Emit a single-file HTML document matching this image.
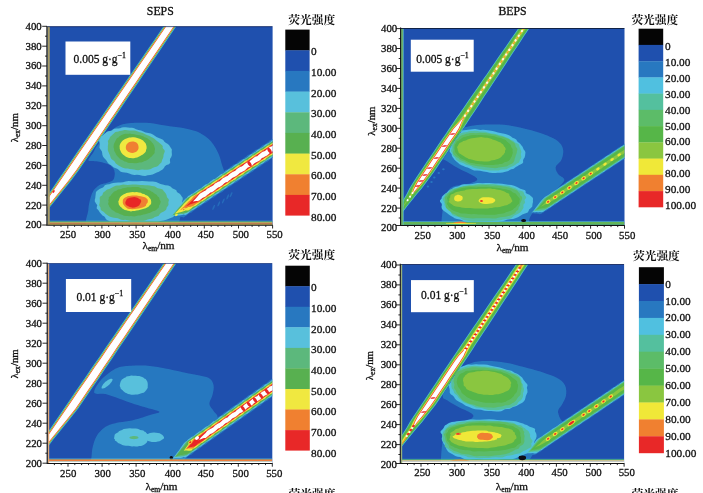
<!DOCTYPE html><html><head><meta charset="utf-8"><title>EEM</title><style>html,body{margin:0;padding:0;background:#fff}svg{display:block;font-family:'Liberation Serif','Noto Serif CJK SC',serif;font-size:10.8px;fill:#111}.t text,text.t{stroke:#111;stroke-width:.3px}</style></head><body>
<svg width="703" height="493" viewBox="0 0 703 493">
<defs><filter id="bl" x="-5%" y="-5%" width="110%" height="110%"><feGaussianBlur stdDeviation="0.45"/></filter></defs>
<rect width="703" height="493" fill="#fff"/>
<clipPath id="ca"><rect x="47.3" y="26.3" width="225.3" height="198.7"/></clipPath>
<rect x="47.3" y="26.3" width="225.3" height="198.7" fill="#1f50ae"/>
<g clip-path="url(#ca)" filter="url(#bl)">
<path fill="#2878c0" d="M88.3,160.1 88.6,159.1 89.5,157.7 90.7,156.1 91.9,154.5 93,153 93.7,151.7 94.3,150.5 94.9,149.2 95.7,147.8 97,146 98.8,143.7 100.9,140.9 103.3,138 105.8,135.2 108.4,132.8 110.9,130.7 113.5,128.7 116.2,126.9 119.3,125.4 122.7,124.2 126.7,123.4 131.3,122.9 136.1,122.7 140.9,122.7 145.4,122.8 149.6,123.1 153.6,123.6 157.5,124.3 161.4,125 165.3,125.6 169.4,126.2 173.6,126.7 177.7,127.2 181.7,127.8 185.3,128.5 188.6,129.2 191.5,129.9 194.3,130.7 196.9,131.6 199.5,132.8 202,134.2 204.5,135.8 206.8,137.5 208.9,139.3 210.9,141.3 212.6,143.4 214.2,145.7 215.6,148 216.9,150.4 218,152.7 219,155 219.8,157.2 220.5,159.4 221.1,161.7 221.7,164 222.5,166.4 223.4,168.7 224.2,171.2 224.5,173.6 224,176 222.5,178.4 220.3,180.8 217.6,183.2 214.8,185.6 212,188 209.4,190.4 206.6,192.7 203.8,195.1 201,197.5 198,200 194.8,202.7 191.5,205.5 188.1,208.3 184.8,211.2 182,214 180.3,217 179.6,220.2 178.7,223.3 176.6,226 172,228 164,229.2 153.3,229.9 141.4,230.1 129.8,230 120,230 111.8,230.1 104.2,230.2 97.5,230.1 92,229.5 88,228 86,225.4 85.7,221.8 86.5,217.7 87.6,213.7 88.3,210.4 88.5,207.7 88.8,205.4 89.2,203.3 89.6,201.4 90.1,199.4 90.7,197.4 91.3,195.5 92,193.6 92.8,191.9 93.7,190.3 94.8,188.9 96.1,187.7 97.4,186.6 98.8,185.6 100.1,184.8 101.4,184.2 102.7,183.9 103.9,183.6 105.2,183.4 106.5,183 107.9,182.5 109.3,182.1 110.7,181.6 111.9,180.9 112.9,180.2 113.6,179.3 114.1,178.2 114.4,177 114.6,175.8 114.7,174.7 114.8,173.6 114.7,172.5 114.5,171.4 114.3,170.3 113.8,169.3 113.2,168.3 112.4,167.3 111.5,166.4 110.5,165.5 109.3,164.7 107.9,164 106.2,163.4 104.4,162.9 102.7,162.4 101,162 99.4,161.7 97.9,161.5 96.4,161.3 95,161.2 93.7,161 92.3,160.9 90.9,160.9 89.6,160.9 88.7,160.7ZM167.7,20 160.8,30 154,40 147.1,50 140.2,60 133.3,70 126.5,80 119.6,90 112.7,100 105.8,110 99,120 92.1,130 85.2,140 78.3,150 71.5,160 64.7,170 57.8,180 51,190 44.2,200 37.3,210 30.5,220 23.7,230 33.3,230 40.6,220 47.9,210 55.9,200 63.9,190 71.9,180 79.3,170 86.1,160 92.9,150 99.7,140 106.5,130 113.2,120 120,110 126.7,100 133.5,90 140.3,80 147,70 153.8,60 160.6,50 167.3,40 174.1,30 180.9,20ZM168,218.2 169.6,217.2 171.1,215.3 172.7,213.2 174.3,211.2 175.8,209.2 177.4,206.9 179,204.5 180.5,202.8 182.1,200.7 183.7,198.9 185.2,197 186.8,195.8 188.3,195.2 189.9,194.2 191.5,193.5 193,191.7 194.6,190.8 196.2,189.9 197.7,189.1 199.3,188.1 200.9,186.4 202.4,185.7 204,184.6 205.6,184.1 207.1,182.7 208.7,181.2 210.3,180.4 211.8,179.4 213.4,178.9 215,177.3 216.5,176.1 218.1,175.1 219.7,174.4 221.2,173.7 222.8,171.9 224.3,171 225.9,169.8 227.5,169.4 229,168.3 230.6,166.8 232.2,165.7 233.7,164.6 235.3,164.3 236.9,162.9 238.4,161.6 240,160.4 241.6,159.5 243.1,159.1 244.7,157.5 246.3,156.5 247.8,155.1 249.4,154.5 251,153.8 252.5,152.3 254.1,151.2 255.7,149.8 257.2,149.5 258.8,148.4 260.3,147.2 261.9,145.8 263.5,144.7 265,144.4 266.6,143 268.2,142 269.7,140.5 271.3,139.7 272.9,139.1 274.4,137.8 276,136.8 276,156 274.4,157 272.9,157.6 271.3,158.6 269.7,159.5 268.2,161.3 266.6,162.1 265,162.9 263.5,163.7 261.9,164.9 260.3,166.6 258.8,167.2 257.2,168.2 255.7,168.8 254.1,170.3 252.5,171.7 251,172.4 249.4,173.4 247.8,174 246.3,175.8 244.7,176.8 243.1,177.7 241.6,178.4 240,179.3 238.4,181.1 236.9,181.9 235.3,183 233.7,183.5 232.2,184.7 230.6,186.3 229,187.1 227.5,188.2 225.9,188.6 224.3,190.1 222.8,191.4 221.2,192.4 219.7,193.3 218.1,193.8 216.5,195.5 215,196.5 213.4,197.8 211.8,198.3 210.3,199.2 208.7,200.7 207.1,201.7 205.6,203 204,203.3 202.4,204.6 200.9,205.9 199.3,207.1 197.7,208.1 196.2,208.5 194.6,209.9 193,211 191.5,212.4 189.9,213.1 188.3,213.7 186.8,215.2 185.2,216.2 183.7,217.5 182.1,216.9 180.5,216.8 179,216.9 177.4,217 175.8,217.1 174.3,216.8 172.7,216.9 171.1,216.9 169.6,217.2 168,218.2Z"/>
<path fill="#58c0dc" d="M171.8,155.6 171.1,157.3 170.1,158.8 169.9,160.6 170.2,162.7 169,164.2 166.5,165.1 164.9,166.3 163.9,168 162.6,169.4 160.8,170.6 158.9,171.7 156.8,172.6 154.7,173.5 152.6,174.4 150.1,174.9 147.6,175.3 145.2,175.9 142.4,175.8 139.5,174.9 136.9,174.7 134.4,175 131.8,174.6 129.2,173.5 126.8,172.8 124.7,172.5 122.7,172.3 120.7,171.7 119.1,170.3 117.7,168.9 115.8,168.2 113.8,167.5 112.3,166.3 110.7,165.1 108.9,164.1 107.6,162.6 106.8,160.9 105.6,159.5 104.1,158.1 103,156.5 102.4,154.7 102.2,152.9 101.8,151.2 100.5,149.5 99.4,147.7 99.6,145.8 99.9,144 99.3,142.1 99,140.1 99.6,139 100.5,137.9 101.4,136.8 102.4,135.8 103.4,134.8 104.4,133.8 105.5,132.9 106.6,132 108,131.2 110,130.9 111.9,130.6 113,129.6 114.3,128.7 116.3,128.6 118.3,128.6 120.1,128.2 121.8,127.6 123.7,127.3 125.7,127.3 127.8,127.5 129.9,127.7 132,127.8 134.1,128.3 136,129.2 138.5,129.9 141,130.5 143.3,131.5 145.5,132.4 148.2,132.9 150.8,133.5 152.9,134.6 154.7,135.8 156.5,137 158.8,137.9 161.4,138.9 163.3,140.1 164.2,141.5 165.7,142.7 167.8,143.9 169.2,145.3 169.9,146.6 170.9,148 171.8,149.3 171.8,150.6 171.7,151.9 171.8,153.1 171.9,154.4ZM182.1,201.5 181.7,203.7 180.8,205.4 180.2,206.9 180.4,208.5 179.4,209.8 176.8,210.8 175.6,211.9 176,213.5 175.7,214.9 174.3,216.1 172.7,217.2 170.6,218.1 168.3,218.9 166.3,219.8 163.7,220.5 160.8,220.9 158.3,221.7 155.6,222.4 152.3,222.6 149,222.9 145.8,223.6 142,223.7 137.7,223.2 132.6,223.3 128.6,223.7 125.4,223.9 122.5,223.8 119.9,223.4 117.6,222.7 115,222.6 112.2,222.6 110.1,221.9 108.6,220.8 106.9,219.9 105.7,218.7 105,217.3 104,216.2 102.5,215.4 101.4,214.3 100.5,213.2 99.5,212 98.8,210.8 97.8,209.6 96.7,208.4 96.8,206.8 97.3,205.2 96.2,203.7 94.8,201.5 94.8,199.4 95.3,197.9 95.4,196.4 95.6,195 95.8,193.6 95.9,192.2 96.8,191 98.2,190 99.5,189 101.2,188.2 103,187.5 104,186.4 104.8,185.2 106.9,184.6 109.3,184.3 111.1,183.6 113.1,183 115.5,182.7 118,182.6 120.5,182.5 123.1,182.2 125.6,181.6 128.6,181 132.6,181.2 137.8,181.2 142.1,181 145.8,181.2 149.2,181.6 152.8,181.6 156.1,181.9 158.3,182.9 160.4,183.9 162.7,184.6 165.3,185.2 168.1,185.6 170.5,186.4 171.5,187.6 172.7,188.6 175,189.4 176.5,190.4 176.8,191.7 177.9,192.8 179.7,193.8 180.8,195.1 181.7,196.4 182.7,197.8 182.7,199.4ZM168.2,20 161.3,30 154.5,40 147.6,50 140.7,60 133.8,70 127,80 120.1,90 113.2,100 106.3,110 99.5,120 92.6,130 85.7,140 78.8,150 72,160 65.2,170 58.3,180 51.5,190 44.7,200 37.8,210 31,220 24.2,230 32.8,230 40.1,220 47.4,210 55.4,200 63.4,190 71.4,180 78.8,170 85.6,160 92.4,150 99.2,140 106,130 112.7,120 119.5,110 126.2,100 133,90 139.8,80 146.5,70 153.3,60 160.1,50 166.8,40 173.6,30 180.4,20ZM168,218.2 169.6,217.2 171.1,216.1 172.7,214.4 174.3,212.3 175.8,210.4 177.4,208.5 179,206.7 180.5,204.4 182.1,202.4 183.7,200.4 185.2,198.9 186.8,197.7 188.3,196.1 189.9,195.2 191.5,194 193,193.6 194.6,192.3 196.2,190.9 197.7,189.9 199.3,188.9 200.9,188.5 202.4,186.9 204,185.8 205.6,184.5 207.1,183.9 208.7,183.2 210.3,181.6 211.8,180.6 213.4,179.2 215,178.9 216.5,177.8 218.1,176.5 219.7,175.3 221.2,174 222.8,173.8 224.3,172.5 225.9,171.3 227.5,169.9 229,169 230.6,168.5 232.2,167.2 233.7,166.1 235.3,164.5 236.9,164 238.4,163.2 240,162 241.6,160.8 243.1,159.3 244.7,158.9 246.3,157.9 247.8,156.9 249.4,155.4 251,154.2 252.5,153.8 254.1,152.6 255.7,151.7 257.2,150 258.8,149.2 260.3,148.5 261.9,147.5 263.5,146.4 265,144.7 266.6,144.1 268.2,143.2 269.7,142.4 271.3,141 272.9,139.5 274.4,139 276,137.9 276,154.3 274.4,155.2 272.9,156.5 271.3,157.7 269.7,159.1 268.2,159.4 266.6,160.6 265,161.6 263.5,163.1 261.9,164.1 260.3,164.6 258.8,165.8 257.2,166.8 255.7,168.5 254.1,169.2 252.5,169.9 251,171 249.4,172.2 247.8,173.8 246.3,174.2 244.7,175.2 243.1,176.1 241.6,177.6 240,178.9 238.4,179.4 236.9,180.5 235.3,181.3 233.7,183 232.2,183.9 230.6,184.7 229,185.6 227.5,186.5 225.9,188.3 224.3,189 222.8,190 221.2,190.7 219.7,191.9 218.1,193.5 216.5,194.2 215,195.2 213.4,195.8 211.8,197.4 210.3,198.6 208.7,199.4 207.1,200.3 205.6,201 204,202.8 202.4,203.7 200.9,204.7 199.3,205.4 197.7,206.3 196.2,208 194.6,208.9 193,210 191.5,210.4 189.9,211.8 188.3,213.2 186.8,214.2 185.2,215 183.7,214.5 182.1,215.1 180.5,215.3 179,215.5 177.4,215.4 175.8,215.4 174.3,215.7 172.7,215.8 171.1,216.1 169.6,217.2 168,218.2Z"/>
<path fill="#5cb87c" d="M163.8,153.9 163.5,155.3 163.4,156.8 163,158.2 162.3,159.5 161.9,160.9 161.4,162.4 160.2,163.6 159,164.7 158,166 156.3,166.8 154.2,167.3 152.5,168.1 150.9,169 149,169.6 146.9,169.8 144.6,169.7 142.3,169.5 140.3,169.8 138.3,170.3 136.1,170 134,169.5 131.9,169.3 129.7,169 127.7,168.5 126,168.4 124.4,168.3 122.8,167.7 121.3,167 119.9,166.3 118.5,165.4 117.2,164.5 115.8,163.6 115,162.3 114.2,160.9 112.8,160 111.4,159.1 110.7,157.7 110.3,156.2 109.7,154.8 109.1,153.5 108.5,152.1 107.9,150.7 107.8,149.3 107.9,147.8 107.8,146.4 108,145 108.2,143.5 108,142.1 107.8,140.9 108.5,140 109.3,139.1 109.6,138.1 110,137.1 110.8,136.2 111.7,135.4 112.7,134.6 113.6,133.8 114.3,132.9 115.4,132.1 117,131.8 118.5,131.5 119.8,131 121.3,130.7 122.8,130.5 124.3,130.1 125.8,130 127.5,130.2 129.2,130.4 130.8,130.4 132.4,130.4 134.1,130.4 135.7,130.7 137.8,131.6 139.8,132.3 142,132.7 144,133.4 145.7,134.4 147.5,135.3 149.5,136 151.2,136.9 152.9,137.8 154.5,138.8 155.8,139.9 156.9,140.9 158.3,142 159.5,143 160.7,144.1 162.1,145.2 162.8,146.3 162.6,147.4 163,148.6 164.2,149.7 164.8,150.9 164.6,151.9 164.2,152.9ZM168.5,201.5 168.3,203.1 168.6,204.6 167.9,206 166.8,207.2 166.5,208.5 166.1,209.7 164.9,210.8 163.3,211.7 161.6,212.5 160.2,213.4 159.5,214.6 158.7,215.8 156.8,216.4 154.8,217 153.5,218 151.7,218.7 149.4,219 147.5,219.6 145.5,220.4 143.3,220.9 140.8,221.1 138.3,221.2 135.6,221.1 132.6,221 129.9,220.8 127.6,220.3 125.5,219.8 123.3,220 121.1,219.8 119.5,218.9 117.9,218.2 115.9,218 113.8,217.7 111.9,217.3 110.1,216.7 108.6,215.9 107.3,215 105.8,214.1 104.8,213 103.9,211.9 102.3,211 100.8,210 100.6,208.7 100.4,207.3 99.5,206.1 99.1,204.7 99.6,203.2 99.8,201.5 99.8,200 99.7,198.7 99.7,197.4 100.5,196.3 102,195.4 102.7,194.3 102.9,193.1 103.9,192.1 105.2,191.3 106.1,190.3 107.3,189.5 109.2,189 110.8,188.3 112.1,187.5 113.5,186.7 115,186 116.9,185.5 119.1,185.4 121.2,185.1 123.1,184.6 125.4,184.7 127.7,185 130,184.8 132.6,184.4 135.5,184.5 138,184.8 140.4,184.9 142.7,185.1 145,185.2 147.4,185.3 149.7,185.6 151.9,185.9 154.2,186.2 155.9,186.9 157.1,188 159,188.5 161.4,188.9 162.9,189.8 163.6,190.9 164.6,192 165.4,193 166,194.1 166.6,195.2 166.8,196.4 167.2,197.6 168.3,198.7 169,200ZM168.6,20 161.8,30 154.9,40 148,50 141.2,60 134.3,70 127.4,80 120.5,90 113.7,100 106.8,110 99.9,120 93,130 86.2,140 79.3,150 72.4,160 65.6,170 58.8,180 52,190 45.1,200 38.3,210 31.5,220 24.6,230 32.3,230 39.6,220 47,210 55,200 62.9,190 70.9,180 78.3,170 85.2,160 92,150 98.7,140 105.5,130 112.3,120 119,110 125.8,100 132.6,90 139.3,80 146.1,70 152.9,60 159.6,50 166.4,40 173.1,30 179.9,20ZM168,218.2 169.6,217.2 171.1,216.1 172.7,215 174.3,213.1 175.8,211.2 177.4,209.3 179,207.3 180.5,205.8 182.1,203.9 183.7,201.9 185.2,199.8 186.8,198 188.3,197.7 189.9,196.3 191.5,195.2 193,193.7 194.6,193 196.2,192.4 197.7,191 199.3,189.9 200.9,188.4 202.4,188 204,187 205.6,185.9 207.1,184.6 208.7,183.2 210.3,182.9 211.8,181.7 213.4,180.8 215,179.2 216.5,178.2 218.1,177.7 219.7,176.5 221.2,175.5 222.8,173.8 224.3,173.2 225.9,172.3 227.5,171.4 229,170.2 230.6,168.6 232.2,168.1 233.7,167 235.3,166.3 236.9,164.7 238.4,163.4 240,162.9 241.6,161.8 243.1,161.1 244.7,159.3 246.3,158.4 247.8,157.6 249.4,156.7 251,155.8 252.5,154 254.1,153.3 255.7,152.3 257.2,151.7 258.8,150.4 260.3,148.8 261.9,148.1 263.5,147.1 265,146.6 266.6,144.9 268.2,143.7 269.7,142.8 271.3,142 272.9,141.3 274.4,139.6 276,138.6 276,153.6 274.4,154.8 272.9,155.9 271.3,156.7 269.7,157.3 268.2,158.9 266.6,159.9 265,161.2 263.5,161.7 261.9,162.7 260.3,164.1 258.8,165.2 257.2,166.4 255.7,166.7 254.1,168 252.5,169.3 251,170.6 249.4,171.5 247.8,171.9 246.3,173.4 244.7,174.4 243.1,175.9 241.6,176.5 240,177.2 238.4,178.6 236.9,179.7 235.3,181.2 233.7,181.6 232.2,182.6 230.6,183.7 229,185.1 227.5,186.3 225.9,186.7 224.3,187.9 222.8,188.9 221.2,190.5 219.7,191.4 218.1,191.9 216.5,193.1 215,194.1 213.4,195.8 211.8,196.4 210.3,197.3 208.7,198.2 207.1,199.5 205.6,201 204,201.5 202.4,202.5 200.9,203.3 199.3,204.9 197.7,206.1 196.2,206.7 194.6,207.7 193,208.5 191.5,210.3 189.9,211.2 188.3,212 186.8,212.8 185.2,213.2 183.7,214 182.1,213.9 180.5,214.1 179,214.1 177.4,214.5 175.8,214.8 174.3,215 172.7,215.2 171.1,216.1 169.6,217.2 168,218.2Z"/>
<path fill="#58b050" d="M154.7,150.4 154.6,151.7 154.7,153.1 153.7,154.2 152.7,155.3 151.8,156.4 150.6,157.3 149.6,158.3 148.4,159.2 147.2,160.1 145.8,160.8 144.1,161.3 142.7,162 141.1,162.5 139.3,162.6 137.6,163 135.9,163.2 134.1,163.2 132.3,163.1 130.4,163 128.8,163 127.4,162.5 126.1,161.8 124.6,161.5 123.4,160.7 122.1,160 120.6,159.5 119.6,158.5 118.7,157.4 117.7,156.4 116.8,155.4 115.9,154.2 115.5,153 114.7,151.8 114.1,150.6 114.1,149.2 113.7,147.9 113.5,146.6 113.7,145.3 113.9,144.1 114.4,143 114.9,142 115.4,141 115.9,140 116.3,138.9 117.3,138.1 118.4,137.4 119.1,136.4 120.3,135.7 121.5,135.1 122.8,134.5 124.1,134.1 125.5,133.8 127.1,133.7 128.5,133.7 130,133.6 131.5,133.9 132.9,134.1 134.5,134.2 136.1,134.8 137.9,135 139.7,135.2 141.5,135.7 143.1,136.3 144.5,137.2 146.2,137.8 147.7,138.6 148.8,139.6 150.3,140.4 151.3,141.4 152,142.5 153,143.6 153.7,144.7 154.2,145.8 154.5,147 154.8,148.1 155.1,149.3ZM160.7,201.5 160.5,202.6 160.2,203.7 159.6,204.8 158.9,205.8 159,207 158.4,208.1 157.1,208.9 156.2,209.9 154.8,210.7 152.9,211.3 151.5,212 150.1,212.7 148.3,213.2 146.8,213.8 145.2,214.3 143.4,214.6 141.8,215.1 140,215.5 138.1,215.5 136.4,216.1 134.5,216.5 132.6,216.2 130.9,216.1 129.2,216.2 127.5,216 125.8,215.9 124,215.7 122.6,215.1 121.1,214.6 119.7,214 118.5,213.2 117,212.7 115.3,212.2 114.4,211.3 113.2,210.5 111.7,209.8 110.9,208.8 110.2,207.8 109.4,206.9 109,205.8 108.4,204.8 108,203.7 108.5,202.6 108.6,201.5 108.2,200.4 108.6,199.4 108.8,198.4 108.8,197.3 109.7,196.4 110.8,195.5 111.4,194.5 112.2,193.6 113,192.7 113.9,191.7 115.4,191.1 116.7,190.4 117.9,189.6 119.6,189.3 121.2,188.9 122.6,188.3 124.2,187.9 125.9,187.7 127.5,187.3 129.2,187.3 130.9,187.2 132.6,186.9 134.5,186.9 136.5,187 138.4,187.1 140.1,187.7 141.7,188.4 143.6,188.5 145.4,188.8 147,189.4 148.6,189.9 150.1,190.6 151.3,191.4 152.7,192.1 153.8,192.9 154.8,193.8 156.3,194.5 157.2,195.4 157.7,196.4 158.9,197.3 159.4,198.3 159.5,199.4 160.2,200.4ZM169,20 162.2,30 155.3,40 148.4,50 141.6,60 134.7,70 127.8,80 120.9,90 114.1,100 107.2,110 100.3,120 93.4,130 86.6,140 79.7,150 72.8,160 66,170 59.2,180 52.4,190 45.5,200 38.7,210 31.9,220 25,230 31.9,230 39.2,220 46.6,210 54.6,200 62.5,190 70.5,180 77.9,170 84.8,160 91.6,150 98.3,140 105.1,130 111.9,120 118.6,110 125.4,100 132.2,90 138.9,80 145.7,70 152.5,60 159.2,50 166,40 172.7,30 179.5,20ZM168,218.2 169.6,217.2 171.1,216.1 172.7,215.1 174.3,213.7 175.8,211.9 177.4,210.1 179,208.4 180.5,206.3 182.1,204.7 183.7,203.2 185.2,201.4 186.8,199.5 188.3,197.5 189.9,197.1 191.5,196.1 193,195.2 194.6,193.8 196.2,192.4 197.7,191.9 199.3,190.8 200.9,190.1 202.4,188.3 204,187.3 205.6,186.6 207.1,185.7 208.7,184.8 210.3,183 211.8,182.3 213.4,181.3 215,180.6 216.5,179.4 218.1,177.8 219.7,177.1 221.2,176.1 222.8,175.5 224.3,174 225.9,172.7 227.5,171.9 229,170.9 230.6,170.3 232.2,168.6 233.7,167.6 235.3,166.5 236.9,165.9 238.4,165 240,163.3 241.6,162.4 243.1,161.3 244.7,160.9 246.3,159.6 247.8,158.1 249.4,157.2 251,156.1 252.5,155.7 254.1,154.2 255.7,153 257.2,151.8 258.8,151.1 260.3,150.5 261.9,148.9 263.5,147.8 265,146.5 266.6,146.1 268.2,145.1 269.7,143.7 271.3,142.6 272.9,141.3 274.4,141 276,139.7 276,152.8 274.4,153.9 272.9,154.5 271.3,155.8 269.7,157.3 268.2,158 266.6,159.1 265,159.6 263.5,161.3 261.9,162.4 260.3,163.3 258.8,164.1 257.2,164.9 255.7,166.6 254.1,167.5 252.5,168.6 251,169.2 249.4,170.2 247.8,171.8 246.3,172.7 244.7,173.9 243.1,174.2 241.6,175.6 240,177 238.4,178.1 236.9,179 235.3,179.4 233.7,181 232.2,182.1 230.6,183.4 229,184 227.5,184.7 225.9,186.3 224.3,187.3 222.8,188.7 221.2,189 219.7,190.1 218.1,191.4 216.5,192.6 215,193.8 213.4,194.1 211.8,195.5 210.3,196.6 208.7,198 207.1,198.9 205.6,199.4 204,200.7 202.4,201.8 200.9,203.4 199.3,203.9 197.7,204.7 196.2,205.9 194.6,207.1 193,208.6 191.5,208.9 189.9,210 188.3,211 186.8,212.2 185.2,212.5 183.7,212.4 182.1,212.8 180.5,213 179,213.6 177.4,213.8 175.8,214.1 174.3,214.4 172.7,215.1 171.1,216.1 169.6,217.2 168,218.2Z"/>
<path fill="#f0e840" d="M146.6,147.2 146.6,148.5 146.1,149.8 145.9,151.2 145.1,152.4 144,153.5 142.9,154.5 141.4,155.2 140.2,156.1 138.7,156.7 137.2,157.4 135.6,157.7 133.9,158.2 132.2,158.3 130.7,158.1 129.1,158.1 127.7,157.5 126.4,156.9 125.2,156.2 124,155.3 122.9,154.4 122,153.4 121.1,152.3 120.6,151.1 120,149.8 119.7,148.5 119.7,147.2 119.6,146 119.9,144.8 120.4,143.6 121.1,142.5 121.8,141.5 122.8,140.5 123.9,139.7 125.1,138.9 126.5,138.5 127.8,137.9 129.2,137.5 130.7,137.4 132.2,137.3 133.9,137.3 135.6,137.6 137.2,138 138.8,138.4 140.4,138.9 141.7,139.7 143.1,140.5 143.9,141.5 144.9,142.5 145.7,143.6 146.1,144.8 146.5,146ZM151.2,201.5 151.2,202.6 151.1,203.7 150.4,204.7 149.2,205.7 148.5,206.7 147,207.5 145.7,208.3 143.9,208.8 142.1,209.3 140.2,209.7 138.5,210.2 136.5,210.4 134.6,210.9 132.6,211 131,211.4 129.4,211 127.8,210.7 126.3,210.3 124.8,209.9 123.6,209.2 122.3,208.4 121.5,207.5 120.4,206.7 119.7,205.7 118.9,204.8 118.7,203.7 118.5,202.6 118.3,201.5 118.8,200.5 119.2,199.5 119.5,198.5 119.9,197.4 120.7,196.5 121.6,195.7 122.7,195 123.8,194.2 125.2,193.7 126.4,192.9 128,192.8 129.4,192.4 131,192.2 132.6,192 134.7,192.2 136.8,192.1 138.8,192.5 140.8,192.8 142.3,193.7 144.2,194.1 145.5,194.9 147.1,195.6 148.4,196.5 149.2,197.4 150,198.4 150.8,199.4 151,200.4ZM169.4,20 162.6,30 155.7,40 148.8,50 142,60 135.1,70 128.2,80 121.3,90 114.5,100 107.6,110 100.7,120 93.8,130 87,140 80.1,150 73.2,160 66.4,170 59.6,180 52.8,190 45.9,200 39.1,210 32.3,220 25.4,230 31.5,230 38.8,220 46.2,210 54.2,200 62.1,190 70.1,180 77.5,170 84.4,160 91.2,150 97.9,140 104.7,130 111.5,120 118.2,110 125,100 131.8,90 138.5,80 145.3,70 152.1,60 158.8,50 165.6,40 172.3,30 179.1,20ZM168,218.2 169.6,217.2 171.1,216.1 172.7,215.1 174.3,214 175.8,212.6 177.4,211 179,209.3 180.5,207.8 182.1,205.9 183.7,204 185.2,202.6 186.8,200.9 188.3,199.7 189.9,197.7 191.5,196.6 193,195.7 194.6,194.9 196.2,194.1 197.7,192.4 199.3,191.5 200.9,190.4 202.4,189.9 204,188.7 205.6,187.1 207.1,186.3 208.7,185.2 210.3,184.8 211.8,183.3 213.4,182 215,181 216.5,180.1 218.1,179.6 219.7,177.9 221.2,176.9 222.8,175.6 224.3,175.1 225.9,174.3 227.5,172.7 229,171.7 230.6,170.4 232.2,170.1 233.7,168.9 235.3,167.5 236.9,166.3 238.4,165.3 240,164.9 241.6,163.5 243.1,162.4 244.7,161 246.3,160.2 247.8,159.7 249.4,158.3 251,157.2 252.5,155.7 254.1,155.2 255.7,154.3 257.2,153.1 258.8,151.9 260.3,150.5 261.9,150.1 263.5,149 265,148 266.6,146.4 268.2,145.4 269.7,144.9 271.3,143.7 272.9,142.8 274.4,141.1 276,140.4 276,151.7 274.4,152.7 272.9,154.4 271.3,155.2 269.7,155.8 268.2,156.9 266.6,158 265,159.7 263.5,160.2 261.9,161.2 260.3,162 258.8,163.4 257.2,164.9 255.7,165.4 254.1,166.4 252.5,167.1 251,168.8 249.4,169.9 247.8,170.6 246.3,171.6 244.7,172.4 243.1,174.2 241.6,175 240,175.9 238.4,176.6 236.9,177.7 235.3,179.4 233.7,180.1 232.2,181.2 230.6,181.7 229,183.2 227.5,184.6 225.9,185.4 224.3,186.3 222.8,186.9 221.2,188.6 219.7,189.7 218.1,190.7 216.5,191.4 215,192.2 213.4,193.9 211.8,194.8 210.3,196 208.7,196.4 207.1,197.6 205.6,199.1 204,200.1 202.4,201.2 200.9,201.5 199.3,203 197.7,204.2 196.2,205.4 194.6,206.2 193,206.7 191.5,208.3 189.9,209.4 188.3,210.5 186.8,210.4 185.2,210.6 183.7,211.3 182.1,211.8 180.5,212.3 179,212.4 177.4,212.9 175.8,213.3 174.3,214 172.7,215.1 171.1,216.1 169.6,217.2 168,218.2Z"/>
<path fill="#f08030" d="M138.6,147.2 138.5,148.5 138,149.7 137.3,150.8 136.3,151.7 135,152.3 133.7,152.8 132.2,152.9 130.8,152.8 129.4,152.3 128.1,151.7 127.1,150.8 126.3,149.7 125.9,148.5 125.8,147.2 126,146 126.4,144.8 127.2,143.7 128.2,142.8 129.4,142.1 130.8,141.7 132.2,141.5 133.7,141.6 135.1,141.9 136.4,142.6 137.4,143.6 138.1,144.7 138.4,146ZM147.8,201.5 147.7,202.6 146.8,203.6 146.2,204.6 145.9,205.8 144.4,206.7 142.7,207.5 140.7,208 138.7,208.5 136.5,208.8 134.3,209.1 132.2,209.3 130.8,209 129.3,209 127.8,208.7 126.7,207.9 125.6,207.1 124.7,206.2 124,205.2 123.2,204.3 122.9,203.2 122.7,202.1 122.9,201.1 122.8,200.2 123.2,199.3 123.9,198.6 124.7,197.8 125.7,197.2 126.9,196.7 128,196.1 129.5,196.1 130.8,195.7 132.2,195.6 134.3,195.5 136.7,195.6 138.9,195.9 140.9,196.3 143,196.7 144.8,197.3 146.3,198 146.9,198.9 147.9,199.7 147.8,200.6ZM169.8,20 163,30 156.1,40 149.2,50 142.4,60 135.5,70 128.6,80 121.7,90 114.9,100 108,110 101.1,120 94.2,130 87.4,140 80.5,150 73.6,160 66.8,170 60,180 53.2,190 46.3,200 39.5,210 32.7,220 25.8,230 31.1,230 38.4,220 45.8,210 53.8,200 61.7,190 69.7,180 77.1,170 84,160 90.8,150 97.5,140 104.3,130 111.1,120 117.8,110 124.6,100 131.4,90 138.1,80 144.9,70 151.7,60 158.4,50 165.2,40 171.9,30 178.7,20ZM168,218.2 169.6,217.2 171.1,216.1 172.7,215.1 174.3,214 175.8,213 177.4,211.9 179,210.9 180.5,209.7 182.1,208.1 183.7,206.7 185.2,204.9 186.8,203.4 188.3,201.7 189.9,200.6 191.5,199 193,197.1 194.6,195.7 196.2,194.5 197.7,194.2 199.3,192.8 200.9,191.6 202.4,190.3 204,189.5 205.6,189 207.1,187.5 208.7,186.5 210.3,185 211.8,184.5 213.4,183.7 215,182.3 216.5,181.2 218.1,179.7 219.7,179.4 221.2,178.3 222.8,177.2 224.3,175.8 225.9,174.6 227.5,174.3 229,173 230.6,172 232.2,170.4 233.7,169.6 235.3,169 236.9,167.8 238.4,166.8 240,165.1 241.6,164.6 243.1,163.7 244.7,162.7 246.3,161.4 247.8,159.9 249.4,159.5 251,158.4 252.5,157.6 254.1,155.9 255.7,154.8 257.2,154.2 258.8,153.2 260.3,152.3 261.9,150.6 263.5,149.8 265,148.9 266.6,148.1 268.2,147 269.7,145.3 271.3,144.7 272.9,143.7 274.4,143 276,141.6 276,150.9 274.4,152.2 272.9,152.5 271.3,153.7 269.7,154.9 268.2,156.2 266.6,157.3 265,157.7 263.5,159 261.9,160.1 260.3,161.6 258.8,162.4 257.2,163 255.7,164.3 254.1,165.3 252.5,166.9 251,167.4 249.4,168.3 247.8,169.4 246.3,170.7 244.7,172.1 243.1,172.5 241.6,173.6 240,174.5 238.4,176.1 236.9,177.2 235.3,177.7 233.7,178.8 232.2,179.7 230.6,181.5 229,182.2 227.5,183 225.9,183.9 224.3,185.1 222.8,186.8 221.2,187.3 219.7,188.3 218.1,189 216.5,190.5 215,191.9 213.4,192.5 211.8,193.5 210.3,194.2 208.7,195.9 207.1,197 205.6,197.8 204,198.6 202.4,199.5 200.9,201.3 199.3,202.1 197.7,203.1 196.2,203.7 194.6,204.9 193,206.1 191.5,206.4 189.9,206.9 188.3,207.1 186.8,207.9 185.2,208.5 183.7,209 182.1,209.5 180.5,210 179,210.9 177.4,211.9 175.8,213 174.3,214 172.7,215.1 171.1,216.1 169.6,217.2 168,218.2Z"/>
<path fill="#e82828" d="M141.2,201.5 140.7,202.8 140,204.1 139.3,205.3 137.9,206.3 136.2,206.9 134.5,207.4 132.6,207.7 131.1,207.3 129.6,207 128.3,206.2 126.8,205.6 125.8,204.4 125.2,203 125.6,201.5 126.1,200.6 126.4,199.7 127.1,198.8 128.3,198.2 129.6,197.7 131.1,197.4 132.6,197.2 134.6,197 136.4,197.6 138,198.1 139.2,198.9 140.7,199.6 141.1,200.5ZM170.2,20 163.3,30 156.5,40 149.6,50 142.7,60 135.8,70 129,80 122.1,90 115.2,100 108.3,110 101.5,120 94.6,130 87.7,140 80.8,150 74,160 67.2,170 60.3,180 53.5,190 46.7,200 39.8,210 33,220 26.2,230 31.1,230 38.1,220 45.4,210 53.4,200 61.4,190 69.4,180 76.8,170 83.6,160 90.4,150 97.2,140 104,130 110.7,120 117.5,110 124.2,100 131,90 137.8,80 144.5,70 151.3,60 158.1,50 164.8,40 171.6,30 178.4,20ZM168,218.2 169.6,217.2 171.1,216.1 172.7,215.1 174.3,214 175.8,213 177.4,211.9 179,210.9 180.5,209.9 182.1,208.8 183.7,207.8 185.2,206.7 186.8,205.5 188.3,204 189.9,202.4 191.5,200.9 193,199.7 194.6,198.1 196.2,196.7 197.7,194.7 199.3,193.6 200.9,192.6 202.4,191.5 204,190.3 205.6,188.8 207.1,188.4 208.7,187.3 210.3,186.4 211.8,184.9 213.4,183.7 215,183.2 216.5,182.1 218.1,181.2 219.7,179.5 221.2,178.6 222.8,177.9 224.3,176.9 225.9,175.9 227.5,174.2 229,173.6 230.6,172.6 232.2,171.9 233.7,170.5 235.3,169 236.9,168.4 238.4,167.4 240,166.7 241.6,165.1 243.1,163.9 244.7,163.1 246.3,162.2 247.8,161.5 249.4,159.7 251,158.8 252.5,157.8 254.1,157.2 255.7,156.1 257.2,154.5 258.8,153.6 260.3,152.6 261.9,152.1 263.5,150.7 265,149.3 266.6,148.4 268.2,147.4 269.7,147 271.3,145.3 272.9,144.2 274.4,143 276,142.4 276,150.1 274.4,150.6 272.9,152.3 271.3,153.4 269.7,154.5 268.2,155.1 266.6,156 265,157.6 263.5,158.6 261.9,159.8 260.3,160.1 258.8,161.4 257.2,162.8 255.7,163.9 254.1,164.9 252.5,165.2 251,166.7 249.4,167.9 247.8,169.2 246.3,169.9 244.7,170.5 243.1,172 241.6,173.1 240,174.5 238.4,174.9 236.9,175.9 235.3,177.2 233.7,178.4 232.2,179.7 230.6,180 229,181.2 227.5,182.3 225.9,183.8 224.3,184.8 222.8,185.2 221.2,186.5 219.7,187.5 218.1,189.2 216.5,189.8 215,190.5 213.4,191.7 211.8,192.8 210.3,194.4 208.7,194.8 207.1,195.8 205.6,196.8 204,198.2 202.4,199.6 200.9,200 199.3,200.9 197.7,201.4 196.2,202.5 194.6,203 193,203.4 191.5,204 189.9,204.6 188.3,205.4 186.8,205.9 185.2,206.7 183.7,207.8 182.1,208.8 180.5,209.9 179,210.9 177.4,211.9 175.8,213 174.3,214 172.7,215.1 171.1,216.1 169.6,217.2 168,218.2Z"/>
<path fill="#ffffff" d="M170.6,20 163.7,30 156.9,40 150,50 143.1,60 136.2,70 129.4,80 122.5,90 115.6,100 108.7,110 101.9,120 95,130 88.1,140 81.2,150 74.4,160 67.6,170 60.7,180 53.9,190 47.1,200 40.2,210 33.4,220 26.6,230 31.1,230 37.9,220 45,210 53,200 61,190 69,180 76.4,170 83.2,160 90,150 96.8,140 103.6,130 110.3,120 117.1,110 123.8,100 130.6,90 137.4,80 144.1,70 150.9,60 157.7,50 164.4,40 171.2,30 178,20ZM168,218.2 169.6,217.2 171.1,216.1 172.7,215.1 174.3,214 175.8,213 177.4,211.9 179,210.9 180.5,209.9 182.1,208.8 183.7,207.8 185.2,206.7 186.8,205.7 188.3,204.6 189.9,203.6 191.5,202.5 193,201.5 194.6,199.7 196.2,197.9 197.7,196.3 199.3,194.2 200.9,192.9 202.4,192.3 204,191.3 205.6,190.6 207.1,188.8 208.7,187.9 210.3,187 211.8,186.2 213.4,185.3 215,183.5 216.5,182.7 218.1,181.7 219.7,181.2 221.2,179.8 222.8,178.3 224.3,177.5 225.9,176.5 227.5,176 229,174.4 230.6,173.2 232.2,172.2 233.7,171.4 235.3,170.8 236.9,169.1 238.4,168.1 240,166.9 241.6,166.4 243.1,165.4 244.7,163.9 246.3,162.9 247.8,161.7 249.4,161.4 251,160 252.5,158.7 254.1,157.5 255.7,156.6 257.2,156.2 258.8,154.7 260.3,153.6 261.9,152.2 263.5,151.6 265,150.9 266.6,149.4 268.2,148.3 269.7,146.9 271.3,146.6 272.9,145.5 274.4,144.3 276,143 276,149.1 274.4,150.7 272.9,151.2 271.3,152.3 269.7,152.9 268.2,154.5 266.6,155.8 265,156.5 263.5,157.4 261.9,158.1 260.3,159.9 258.8,160.9 257.2,161.8 255.7,162.5 254.1,163.5 252.5,165.2 251,166 249.4,167.1 247.8,167.6 246.3,168.9 244.7,170.4 243.1,171.2 241.6,172.2 240,172.7 238.4,174.3 236.9,175.5 235.3,176.5 233.7,177.3 232.2,177.9 230.6,179.6 229,180.6 227.5,181.9 225.9,182.3 224.3,183.3 222.8,184.8 221.2,185.9 219.7,187.1 218.1,187.4 216.5,188.7 215,190 213.4,191.2 211.8,192.2 210.3,192.6 208.7,194 207.1,195.1 205.6,196.6 204,197.2 202.4,197.9 200.9,199.3 199.3,200.4 197.7,201.1 196.2,200.9 194.6,201.2 193,201.5 191.5,202.5 189.9,203.6 188.3,204.6 186.8,205.7 185.2,206.7 183.7,207.8 182.1,208.8 180.5,209.9 179,210.9 177.4,211.9 175.8,213 174.3,214 172.7,215.1 171.1,216.1 169.6,217.2 168,218.2Z"/>
<ellipse cx="53.6" cy="191.5" rx="1.6" ry="0.9" fill="#e82828" transform="rotate(-56 53.6 191.5)"/>
<ellipse cx="218.8" cy="203.8" rx="0.8" ry="2.8" fill="#2878c0" opacity=".7" transform="rotate(25 218.8 203.8)"/>
<ellipse cx="223.3" cy="201" rx="0.8" ry="2.8" fill="#2878c0" opacity=".7" transform="rotate(25 223.3 201)"/>
<ellipse cx="227.7" cy="196.9" rx="0.8" ry="2.8" fill="#2878c0" opacity=".7" transform="rotate(25 227.7 196.9)"/>
<ellipse cx="213.7" cy="207.4" rx="0.8" ry="2.8" fill="#2878c0" opacity=".7" transform="rotate(25 213.7 207.4)"/>
<ellipse cx="231.1" cy="194.7" rx="0.8" ry="2.8" fill="#2878c0" opacity=".7" transform="rotate(25 231.1 194.7)"/>
<ellipse cx="249.5" cy="163.8" rx="1.6" ry="3" fill="#e82828" transform="rotate(-34 249.5 163.8)"/>
<ellipse cx="269.5" cy="150.5" rx="1.6" ry="3" fill="#e82828" transform="rotate(-34 269.5 150.5)"/>
<ellipse cx="176.4" cy="214.9" rx="1.6" ry="1.1" fill="#f0e840" transform="rotate(-34 176.4 214.9)"/>
<ellipse cx="183.7" cy="209.4" rx="2" ry="1.3" fill="#f0e840" transform="rotate(-34 183.7 209.4)"/>
<ellipse cx="183.7" cy="209.4" rx="1" ry="0.7" fill="#f08030" transform="rotate(-34 183.7 209.4)"/>
<rect x="47.3" y="220.8" width="225.3" height="0.7" fill="#58c0dc"/>
<rect x="47.3" y="221.5" width="225.3" height="0.5" fill="#58b050"/>
<rect x="47.3" y="222" width="225.3" height="1.3" fill="#b0a860"/>
<rect x="47.3" y="223.3" width="225.3" height="1.2" fill="#f08030"/>
<rect x="47.3" y="224.5" width="225.3" height="0.5" fill="#f0e840"/>
<rect x="47.3" y="26.3" width="2.5" height="198.7" fill="#a89c68"/>
<rect x="47.3" y="26.3" width="225.3" height="0.8" fill="#18244c"/>
</g>
<path d="M46.9,25.9V225.3H272.9" stroke="#111" stroke-width="1.1" fill="none"/>
<path d="M47,225h-4.8M47,215.1h-2M47,205.1h-4.8M47,195.2h-2M47,185.3h-4.8M47,175.3h-2M47,165.4h-4.8M47,155.5h-2M47,145.5h-4.8M47,135.6h-2M47,125.7h-4.8M47,115.7h-2M47,105.8h-4.8M47,95.8h-2M47,85.9h-4.8M47,76h-2M47,66h-4.8M47,56.1h-2M47,46.2h-4.8M47,36.2h-2M47,26.3h-4.8M54.1,225.3v1.6M61,225.3v1.6M67.8,225.3v3.2M74.6,225.3v1.6M81.4,225.3v1.6M88.3,225.3v1.6M95.1,225.3v1.6M101.9,225.3v3.2M108.7,225.3v1.6M115.6,225.3v1.6M122.4,225.3v1.6M129.2,225.3v1.6M136.1,225.3v3.2M142.9,225.3v1.6M149.7,225.3v1.6M156.5,225.3v1.6M163.4,225.3v1.6M170.2,225.3v3.2M177,225.3v1.6M183.8,225.3v1.6M190.7,225.3v1.6M197.5,225.3v1.6M204.3,225.3v3.2M211.2,225.3v1.6M218,225.3v1.6M224.8,225.3v1.6M231.6,225.3v1.6M238.5,225.3v3.2M245.3,225.3v1.6M252.1,225.3v1.6M258.9,225.3v1.6M265.8,225.3v1.6M272.6,225.3v3.2" stroke="#111" stroke-width="0.9" fill="none"/>
<g class="t">
<text x="41.7" y="228.4" text-anchor="end">200</text>
<text x="41.7" y="208.5" text-anchor="end">220</text>
<text x="41.7" y="188.7" text-anchor="end">240</text>
<text x="41.7" y="168.8" text-anchor="end">260</text>
<text x="41.7" y="148.9" text-anchor="end">280</text>
<text x="41.7" y="129.1" text-anchor="end">300</text>
<text x="41.7" y="109.2" text-anchor="end">320</text>
<text x="41.7" y="89.3" text-anchor="end">340</text>
<text x="41.7" y="69.4" text-anchor="end">360</text>
<text x="41.7" y="49.6" text-anchor="end">380</text>
<text x="41.7" y="29.7" text-anchor="end">400</text>
<text x="68" y="238.3" text-anchor="middle">250</text>
<text x="102.5" y="238.3" text-anchor="middle">300</text>
<text x="137.3" y="238.3" text-anchor="middle">350</text>
<text x="172.8" y="238.3" text-anchor="middle">400</text>
<text x="205.9" y="238.3" text-anchor="middle">450</text>
<text x="240.9" y="238.3" text-anchor="middle">500</text>
<text x="274.6" y="238.3" text-anchor="middle">550</text>
<text x="158.5" y="249.2" text-anchor="middle" font-size="11.2">λ<tspan font-size="7.6" dy="2">em</tspan><tspan dy="-2">/nm</tspan></text>
<text transform="translate(18.3,127.7) rotate(-90)" text-anchor="middle">λ<tspan font-size="7.5" dy="2">ex</tspan><tspan dy="-2">/nm</tspan></text>
</g>
<rect x="65.5" y="41.5" width="64.8" height="33.3" fill="#fff"/><text class="t" font-size="11.5" x="73.5" y="62.6">0.005 g·g<tspan font-size="7.8" dy="-4.2">−1</tspan></text>
<text class="t" x="160.3" y="14.6" text-anchor="middle" font-size="11.8">SEPS</text>
<rect x="285.3" y="29.6" width="24.3" height="21" fill="#050505"/>
<rect x="285.3" y="50.3" width="24.3" height="21" fill="#1f50ae"/>
<rect x="285.3" y="70.9" width="24.3" height="21" fill="#2878c0"/>
<rect x="285.3" y="91.6" width="24.3" height="21" fill="#58c0dc"/>
<rect x="285.3" y="112.3" width="24.3" height="21" fill="#5cb87c"/>
<rect x="285.3" y="132.9" width="24.3" height="21" fill="#58b050"/>
<rect x="285.3" y="153.6" width="24.3" height="21" fill="#f0e840"/>
<rect x="285.3" y="174.3" width="24.3" height="21" fill="#f08030"/>
<rect x="285.3" y="194.9" width="24.3" height="20.7" fill="#e82828"/>
<g class="t" font-size="11.3">
<text x="311" y="55.3">0</text>
<text x="311" y="75.9">10.00</text>
<text x="311" y="96.6">20.00</text>
<text x="311" y="117.3">30.00</text>
<text x="311" y="137.9">40.00</text>
<text x="311" y="158.6">50.00</text>
<text x="311" y="179.3">60.00</text>
<text x="311" y="199.9">70.00</text>
<text x="311" y="220.6">80.00</text>
</g>
<text x="311.7" y="24.3" text-anchor="middle" font-weight="bold" font-size="11.7">荧光强度</text>
<clipPath id="cb"><rect x="47.6" y="263.2" width="224.7" height="200"/></clipPath>
<rect x="47.6" y="263.2" width="224.7" height="200" fill="#1f50ae"/>
<g clip-path="url(#cb)" filter="url(#bl)">
<path fill="#2878c0" d="M94.2,392.7 94.2,391 95,388.8 96.4,386.2 98.1,383.7 99.9,381.3 101.8,379.1 104,376.9 106.5,374.9 108.9,372.9 111.3,371.3 113.4,369.9 115.3,368.8 117.3,367.9 119.7,367.1 122.7,366.5 126.6,366 131.1,365.7 136,365.5 140.9,365.5 145.4,365.6 149.6,365.9 153.6,366.4 157.5,367.1 161.4,367.8 165.3,368.5 169.4,369.3 173.6,370.2 177.7,371.1 181.7,372 185.3,372.8 188.6,373.5 191.6,374 194.4,374.6 197,375.1 199.5,375.6 201.8,376.1 204,376.5 206.1,377 207.9,377.6 209.4,378.4 210.7,379.5 211.8,380.8 212.6,382.3 213.2,383.9 213.6,385.6 213.7,387.4 213.6,389.4 213.2,391.5 212.8,393.6 212.3,395.5 211.7,397.3 210.9,399.1 210.1,400.8 209.5,402.4 209.4,404 209.8,405.5 210.6,407 211.7,408.4 212.8,409.8 213.7,411.2 214.7,412.5 216,413.7 217,414.9 217.5,416.3 217,418 215.3,419.9 212.7,421.8 209.4,424 205.7,426.7 202,430 197.8,434.4 193,439.6 188.1,445.2 183.6,450.6 180,455 178.2,458.5 177.9,461.6 177.7,464.2 176.2,466.3 172,468 164.1,469.2 153.3,469.8 141.3,470 129.7,470 120,470 112.1,470 104.9,469.9 98.7,469.6 93.6,469 90,468 88.3,466.5 88.3,464.6 89.3,462.5 90.6,460.2 91.4,458 91.6,455.8 91.8,453.6 92,451.3 92.3,449 92.8,446.7 93.4,444.4 94.1,442 94.9,439.7 95.9,437.4 97.1,435.3 98.5,433.3 100.1,431.5 101.8,429.7 103.6,428.2 105.6,426.8 107.6,425.7 109.8,424.8 112,424.1 114.4,423.4 117,422.8 119.7,422.3 122.6,421.9 125.6,421.6 128.8,421.1 132,420.5 135.5,419.6 139.4,418.4 143.3,417.2 146.9,416 150,415 152.8,414.2 155.5,413.6 157.8,413 159.2,412.5 159.5,411.8 158.3,411 155.8,410.2 152.5,409.3 149.1,408.5 146,407.6 143.2,406.8 140.5,405.9 137.7,405.1 134.8,404.2 132,403.3 129.1,402.3 126.1,401.2 123.1,400.1 120.2,399 117.5,398 114.9,397.1 112.5,396.2 110.2,395.4 107.9,394.7 105.6,394.1 103,393.8 100.2,393.8 97.5,393.9 95.4,393.6ZM168.8,255 161.9,265.2 154.8,275.5 147.8,285.7 140.8,296 133.8,306.2 126.7,316.4 119.7,326.7 112.7,336.9 105.7,347.1 98.7,357.4 91.6,367.6 84.6,377.9 77.6,388.1 70.7,398.3 63.7,408.6 56.7,418.8 49.7,429 42.8,439.3 35.8,449.5 28.8,459.8 21.8,470 31.5,470 38.9,459.8 46.2,449.5 53.8,439.3 62.1,429 70.4,418.8 78.5,408.6 85.5,398.3 92.4,388.1 99.4,377.9 106.3,367.6 113.2,357.4 120.1,347.1 127,336.9 133.9,326.7 140.8,316.4 147.7,306.2 154.6,296 161.5,285.7 168.4,275.5 175.3,265.2 182.2,255ZM168,461.8 169.6,460.7 171.1,459.6 172.7,457.5 174.3,455.3 175.8,453.1 177.4,450.7 179,448.1 180.5,446.2 182.1,443.9 183.7,442.1 185.2,440.4 186.8,439.1 188.3,438.4 189.9,437.3 191.5,436.5 193,434.7 194.6,433.7 196.2,432.7 197.7,431.9 199.3,430.8 200.9,429 202.4,428.2 204,427.1 205.6,426.5 207.1,425.1 208.7,423.6 210.3,422.7 211.8,421.6 213.4,421.1 215,419.3 216.5,418.1 218.1,417 219.7,416.2 221.2,415.4 222.8,413.7 224.3,412.6 225.9,411.4 227.5,410.9 229,409.7 230.6,408.1 232.2,407.1 233.7,405.8 235.3,405.5 236.9,404 238.4,402.7 240,401.4 241.6,400.4 243.1,399.9 244.7,398.3 246.3,397.2 247.8,395.7 249.4,395.1 251,394.3 252.5,392.7 254.1,391.6 255.7,390.1 257.2,389.7 258.8,388.5 260.3,387.3 261.9,385.9 263.5,384.6 265,384.3 266.6,382.9 268.2,381.8 269.7,380.2 271.3,379.3 272.9,378.7 274.4,377.3 276,376.2 276,394.4 274.4,395.5 272.9,396.2 271.3,397.3 269.7,398.2 268.2,400.1 266.6,400.9 265,401.8 263.5,402.7 261.9,403.9 260.3,405.7 258.8,406.3 257.2,407.4 255.7,408.1 254.1,409.7 252.5,411.1 251,411.9 249.4,412.9 247.8,413.6 246.3,415.5 244.7,416.6 243.1,417.5 241.6,418.4 240,419.3 238.4,421.1 236.9,422 235.3,423.2 233.7,423.7 232.2,425 230.6,426.6 229,427.6 227.5,428.7 225.9,429.2 224.3,430.8 222.8,432.1 221.2,433.2 219.7,434.1 218.1,434.7 216.5,436.5 215,437.6 213.4,438.9 211.8,439.5 210.3,440.4 208.7,442 207.1,443.1 205.6,444.5 204,444.8 202.4,446.2 200.9,447.5 199.3,448.8 197.7,449.9 196.2,450.3 194.6,451.8 193,453 191.5,454.5 189.9,455.3 188.3,455.9 186.8,457.4 185.2,458.6 183.7,460.1 182.1,459.6 180.5,459.5 179,459.5 177.4,459.6 175.8,459.6 174.3,459.3 172.7,459.3 171.1,459.6 169.6,460.7 168,461.8Z"/>
<path fill="#58c0dc" d="M147.8,385 147.7,386.6 147.7,387.9 146.9,388.9 146.4,390.1 145.5,391 144.6,391.9 143.6,392.7 142.1,393.1 140.7,393.6 139.2,394 137.6,394.5 135.7,394.5 133.3,394.8 131.3,394.7 129.6,394.2 128,393.9 126.8,393.2 125.4,392.7 124.4,391.9 123.5,391.2 122.6,390.3 121.6,389.5 120.6,388.5 120.4,387.2 119.7,385.9 120,384.1 120.3,382.8 120.7,381.6 121.3,380.5 121.9,379.4 123.1,378.7 124.1,377.9 125.5,377.4 126.5,376.6 128,376.2 129.7,376 131.3,375.6 133.4,375.7 135.7,375.7 137.5,375.9 139.3,375.9 140.7,376.5 142.1,377 143.3,377.6 144.3,378.4 145.7,379 146.3,380 147,381 147.5,382.2 147.7,383.5ZM112.1,379 112.6,379.3 112.5,380 112.1,380.9 111.5,382 110.6,383.1 109.7,384.2 108.5,385.3 107.3,386.3 106.1,387.1 104.9,387.9 103.9,388.3 103,388.6 102.3,388.5 101.7,388.4 101.6,387.8 101.6,387.1 102,386.2 102.7,385.1 103.3,384.1 104.3,383 105.4,381.8 106.7,380.9 107.9,380.1 109,379.5 110,379 110.9,378.8 111.6,378.7ZM148.8,437.5 148.6,438.5 148.7,439.4 147.5,440.2 147.3,441.2 147,442.2 146.2,443.1 145.1,444 144,444.8 142.5,445.4 141,446 139.1,446.1 137.5,446.6 135.6,446.5 133.9,446.3 132,446.4 130,446 128.2,445.7 126,445.8 124.2,445.4 122.3,445 121,444.2 119.4,443.6 118,442.9 117.2,442 116.2,441.2 114.9,440.4 115,439.4 114,438.5 114.2,437.5 114.4,436.5 114.5,435.6 114.8,434.6 115.6,433.7 116.8,432.9 118.3,432.2 118.9,431.2 120.6,430.6 122.1,429.9 123.6,429.1 125.7,428.8 127.8,428.6 129.8,428.3 132,428.5 133.9,428.4 135.6,428.6 137.4,428.7 138.9,429.2 140.2,429.9 141.8,430.2 143.4,430.6 144.2,431.5 145.6,432.1 146.3,433 147.1,433.8 147.6,434.7 148.1,435.6 148.7,436.5ZM164,437.3 164,438.2 163.3,439.1 161.9,439.8 160.9,440.6 159.5,441.2 157.8,441.6 156,442 154,442.1 151.9,441.9 150.1,441.5 148.2,441 146.8,440.3 146,439.5 145.2,438.6 144.7,437.8 144.9,436.8 145.4,436 146,435.1 146.9,434.3 148.4,433.7 149.9,433 151.9,432.7 154,432.6 156,432.7 157.9,432.9 159.7,433.3 160.8,434.1 162.1,434.7 162.9,435.6 163.6,436.4ZM169.3,255 162.4,265.2 155.3,275.5 148.3,285.7 141.3,296 134.3,306.2 127.2,316.4 120.2,326.7 113.2,336.9 106.2,347.1 99.2,357.4 92.1,367.6 85.1,377.9 78.1,388.1 71.2,398.3 64.2,408.6 57.2,418.8 50.2,429 43.3,439.3 36.3,449.5 29.3,459.8 22.3,470 31,470 38.4,459.8 45.7,449.5 53.3,439.3 61.6,429 69.9,418.8 78,408.6 85,398.3 91.9,388.1 98.9,377.9 105.8,367.6 112.7,357.4 119.6,347.1 126.5,336.9 133.4,326.7 140.3,316.4 147.2,306.2 154.1,296 161,285.7 167.9,275.5 174.8,265.2 181.7,255ZM168,461.8 169.6,460.7 171.1,459.6 172.7,458.4 174.3,456.5 175.8,454.4 177.4,452.3 179,450.4 180.5,447.9 182.1,445.8 183.7,443.6 185.2,442 186.8,441 188.3,439.3 189.9,438.3 191.5,437.1 193,436.6 194.6,435.2 196.2,433.8 197.7,432.7 199.3,431.6 200.9,431.1 202.4,429.5 204,428.3 205.6,427 207.1,426.3 208.7,425.5 210.3,423.9 211.8,422.8 213.4,421.3 215,420.9 216.5,419.8 218.1,418.4 219.7,417.1 221.2,415.8 222.8,415.5 224.3,414.1 225.9,412.9 227.5,411.4 229,410.4 230.6,409.9 232.2,408.5 233.7,407.4 235.3,405.7 236.9,405.1 238.4,404.3 240,403 241.6,401.7 243.1,400.1 244.7,399.7 246.3,398.6 247.8,397.5 249.4,396 251,394.7 252.5,394.2 254.1,393 255.7,392 257.2,390.3 258.8,389.3 260.3,388.6 261.9,387.5 263.5,386.4 265,384.6 266.6,383.9 268.2,383 269.7,382.1 271.3,380.7 272.9,379.1 274.4,378.5 276,377.4 276,392.7 274.4,393.7 272.9,395.1 271.3,396.4 269.7,397.8 268.2,398.1 266.6,399.4 265,400.5 263.5,402.1 261.9,403.2 260.3,403.7 258.8,405 257.2,406.1 255.7,407.8 254.1,408.5 252.5,409.3 251,410.5 249.4,411.7 247.8,413.4 246.3,413.9 244.7,415 243.1,415.9 241.6,417.5 240,418.9 238.4,419.4 236.9,420.6 235.3,421.4 233.7,423.2 232.2,424.3 230.6,425 229,426 227.5,427.1 225.9,428.9 224.3,429.7 222.8,430.7 221.2,431.5 219.7,432.8 218.1,434.4 216.5,435.2 215,436.3 213.4,436.9 211.8,438.6 210.3,439.9 208.7,440.8 207.1,441.7 205.6,442.4 204,444.3 202.4,445.3 200.9,446.4 199.3,447.1 197.7,448.1 196.2,449.9 194.6,450.8 193,452 191.5,452.5 189.9,453.9 188.3,455.4 186.8,456.4 185.2,457.5 183.7,457.1 182.1,457.7 180.5,457.9 179,458 177.4,458 175.8,458 174.3,458.2 172.7,458.4 171.1,459.6 169.6,460.7 168,461.8Z"/>
<path fill="#5cb87c" d="M138.5,437.6 138.4,438 138.1,438.3 137.5,438.6 136.8,438.8 135.9,439 135,439.1 134,439.2 133,439.1 132,439.1 131.2,438.8 130.4,438.6 129.8,438.3 129.5,438 129.5,437.6 129.6,437.2 130,436.9 130.5,436.6 131.2,436.4 132.1,436.2 133,436.1 134,436 135,436 136,436.2 136.9,436.3 137.5,436.6 138,436.9 138.4,437.2ZM169.8,255 162.8,265.2 155.8,275.5 148.8,285.7 141.7,296 134.7,306.2 127.7,316.4 120.7,326.7 113.7,336.9 106.6,347.1 99.6,357.4 92.6,367.6 85.6,377.9 78.6,388.1 71.6,398.3 64.6,408.6 57.7,418.8 50.7,429 43.7,439.3 36.7,449.5 29.8,459.8 22.8,470 30.6,470 37.9,459.8 45.2,449.5 52.8,439.3 61.1,429 69.4,418.8 77.6,408.6 84.5,398.3 91.5,388.1 98.4,377.9 105.3,367.6 112.2,357.4 119.1,347.1 126,336.9 132.9,326.7 139.8,316.4 146.7,306.2 153.6,296 160.5,285.7 167.4,275.5 174.3,265.2 181.3,255ZM168,461.8 169.6,460.7 171.1,459.6 172.7,458.4 174.3,457.3 175.8,455.4 177.4,453.4 179,451.3 180.5,449.6 182.1,447.5 183.7,445.3 185.2,443.1 186.8,441.2 188.3,440.8 189.9,439.3 191.5,438.2 193,436.6 194.6,435.9 196.2,435.1 197.7,433.7 199.3,432.6 200.9,431 202.4,430.5 204,429.4 205.6,428.3 207.1,426.9 208.7,425.5 210.3,425.1 211.8,423.8 213.4,422.8 215,421.1 216.5,420.1 218.1,419.5 219.7,418.3 221.2,417.2 222.8,415.4 224.3,414.7 225.9,413.8 227.5,412.8 229,411.5 230.6,409.8 232.2,409.3 233.7,408.2 235.3,407.4 236.9,405.7 238.4,404.4 240,403.7 241.6,402.7 243.1,401.8 244.7,400 246.3,399 247.8,398.1 249.4,397.2 251,396.2 252.5,394.4 254.1,393.6 255.7,392.5 257.2,391.8 258.8,390.4 260.3,388.8 261.9,388 263.5,386.9 265,386.4 266.6,384.7 268.2,383.4 269.7,382.4 271.3,381.5 272.9,380.8 274.4,379 276,378 276,392.1 274.4,393.4 272.9,394.6 271.3,395.4 269.7,396.1 268.2,397.8 266.6,398.9 265,400.2 263.5,400.7 261.9,401.8 260.3,403.3 258.8,404.5 257.2,405.8 255.7,406.1 254.1,407.5 252.5,408.8 251,410.2 249.4,411.2 247.8,411.7 246.3,413.2 244.7,414.3 243.1,415.9 241.6,416.5 240,417.3 238.4,418.7 236.9,419.9 235.3,421.5 233.7,421.9 232.2,423 230.6,424.2 229,425.6 227.5,427 225.9,427.4 224.3,428.6 222.8,429.7 221.2,431.4 219.7,432.3 218.1,433 216.5,434.2 215,435.3 213.4,437 211.8,437.7 210.3,438.6 208.7,439.6 207.1,441 205.6,442.6 204,443.1 202.4,444.2 200.9,445.1 199.3,446.7 197.7,448 196.2,448.7 194.6,449.8 193,450.6 191.5,452.5 189.9,453.4 188.3,454.3 186.8,455.2 185.2,455.6 183.7,456.3 182.1,456.3 180.5,456.4 179,456.5 177.4,456.8 175.8,457 174.3,457.3 172.7,458.4 171.1,459.6 169.6,460.7 168,461.8Z"/>
<path fill="#58b050" d="M170.2,255 163.2,265.2 156.2,275.5 149.2,285.7 142.1,296 135.1,306.2 128.1,316.4 121.1,326.7 114.1,336.9 107,347.1 100,357.4 93,367.6 86,377.9 79,388.1 72,398.3 65,408.6 58.1,418.8 51.1,429 44.1,439.3 37.1,449.5 30.2,459.8 23.2,470 30.2,470 37.5,459.8 44.8,449.5 52.4,439.3 60.7,429 69,418.8 77.2,408.6 84.1,398.3 91.1,388.1 98,377.9 104.9,367.6 111.8,357.4 118.7,347.1 125.6,336.9 132.5,326.7 139.4,316.4 146.3,306.2 153.2,296 160.1,285.7 167,275.5 173.9,265.2 180.9,255ZM168,461.8 169.6,460.7 171.1,459.6 172.7,458.4 174.3,457.3 175.8,456.2 177.4,454.4 179,452.5 180.5,450.4 182.1,448.6 183.7,446.9 185.2,444.9 186.8,443 188.3,440.6 189.9,440.1 191.5,439 193,438.1 194.6,436.6 196.2,435.1 197.7,434.6 199.3,433.5 200.9,432.6 202.4,430.8 204,429.7 205.6,429 207.1,428 208.7,427 210.3,425.2 211.8,424.4 213.4,423.4 215,422.6 216.5,421.3 218.1,419.6 219.7,418.9 221.2,417.8 222.8,417.1 224.3,415.5 225.9,414.1 227.5,413.3 229,412.3 230.6,411.6 232.2,409.8 233.7,408.7 235.3,407.6 236.9,406.9 238.4,405.9 240,404.2 241.6,403.2 243.1,402 244.7,401.5 246.3,400.2 247.8,398.7 249.4,397.6 251,396.5 252.5,396.1 254.1,394.5 255.7,393.2 257.2,392 258.8,391.1 260.3,390.5 261.9,388.8 263.5,387.7 265,386.3 266.6,385.8 268.2,384.8 269.7,383.3 271.3,382.1 272.9,380.8 274.4,380.4 276,379.1 276,391.4 274.4,392.5 272.9,393.1 271.3,394.6 269.7,396.1 268.2,396.9 266.6,398 265,398.6 263.5,400.3 261.9,401.6 260.3,402.5 258.8,403.4 257.2,404.2 255.7,406 254.1,407 252.5,408.2 251,408.8 249.4,409.9 247.8,411.6 246.3,412.6 244.7,413.7 243.1,414.2 241.6,415.7 240,417 238.4,418.2 236.9,419.2 235.3,419.7 233.7,421.4 232.2,422.5 230.6,423.9 229,424.5 227.5,425.3 225.9,427 224.3,428.1 222.8,429.5 221.2,429.9 219.7,431.1 218.1,432.5 216.5,433.7 215,435 213.4,435.3 211.8,436.8 210.3,437.9 208.7,439.4 207.1,440.4 205.6,440.9 204,442.4 202.4,443.5 200.9,445.1 199.3,445.7 197.7,446.6 196.2,447.9 194.6,449.1 193,450.7 191.5,451.1 189.9,452.3 188.3,453.3 186.8,454.2 185.2,454.6 183.7,454.5 182.1,454.9 180.5,455.1 179,455.6 177.4,455.9 175.8,456.2 174.3,457.3 172.7,458.4 171.1,459.6 169.6,460.7 168,461.8Z"/>
<path fill="#f0e840" d="M170.6,255 163.6,265.2 156.6,275.5 149.6,285.7 142.5,296 135.5,306.2 128.5,316.4 121.5,326.7 114.5,336.9 107.4,347.1 100.4,357.4 93.4,367.6 86.4,377.9 79.4,388.1 72.4,398.3 65.4,408.6 58.5,418.8 51.5,429 44.5,439.3 37.5,449.5 30.6,459.8 23.6,470 29.8,470 37.1,459.8 44.4,449.5 52,439.3 60.3,429 68.6,418.8 76.8,408.6 83.7,398.3 90.7,388.1 97.6,377.9 104.5,367.6 111.4,357.4 118.3,347.1 125.2,336.9 132.1,326.7 139,316.4 145.9,306.2 152.8,296 159.7,285.7 166.6,275.5 173.5,265.2 180.5,255ZM168,461.8 169.6,460.7 171.1,459.6 172.7,458.4 174.3,457.3 175.8,456.2 177.4,455.1 179,454 180.5,452.9 182.1,451.8 183.7,450.7 185.2,448.7 186.8,446.4 188.3,444.4 189.9,441.7 191.5,439.7 193,438.7 194.6,437.9 196.2,437 197.7,435.1 199.3,434.2 200.9,433.1 202.4,432.5 204,431.3 205.6,429.6 207.1,428.7 208.7,427.5 210.3,427.1 211.8,425.5 213.4,424.1 215,423 216.5,422.1 218.1,421.5 219.7,419.8 221.2,418.7 222.8,417.4 224.3,416.7 225.9,415.9 227.5,414.2 229,413.1 230.6,411.8 232.2,411.4 233.7,410.1 235.3,408.7 236.9,407.5 238.4,406.3 240,405.9 241.6,404.4 243.1,403.3 244.7,401.8 246.3,400.9 247.8,400.3 249.4,398.8 251,397.7 252.5,396.1 254.1,395.6 255.7,394.6 257.2,393.3 258.8,392 260.3,390.6 261.9,390.2 263.5,389 265,387.9 266.6,386.3 268.2,385.2 269.7,384.6 271.3,383.4 272.9,382.3 274.4,380.6 276,379.8 276,390.2 274.4,391.2 272.9,392.9 271.3,393.8 269.7,394.5 268.2,395.7 266.6,396.8 265,398.6 263.5,399.2 261.9,400.2 260.3,401.1 258.8,402.5 257.2,404.1 255.7,404.7 254.1,405.8 252.5,406.6 251,408.3 249.4,409.5 247.8,410.3 246.3,411.3 244.7,412.1 243.1,414 241.6,414.9 240,415.9 238.4,416.7 236.9,417.9 235.3,419.6 233.7,420.4 232.2,421.5 230.6,422.1 229,423.6 227.5,425.1 225.9,426 224.3,427 222.8,427.6 221.2,429.4 219.7,430.5 218.1,431.6 216.5,432.4 215,433.2 213.4,435 211.8,436 210.3,437.2 208.7,437.7 207.1,439 205.6,440.5 204,441.6 202.4,442.8 200.9,443.2 199.3,444.7 197.7,446 196.2,447.3 194.6,448.2 193,448.7 191.5,450.4 189.9,450.7 188.3,450.8 186.8,450.5 185.2,450.4 183.7,450.7 182.1,451.8 180.5,452.9 179,454 177.4,455.1 175.8,456.2 174.3,457.3 172.7,458.4 171.1,459.6 169.6,460.7 168,461.8Z"/>
<path fill="#f08030" d="M171,255 164,265.2 157,275.5 150,285.7 142.9,296 135.9,306.2 128.9,316.4 121.9,326.7 114.9,336.9 107.8,347.1 100.8,357.4 93.8,367.6 86.8,377.9 79.8,388.1 72.8,398.3 65.8,408.6 58.9,418.8 51.9,429 44.9,439.3 37.9,449.5 31,459.8 24,470 29.4,470 36.7,459.8 44,449.5 51.6,439.3 59.9,429 68.2,418.8 76.4,408.6 83.3,398.3 90.3,388.1 97.2,377.9 104.1,367.6 111,357.4 117.9,347.1 124.8,336.9 131.7,326.7 138.6,316.4 145.5,306.2 152.4,296 159.3,285.7 166.2,275.5 173.1,265.2 180.1,255ZM168,461.8 169.6,460.7 171.1,459.6 172.7,458.4 174.3,457.3 175.8,456.2 177.4,455.1 179,454 180.5,452.9 182.1,451.8 183.7,450.7 185.2,449.6 186.8,448 188.3,445.8 189.9,444.1 191.5,442 193,439.7 194.6,438.5 196.2,437.3 197.7,436.9 199.3,435.5 200.9,434.2 202.4,432.8 204,431.9 205.6,431.4 207.1,429.8 208.7,428.7 210.3,427.1 211.8,426.6 213.4,425.7 215,424.3 216.5,423.1 218.1,421.6 219.7,421.2 221.2,420 222.8,418.8 224.3,417.3 225.9,416.1 227.5,415.7 229,414.4 230.6,413.3 232.2,411.6 233.7,410.8 235.3,410.1 236.9,408.8 238.4,407.7 240,406 241.6,405.4 243.1,404.4 244.7,403.4 246.3,402 247.8,400.4 249.4,399.9 251,398.8 252.5,397.9 254.1,396.2 255.7,395 257.2,394.4 258.8,393.3 260.3,392.4 261.9,390.5 263.5,389.6 265,388.7 266.6,387.8 268.2,386.7 269.7,384.9 271.3,384.2 272.9,383.1 274.4,382.4 276,380.9 276,389.4 274.4,390.8 272.9,391.2 271.3,392.4 269.7,393.7 268.2,395.1 266.6,396.3 265,396.7 263.5,398.1 261.9,399.2 260.3,400.8 258.8,401.6 257.2,402.3 255.7,403.7 254.1,404.8 252.5,406.5 251,407 249.4,408 247.8,409.1 246.3,410.5 244.7,412 243.1,412.4 241.6,413.6 240,414.6 238.4,416.3 236.9,417.4 235.3,418 233.7,419.2 232.2,420.2 230.6,422 229,422.8 227.5,423.6 225.9,424.6 224.3,425.8 222.8,427.6 221.2,428.2 219.7,429.3 218.1,430 216.5,431.6 215,433 213.4,433.7 211.8,434.8 210.3,435.5 208.7,437.4 207.1,438.4 205.6,439.3 204,440.2 202.4,441.2 200.9,443 199.3,443.9 197.7,445 196.2,445.6 194.6,446.9 193,448.6 191.5,448.5 189.9,448.6 188.3,448.6 186.8,448.9 185.2,449.6 183.7,450.7 182.1,451.8 180.5,452.9 179,454 177.4,455.1 175.8,456.2 174.3,457.3 172.7,458.4 171.1,459.6 169.6,460.7 168,461.8Z"/>
<path fill="#e82828" d="M171.3,255 164.4,265.2 157.3,275.5 150.3,285.7 143.3,296 136.3,306.2 129.2,316.4 122.2,326.7 115.2,336.9 108.2,347.1 101.2,357.4 94.1,367.6 87.1,377.9 80.1,388.1 73.2,398.3 66.2,408.6 59.2,418.8 52.2,429 45.3,439.3 38.3,449.5 31.3,459.8 24.3,470 29.3,470 36.4,459.8 43.7,449.5 51.3,439.3 59.6,429 67.9,418.8 76,408.6 83,398.3 89.9,388.1 96.9,377.9 103.8,367.6 110.7,357.4 117.6,347.1 124.5,336.9 131.4,326.7 138.3,316.4 145.2,306.2 152.1,296 159,285.7 165.9,275.5 172.8,265.2 179.7,255ZM168,461.8 169.6,460.7 171.1,459.6 172.7,458.4 174.3,457.3 175.8,456.2 177.4,455.1 179,454 180.5,452.9 182.1,451.8 183.7,450.7 185.2,449.6 186.8,448.4 188.3,446.9 189.9,444.9 191.5,443 193,441.5 194.6,439.5 196.2,438.4 197.7,436.7 199.3,436.1 200.9,435.2 202.4,434 204,432.7 205.6,431.1 207.1,430.7 208.7,429.5 210.3,428.6 211.8,427 213.4,425.7 215,425.1 216.5,424 218.1,423 219.7,421.2 221.2,420.3 222.8,419.5 224.3,418.5 225.9,417.4 227.5,415.6 229,414.9 230.6,413.9 232.2,413.1 233.7,411.7 235.3,410.1 236.9,409.4 238.4,408.3 240,407.6 241.6,405.9 243.1,404.6 244.7,403.8 246.3,402.8 247.8,402 249.4,400.2 251,399.2 252.5,398.1 254.1,397.5 255.7,396.3 257.2,394.6 258.8,393.7 260.3,392.6 261.9,392.1 263.5,390.6 265,389.1 266.6,388.1 268.2,387.1 269.7,386.6 271.3,384.8 272.9,383.7 274.4,382.4 276,381.7 276,388.6 274.4,389.2 272.9,391 271.3,392.1 269.7,393.3 268.2,394 266.6,394.9 265,396.6 263.5,397.6 261.9,398.9 260.3,399.3 258.8,400.6 257.2,402.1 255.7,403.3 254.1,404.4 252.5,404.8 251,406.4 249.4,407.6 247.8,408.9 246.3,409.7 244.7,410.4 243.1,412 241.6,413.1 240,414.6 238.4,415.1 236.9,416.1 235.3,417.5 233.7,418.7 232.2,420.1 230.6,420.5 229,421.8 227.5,423 225.9,424.5 224.3,425.5 222.8,426 221.2,427.4 219.7,428.5 218.1,430.2 216.5,430.9 215,431.7 213.4,432.9 211.8,434.1 210.3,435.8 208.7,436.3 207.1,437.3 205.6,438.4 204,439.9 202.4,441.3 200.9,441.8 199.3,442.9 197.7,443.8 196.2,445.6 194.6,446.6 193,446.7 191.5,447 189.9,447.3 188.3,447.8 186.8,448.4 185.2,449.6 183.7,450.7 182.1,451.8 180.5,452.9 179,454 177.4,455.1 175.8,456.2 174.3,457.3 172.7,458.4 171.1,459.6 169.6,460.7 168,461.8Z"/>
<path fill="#ffffff" d="M171.7,255 164.8,265.2 157.7,275.5 150.7,285.7 143.7,296 136.7,306.2 129.6,316.4 122.6,326.7 115.6,336.9 108.6,347.1 101.6,357.4 94.5,367.6 87.5,377.9 80.5,388.1 73.6,398.3 66.6,408.6 59.6,418.8 52.6,429 45.7,439.3 38.7,449.5 31.7,459.8 24.7,470 29.3,470 36.3,459.8 43.3,449.5 50.9,439.3 59.2,429 67.5,418.8 75.6,408.6 82.6,398.3 89.5,388.1 96.5,377.9 103.4,367.6 110.3,357.4 117.2,347.1 124.1,336.9 131,326.7 137.9,316.4 144.8,306.2 151.7,296 158.6,285.7 165.5,275.5 172.4,265.2 179.3,255ZM168,461.8 169.6,460.7 171.1,459.6 172.7,458.4 174.3,457.3 175.8,456.2 177.4,455.1 179,454 180.5,452.9 182.1,451.8 183.7,450.7 185.2,449.6 186.8,448.4 188.3,447.3 189.9,446.2 191.5,445.1 193,444 194.6,442.9 196.2,441.8 197.7,440.7 199.3,439.4 200.9,437.6 202.4,436 204,434.4 205.6,433 207.1,431 208.7,430 210.3,429 211.8,428.2 213.4,427.2 215,425.4 216.5,424.5 218.1,423.4 219.7,422.8 221.2,421.4 222.8,419.9 224.3,419 225.9,417.9 227.5,417.4 229,415.7 230.6,414.4 232.2,413.3 233.7,412.5 235.3,411.8 236.9,410 238.4,408.9 240,407.7 241.6,407.1 243.1,406.1 244.7,404.4 246.3,403.4 247.8,402.1 249.4,401.7 251,400.3 252.5,399 254.1,397.7 255.7,396.7 257.2,396.2 258.8,394.6 260.3,393.5 261.9,392 263.5,391.3 265,390.6 266.6,389.1 268.2,387.9 269.7,386.4 271.3,386 272.9,384.9 274.4,383.6 276,382.2 276,387.7 274.4,389.4 272.9,390 271.3,391.1 269.7,391.8 268.2,393.5 266.6,394.8 265,395.6 263.5,396.6 261.9,397.4 260.3,399.2 258.8,400.2 257.2,401.2 255.7,402 254.1,403 252.5,404.8 251,405.7 249.4,406.8 247.8,407.4 246.3,408.8 244.7,410.3 243.1,411.3 241.6,412.4 240,412.9 238.4,414.5 236.9,415.8 235.3,416.9 233.7,417.8 232.2,418.4 230.6,420.2 229,421.3 227.5,422.6 225.9,423.1 224.3,424.2 222.8,425.7 221.2,426.8 219.7,428.1 218.1,428.5 216.5,429.9 215,431.2 213.4,432.5 211.8,433.6 210.3,434 208.7,435.6 207.1,436.7 205.6,438 204,438.1 202.4,438.5 200.9,439.2 199.3,439.7 197.7,440.7 196.2,441.8 194.6,442.9 193,444 191.5,445.1 189.9,446.2 188.3,447.3 186.8,448.4 185.2,449.6 183.7,450.7 182.1,451.8 180.5,452.9 179,454 177.4,455.1 175.8,456.2 174.3,457.3 172.7,458.4 171.1,459.6 169.6,460.7 168,461.8Z"/>
<ellipse cx="243" cy="408.5" rx="1.5" ry="3" fill="#e82828" transform="rotate(-36 243 408.5)"/>
<ellipse cx="249" cy="404.3" rx="1.5" ry="3" fill="#e82828" transform="rotate(-36 249 404.3)"/>
<ellipse cx="255" cy="400" rx="1.5" ry="3" fill="#e82828" transform="rotate(-36 255 400)"/>
<ellipse cx="261" cy="395.8" rx="1.5" ry="3" fill="#e82828" transform="rotate(-36 261 395.8)"/>
<ellipse cx="267" cy="391.5" rx="1.5" ry="3" fill="#e82828" transform="rotate(-36 267 391.5)"/>
<ellipse cx="190.3" cy="442.3" rx="2.2" ry="1.5" fill="#f0e840" transform="rotate(-36 190.3 442.3)"/>
<ellipse cx="190.3" cy="442.3" rx="1.3" ry="0.9" fill="#e82828" transform="rotate(-36 190.3 442.3)"/>
<ellipse cx="197" cy="438" rx="2.2" ry="1.6" fill="#fff" transform="rotate(-36 197 438)"/>
<ellipse cx="171.3" cy="457.8" rx="1.7" ry="1.9" fill="#0a0a14"/>
<rect x="47.6" y="458.6" width="224.7" height="0.6" fill="#58c0dc"/>
<rect x="47.6" y="459.2" width="224.7" height="0.4" fill="#f0e840"/>
<rect x="47.6" y="459.6" width="224.7" height="1.5" fill="#ee7d3c"/>
<rect x="47.6" y="461.1" width="224.7" height="0.4" fill="#f0e840"/>
<rect x="47.6" y="461.5" width="224.7" height="1.7" fill="#fff"/>
<rect x="47.6" y="263.2" width="1.6" height="200" fill="#e0a878"/>
<rect x="47.6" y="263.2" width="224.7" height="0.6" fill="#1c2c60"/>
</g>
<path d="M47.2,262.8V463.5H272.6" stroke="#111" stroke-width="1.1" fill="none"/>
<path d="M47.3,463.2h-4.8M47.3,453.2h-2M47.3,443.2h-4.8M47.3,433.2h-2M47.3,423.2h-4.8M47.3,413.2h-2M47.3,403.2h-4.8M47.3,393.2h-2M47.3,383.2h-4.8M47.3,373.2h-2M47.3,363.2h-4.8M47.3,353.2h-2M47.3,343.2h-4.8M47.3,333.2h-2M47.3,323.2h-4.8M47.3,313.2h-2M47.3,303.2h-4.8M47.3,293.2h-2M47.3,283.2h-4.8M47.3,273.2h-2M47.3,263.2h-4.8M54.4,463.5v1.6M61.2,463.5v1.6M68,463.5v3.2M74.8,463.5v1.6M81.6,463.5v1.6M88.5,463.5v1.6M95.3,463.5v1.6M102.1,463.5v3.2M108.9,463.5v1.6M115.7,463.5v1.6M122.5,463.5v1.6M129.3,463.5v1.6M136.1,463.5v3.2M142.9,463.5v1.6M149.7,463.5v1.6M156.5,463.5v1.6M163.4,463.5v1.6M170.2,463.5v3.2M177,463.5v1.6M183.8,463.5v1.6M190.6,463.5v1.6M197.4,463.5v1.6M204.2,463.5v3.2M211,463.5v1.6M217.8,463.5v1.6M224.6,463.5v1.6M231.4,463.5v1.6M238.3,463.5v3.2M245.1,463.5v1.6M251.9,463.5v1.6M258.7,463.5v1.6M265.5,463.5v1.6M272.3,463.5v3.2" stroke="#111" stroke-width="0.9" fill="none"/>
<g class="t">
<text x="42" y="466.6" text-anchor="end">200</text>
<text x="42" y="446.6" text-anchor="end">220</text>
<text x="42" y="426.6" text-anchor="end">240</text>
<text x="42" y="406.6" text-anchor="end">260</text>
<text x="42" y="386.6" text-anchor="end">280</text>
<text x="42" y="366.6" text-anchor="end">300</text>
<text x="42" y="346.6" text-anchor="end">320</text>
<text x="42" y="326.6" text-anchor="end">340</text>
<text x="42" y="306.6" text-anchor="end">360</text>
<text x="42" y="286.6" text-anchor="end">380</text>
<text x="42" y="266.6" text-anchor="end">400</text>
<text x="68.2" y="476.5" text-anchor="middle">250</text>
<text x="102.7" y="476.5" text-anchor="middle">300</text>
<text x="137.3" y="476.5" text-anchor="middle">350</text>
<text x="172.8" y="476.5" text-anchor="middle">400</text>
<text x="205.8" y="476.5" text-anchor="middle">450</text>
<text x="240.7" y="476.5" text-anchor="middle">500</text>
<text x="274.3" y="476.5" text-anchor="middle">550</text>
<text x="161.5" y="490.2" text-anchor="middle" font-size="11.2">λ<tspan font-size="7.6" dy="2">em</tspan><tspan dy="-2">/nm</tspan></text>
<text transform="translate(17.8,363.9) rotate(-90)" text-anchor="middle">λ<tspan font-size="7.5" dy="2">ex</tspan><tspan dy="-2">/nm</tspan></text>
</g>
<rect x="65.9" y="279" width="65.3" height="33" fill="#fff"/><text class="t" font-size="11.5" x="76.4" y="300.5">0.01 g·g<tspan font-size="7.8" dy="-4.2">−1</tspan></text>
<rect x="285.3" y="265.7" width="24.5" height="20.8" fill="#050505"/>
<rect x="285.3" y="286.2" width="24.5" height="20.8" fill="#1f50ae"/>
<rect x="285.3" y="306.8" width="24.5" height="20.8" fill="#2878c0"/>
<rect x="285.3" y="327.3" width="24.5" height="20.8" fill="#58c0dc"/>
<rect x="285.3" y="347.9" width="24.5" height="20.8" fill="#5cb87c"/>
<rect x="285.3" y="368.4" width="24.5" height="20.8" fill="#58b050"/>
<rect x="285.3" y="389" width="24.5" height="20.8" fill="#f0e840"/>
<rect x="285.3" y="409.5" width="24.5" height="20.8" fill="#f08030"/>
<rect x="285.3" y="430.1" width="24.5" height="20.5" fill="#e82828"/>
<g class="t" font-size="11.3">
<text x="311" y="291.2">0</text>
<text x="311" y="311.9">10.00</text>
<text x="311" y="332.6">20.00</text>
<text x="311" y="353.3">30.00</text>
<text x="311" y="374">40.00</text>
<text x="311" y="394.7">50.00</text>
<text x="311" y="415.4">60.00</text>
<text x="311" y="436.1">70.00</text>
<text x="311" y="456.8">80.00</text>
</g>
<text x="311.7" y="258.9" text-anchor="middle" font-weight="bold" font-size="11.7">荧光强度</text>
<clipPath id="cc"><rect x="401" y="28" width="223.5" height="197.2"/></clipPath>
<rect x="401" y="28" width="223.5" height="197.2" fill="#1f50ae"/>
<g clip-path="url(#cc)" filter="url(#bl)">
<path fill="#2878c0" d="M441.4,155.5 442.1,152.3 443.5,148 445.4,143.4 447.6,139.1 449.9,135.6 452.3,133.2 455.1,131.3 458,129.9 461,128.7 464.1,127.6 467.3,126.7 470.5,126 473.8,125.5 477.4,125.1 481.2,124.8 485.4,124.6 490,124.4 494.8,124.4 499.5,124.5 504,124.8 508.1,125.3 512.1,125.9 516.1,126.7 519.9,127.6 523.9,128.5 528,129.5 532.1,130.6 536.2,131.7 540.2,132.9 543.8,134.2 547.2,135.5 550.3,136.9 553.3,138.3 555.9,139.8 558,141.3 559.7,142.9 561.1,144.5 562,146.2 562.7,148 563.1,149.8 563.3,151.8 563.1,153.8 562.7,155.9 562.1,158 561.4,159.8 560.4,161.4 559.1,162.8 557.6,164.2 556.4,165.5 555.7,166.9 555.6,168.3 555.9,169.8 556.4,171.2 557.2,172.6 558,174 559.3,175.3 561.1,176.4 562.9,177.6 564.1,178.9 564.3,180.6 563.1,182.6 560.9,184.9 558.2,187.4 555.2,190 552.3,192.5 549.5,195 546.5,197.6 543.5,200.1 540.6,202.7 538.1,205.3 536,207.9 534.1,210.5 532.5,213.1 531,215.6 529.6,218.1 529,220.6 529.3,223.2 529.3,225.7 527.9,227.9 523.9,229.5 516.2,230.5 505.7,230.9 493.9,231 482.4,231 472.7,230.9 464.5,230.9 457,230.8 450.3,230.6 444.8,230.2 440.8,229.5 438.8,228.5 438.7,227.3 439.5,225.9 440.7,224.3 441.4,222.4 441.6,220.2 441.8,217.7 442.1,215.1 442.4,212.3 442.8,209.6 443.2,206.7 443.6,203.7 444.1,200.7 444.8,197.9 445.6,195.3 446.6,193.2 447.7,191.3 449,189.6 450.6,188.1 452.8,186.8 455.7,185.8 459.3,185.2 463.2,184.6 466.9,184.1 469.8,183.4 472.3,182.6 474.6,181.7 476.4,180.8 477.3,179.6 476.9,178.3 474.8,176.6 471,174.5 466.6,172.3 462.1,170.2 458.4,168.3 455.6,166.7 453.1,165.2 450.9,163.8 448.9,162.5 447.1,161.2 445.3,160.2 443.7,159.5 442.4,158.8 441.5,157.5ZM523.7,20 520,25.4 516.3,30.9 512.6,36.3 508.8,41.7 505.1,47.2 501.3,52.6 497.5,58.1 493.8,63.5 490,68.9 486.3,74.4 482.5,79.8 478.8,85.2 475,90.7 471.3,96.1 467.5,101.5 463.8,107 460,112.4 456.2,117.8 452.5,123.3 448.8,128.7 445.2,134.2 441.5,139.6 437.8,145 434.2,150.5 430.5,155.9 426.8,161.3 423.2,166.8 419.5,172.2 416,177.6 412.5,183.1 409.1,188.5 406.4,193.9 403.2,199.4 399.9,204.8 396.5,210.3 393.1,215.7 389.7,221.1 386.2,226.6 382.6,232 387.9,232 391.9,226.6 396,221.1 400.2,215.7 404.4,210.3 408.6,204.8 412.9,199.4 417.2,193.9 422,188.5 426.1,183.1 430.2,177.6 434.1,172.2 437.8,166.8 441.4,161.3 445.1,155.9 448.8,150.5 452.4,145 456.1,139.6 459.8,134.2 463.4,128.7 467.1,123.3 470.6,117.8 474.2,112.4 477.8,107 481.4,101.5 484.9,96.1 488.5,90.7 492.1,85.2 495.7,79.8 499.2,74.4 502.8,68.9 506.4,63.5 509.9,58.1 513.5,52.6 517.1,47.2 520.7,41.7 524.2,36.3 527.8,30.9 531.4,25.4 535.1,20ZM528,215.1 529.7,214 531.4,212.6 533.1,210.2 534.8,207.6 536.5,205.4 538.2,203.1 539.9,200.7 541.6,198.4 543.3,197.3 544.9,196.5 546.6,195.4 548.3,194.2 550,192.7 551.7,192 553.4,190.8 555.1,189.9 556.8,188.3 558.5,187.4 560.2,186.3 561.9,185.4 563.6,184 565.3,182.7 567,181.8 568.7,180.8 570.4,179.7 572.1,178.2 573.8,177.3 575.5,176.2 577.2,175.4 578.8,173.8 580.5,172.8 582.2,171.7 583.9,170.9 585.6,169.5 587.3,168.2 589,167.2 590.7,166.2 592.4,165.3 594.1,163.7 595.8,162.7 597.5,161.5 599.2,160.8 600.9,159.3 602.6,158.2 604.3,157 606,156.2 607.7,155.1 609.4,153.7 611.1,152.5 612.7,151.5 614.4,150.7 616.1,149.2 617.8,148.1 619.5,146.9 621.2,146.2 622.9,144.9 624.6,143.7 626.3,142.3 628,141.6 628,156.5 626.3,157.3 624.6,158.9 622.9,159.9 621.2,161 619.5,161.8 617.8,163.2 616.1,164.5 614.4,165.5 612.7,166.5 611.1,167.4 609.4,169 607.7,170 606,171.1 604.3,171.8 602.6,173.4 600.9,174.5 599.2,175.7 597.5,176.4 595.8,177.6 594.1,179 592.4,180.2 590.7,181.1 589,182 587.3,183.5 585.6,184.6 583.9,185.8 582.2,186.4 580.5,187.8 578.8,189 577.2,190.3 575.5,191.1 573.8,192.2 572.1,193.5 570.4,194.7 568.7,195.8 567,196.5 565.3,197.9 563.6,199.1 561.9,200.5 560.2,201.1 558.5,202.3 556.8,203.5 555.1,204.9 553.4,205.8 551.7,206.7 550,207.9 548.3,209.3 546.6,210.5 544.9,211.2 543.3,212.4 541.6,213.5 539.9,214.2 538.2,213.7 536.5,213.5 534.8,213.4 533.1,213.3 531.4,213.1 529.7,214 528,215.1Z"/>
<path fill="#50c0e0" d="M525.1,155.6 524.6,157.6 523.5,159.1 523,160.6 523.2,162.3 522.3,163.6 520.4,164.5 518.8,165.3 517.3,166.2 515.8,167 514.6,168 513.2,168.9 511.3,169.3 509.7,170 508.3,170.9 506.4,171.5 504.4,171.9 502.5,172.5 500.2,172.8 497.7,172.7 495.3,172.9 492.8,173.1 490,172.7 487,172 483.5,171.4 480.1,170.8 477.1,170.5 474.2,170.4 471.8,169.6 469.8,168.4 467.7,167.6 465.5,166.9 463.5,166 461.5,165.2 459.6,164.3 458.2,163.1 457,161.9 455.5,160.8 454.3,159.6 453.5,158.3 452.5,157.1 451.9,155.7 451.7,154.3 450.8,153 449.7,151.7 449.8,150.2 450.2,148.7 449.6,147 449.1,144.9 448.9,143 448.8,141.4 449.6,140 451,139 451.7,137.8 452.2,136.5 453.2,135.4 454.2,134.3 455.2,133.2 457,132.6 459,132.1 460.3,131.2 461.8,130.5 464,130.2 466.2,129.9 468.3,129.7 470.6,129.5 472.7,129.2 475.1,129.1 477.7,129.5 480.3,129.9 482.9,129.8 485.8,129.9 489.3,130.5 492.7,131.1 495.5,131.7 497.9,132.5 500.3,133.1 503,133.4 505.4,133.9 507.6,134.7 509.5,135.5 511,136.6 512.5,137.7 514.5,138.5 516.2,139.5 516.9,140.8 517.8,141.9 519.3,143 520.4,144.1 521.3,145.3 522.4,146.5 523,147.8 523.5,149.2 524.6,150.6 525.4,152.1 525.3,153.7ZM532.9,200.5 533,202 532.6,203.5 532.4,205.1 532.3,206.6 530.9,208 529.1,209.4 528.6,210.9 527.7,212.5 525,213.5 522.3,214.5 520.4,215.7 518.4,217 516,218 513.2,218.9 509.9,219.3 506.8,219.8 504.3,220.8 501.6,221.5 498.4,221.9 495.3,222.3 492.2,222.7 488.8,222.3 485.7,222 482.6,222.3 480,222.7 477.4,222.6 474.8,222.4 472.2,222.1 469.5,221.9 466.7,221.9 464.1,221.4 462.1,220.3 459.8,219.5 457,219.1 454.6,218.3 452.9,217 451,216 449.1,214.8 447.6,213.5 445.9,212.3 444,211.1 442.6,209.7 441.7,208.2 441.5,206.6 441.9,205 441.6,203.5 440.2,202 439.9,200.5 441,199.3 441.7,198.2 441.8,197 442.6,195.9 443.9,194.8 445.1,193.8 446.6,192.8 447.7,191.8 448.6,190.7 450.2,189.7 452,188.9 453.4,187.8 455.3,187 457.7,186.5 459.7,185.7 461.5,184.7 464.1,184.2 467.1,184.3 469.8,184.2 472.4,183.9 474.8,183.5 477.3,183 479.9,182.9 482.6,183.2 485.8,183.1 489.1,182.9 492.2,183.2 495.3,183.5 498.8,183.5 502,183.7 505,184.3 508.2,184.7 511.4,185.1 514.1,185.8 516.5,186.7 518.5,187.7 520.3,188.7 522.8,189.5 525.1,190.3 525.7,191.6 525.7,192.9 527.4,193.9 529.5,194.8 530.8,195.9 532,197 532.9,198.1 533,199.3ZM524.1,20 520.4,25.4 516.7,30.9 513,36.3 509.2,41.7 505.5,47.2 501.7,52.6 497.9,58.1 494.2,63.5 490.4,68.9 486.7,74.4 482.9,79.8 479.2,85.2 475.4,90.7 471.7,96.1 467.9,101.5 464.2,107 460.4,112.4 456.6,117.8 452.9,123.3 449.2,128.7 445.6,134.2 441.9,139.6 438.2,145 434.6,150.5 430.9,155.9 427.2,161.3 423.6,166.8 419.9,172.2 416.4,177.6 412.9,183.1 409.5,188.5 406.8,193.9 403.6,199.4 400.3,204.8 396.9,210.3 393.5,215.7 390.1,221.1 386.6,226.6 383,232 387.5,232 391.5,226.6 395.6,221.1 399.8,215.7 404,210.3 408.2,204.8 412.5,199.4 416.8,193.9 421.6,188.5 425.7,183.1 429.8,177.6 433.7,172.2 437.4,166.8 441,161.3 444.7,155.9 448.4,150.5 452,145 455.7,139.6 459.4,134.2 463,128.7 466.7,123.3 470.2,117.8 473.8,112.4 477.4,107 481,101.5 484.5,96.1 488.1,90.7 491.7,85.2 495.3,79.8 498.8,74.4 502.4,68.9 506,63.5 509.5,58.1 513.1,52.6 516.7,47.2 520.3,41.7 523.8,36.3 527.4,30.9 531,25.4 534.7,20ZM528,215.1 529.7,214 531.4,212.8 533.1,211.3 534.8,209.1 536.5,206.8 538.2,204.5 539.9,202.3 541.6,200.2 543.3,198.4 544.9,196.9 546.6,196 548.3,195 550,194.1 551.7,192.5 553.4,191.5 555.1,190.4 556.8,189.6 558.5,188.2 560.2,187 561.9,185.8 563.6,185 565.3,183.9 567,182.5 568.7,181.4 570.4,180.3 572.1,179.6 573.8,178 575.5,176.9 577.2,175.7 578.8,175 580.5,173.7 582.2,172.5 583.9,171.2 585.6,170.3 587.3,169.4 589,168 590.7,166.8 592.4,165.6 594.1,165 595.8,163.6 597.5,162.4 599.2,161 600.9,160.4 602.6,159.2 604.3,158 606,156.6 607.7,155.6 609.4,154.8 611.1,153.5 612.7,152.3 614.4,151 616.1,150.3 617.8,149.1 619.5,148 621.2,146.5 622.9,145.7 624.6,144.6 626.3,143.5 628,142.1 628,155.6 626.3,157.1 624.6,157.8 622.9,159 621.2,160 619.5,161.5 617.8,162.5 616.1,163.4 614.4,164.5 612.7,165.8 611.1,167.1 609.4,167.9 607.7,169 606,170.1 604.3,171.7 602.6,172.5 600.9,173.6 599.2,174.5 597.5,176 595.8,177.1 594.1,178.1 592.4,179 590.7,180.2 589,181.7 587.3,182.6 585.6,183.6 583.9,184.5 582.2,186.1 580.5,187.1 578.8,188.3 577.2,189 575.5,190.5 573.8,191.7 572.1,192.8 570.4,193.6 568.7,194.7 567,196.2 565.3,197.2 563.6,198.3 561.9,199.1 560.2,200.6 558.5,201.7 556.8,202.9 555.1,203.6 553.4,204.9 551.7,206.2 550,207.4 548.3,208.3 546.6,209.2 544.9,210.6 543.3,211.8 541.6,212.3 539.9,212 538.2,212.2 536.5,212.1 534.8,212.2 533.1,212.1 531.4,212.8 529.7,214 528,215.1Z"/>
<path fill="#54c09e" d="M520.9,155.1 521.4,157.1 520.9,158.5 519.9,159.8 519.6,161.1 519,162.4 517.5,163.2 516.2,164.1 515.2,165 513.7,165.7 512.2,166.4 510.8,167.1 509.2,167.7 507.8,168.4 506.5,169.3 504.6,169.6 502.3,169.4 500.4,169.8 498.6,170.4 496.4,170.4 494.1,170.4 491.8,170.6 489.3,170.5 486.5,170.1 483.2,169.8 480,169.1 477.4,168.4 475,167.9 472.8,167.2 471,166.1 469.1,165.5 466.8,165.1 465.1,164.2 463.6,163.2 461.6,162.6 459.6,161.9 458.1,160.9 456.6,159.9 455.7,158.8 455.1,157.5 454,156.4 452.7,155.3 452.5,154 452.1,152.7 451.1,151.4 451.1,150 451.8,148.7 451.7,147.2 451.6,145.4 452.2,143.8 452.8,142.5 453.2,141.3 453.8,140.2 454,139 454.3,137.7 455.5,136.9 456.7,136.1 457.1,134.9 458.1,134 460.1,133.6 461.8,133.1 463.3,132.5 465.2,132.2 467.1,131.9 468.8,131.3 470.8,131 472.9,130.9 475.1,130.8 477.6,131.1 480.1,131.6 482.6,131.6 485.3,131.8 488.5,132.7 491.5,133.5 494.2,133.7 496.6,134.2 498.7,134.9 500.9,135.5 502.8,136.1 504.7,136.8 506.7,137.4 508.5,138.2 509.7,139.2 511.3,140 513.2,140.7 514.3,141.7 515.5,142.7 517.5,143.5 518.9,144.6 519.2,145.8 519.6,147 520.2,148.2 520.6,149.4 521.1,150.7 521.4,152 520.9,153.4ZM524.5,200.5 525.1,202 524.6,203.4 523.5,204.6 523.4,206 523.6,207.4 523,208.7 522.1,210 521.3,211.3 520.1,212.5 518.5,213.6 516.5,214.6 514.4,215.5 512.9,216.7 511.6,218.1 509.1,218.9 505.8,219 503,219.4 500.6,220.2 497.9,220.6 494.9,220.8 491.9,221 489,221.3 485.9,221.5 482.6,221.7 479.6,221.7 476.9,221.7 474,221.9 471.3,221.7 468.9,220.9 466.5,220.4 463.9,220.1 461.9,219.2 460.4,217.9 458.6,217 456.3,216.4 454.1,215.7 452.4,214.8 451.4,213.4 450.7,212.1 449.2,211.1 447.8,210 447.2,208.7 446.5,207.4 445.1,206.2 444.4,204.9 444.5,203.5 444,202 443.2,200.5 442.9,199.3 443.3,198.1 444,197 444.7,196 444.9,194.8 445.5,193.8 447.3,192.9 448.9,192.1 449.4,191 450,189.9 451.9,189.1 454.1,188.5 456.2,187.9 458.4,187.4 460.6,187 462.8,186.4 464.9,186 467.1,185.4 469.4,185 472,184.9 474.6,184.8 477,184.2 479.6,183.8 482.6,184 485.9,184.2 489,184.1 492.1,184.1 495.1,184.3 497.8,184.7 500.5,185.1 503.4,185.4 506.5,185.5 509.2,186 511.2,186.9 513.3,187.6 515.5,188.3 516.9,189.3 518.4,190.2 520.8,190.8 523,191.6 523.8,192.7 524.1,193.8 524.6,194.9 525.4,196 526.2,197 526,198.2 524.9,199.3ZM524.5,20 520.8,25.4 517.1,30.9 513.4,36.3 509.6,41.7 505.9,47.2 502.1,52.6 498.3,58.1 494.6,63.5 490.8,68.9 487.1,74.4 483.3,79.8 479.6,85.2 475.8,90.7 472.1,96.1 468.3,101.5 464.6,107 460.8,112.4 457,117.8 453.3,123.3 449.6,128.7 446,134.2 442.3,139.6 438.6,145 435,150.5 431.3,155.9 427.6,161.3 424,166.8 420.3,172.2 416.8,177.6 413.3,183.1 409.9,188.5 407.2,193.9 404,199.4 400.7,204.8 397.3,210.3 393.9,215.7 390.5,221.1 387,226.6 383.4,232 387.1,232 391.1,226.6 395.2,221.1 399.4,215.7 403.6,210.3 407.8,204.8 412.1,199.4 416.4,193.9 421.2,188.5 425.3,183.1 429.4,177.6 433.3,172.2 437,166.8 440.6,161.3 444.3,155.9 448,150.5 451.6,145 455.3,139.6 459,134.2 462.6,128.7 466.3,123.3 469.8,117.8 473.4,112.4 477,107 480.6,101.5 484.1,96.1 487.7,90.7 491.3,85.2 494.9,79.8 498.4,74.4 502,68.9 505.6,63.5 509.1,58.1 512.7,52.6 516.3,47.2 519.9,41.7 523.4,36.3 527,30.9 530.6,25.4 534.3,20ZM528,215.1 529.7,214 531.4,212.8 533.1,211.7 534.8,210.1 536.5,208 538.2,205.9 539.9,203.6 541.6,201.4 543.3,199.3 544.9,198.1 546.6,196.6 548.3,195.5 550,194.2 551.7,193.6 553.4,192.2 555.1,191 556.8,189.7 558.5,188.9 560.2,187.9 561.9,186.6 563.6,185.3 565.3,184.2 567,183.5 568.7,182.1 570.4,181 572.1,179.6 573.8,178.9 575.5,177.7 577.2,176.6 578.8,175.1 580.5,174.2 582.2,173.3 583.9,172.1 585.6,170.8 587.3,169.5 589,168.8 590.7,167.6 592.4,166.5 594.1,165 595.8,164.2 597.5,163.1 599.2,162.1 600.9,160.6 602.6,159.6 604.3,158.7 606,157.6 607.7,156.3 609.4,154.9 611.1,154.2 612.7,153 614.4,152 616.1,150.4 617.8,149.6 619.5,148.5 621.2,147.6 622.9,146.1 624.6,145 626.3,144 628,143.1 628,155.2 626.3,155.9 624.6,157.3 622.9,158.5 621.2,159.8 619.5,160.5 617.8,161.7 616.1,162.9 614.4,164.3 612.7,165.2 611.1,166.1 609.4,167.3 607.7,168.6 606,169.9 604.3,170.6 602.6,171.8 600.9,172.9 599.2,174.4 597.5,175.2 595.8,176.3 594.1,177.3 592.4,178.8 590.7,179.9 589,180.7 587.3,181.8 585.6,183.1 583.9,184.5 582.2,185.2 580.5,186.4 578.8,187.4 577.2,189 575.5,189.8 573.8,190.9 572.1,191.8 570.4,193.3 568.7,194.5 567,195.4 565.3,196.4 563.6,197.5 561.9,199 560.2,199.9 558.5,201 556.8,201.8 555.1,203.5 553.4,204.5 551.7,205.6 550,206.4 548.3,207.7 546.6,209 544.9,210.1 543.3,210.6 541.6,210.6 539.9,210.9 538.2,210.9 536.5,211 534.8,211.1 533.1,211.7 531.4,212.8 529.7,214 528,215.1Z"/>
<path fill="#5cbc68" d="M516.3,154.1 515.7,155.6 515.3,156.9 515,158 514.6,159.1 514.4,160.3 514,161.4 513.3,162.4 512.6,163.3 511.4,164.1 509.9,164.6 508.5,165.2 507.5,166.1 506.1,166.6 504.1,166.8 502.3,166.9 500.6,167.3 498.9,167.6 497.1,168 495.1,168.2 493,168 490.7,167.8 488.4,167.6 486,167.3 483,166.8 480,166.6 477.5,166.3 475.3,165.7 473.1,165.2 470.9,164.8 469,164.1 467.5,163.3 466,162.4 464.5,161.6 462.8,160.9 460.9,160.3 459.6,159.4 458.6,158.3 457.3,157.4 455.8,156.5 454.8,155.5 453.9,154.4 453.1,153.2 453,152 453.3,150.8 453.5,149.5 453.4,148.3 453.4,146.9 453.5,145.3 454,143.9 454.8,142.8 455.1,141.6 455.4,140.6 456.5,139.8 457.8,139.1 458.5,138.2 459.1,137.3 459.9,136.5 460.9,135.8 462.2,135.1 463.7,134.7 465.1,134.2 466.5,133.7 468.2,133.4 469.9,133.1 471.7,132.9 473.8,133 476,133.3 477.9,133.1 479.9,132.8 482.2,132.9 484.7,133.1 487.7,133.5 490.7,134 493.2,134.4 495.5,134.8 497.5,135.5 499.4,136.2 501.6,136.6 503.6,137.1 505.3,137.8 507.1,138.4 508.9,139.1 510.1,140.1 511.3,141 512.7,141.8 514,142.7 514.9,143.8 515.4,144.9 515.5,146 515.9,147 516.9,148.1 517.5,149.2 517.2,150.3 516.9,151.5 516.8,152.7ZM521.4,200.5 520.6,202.3 520,203.6 520.1,204.9 519.7,206.1 518.8,207.1 518.5,208.3 518.3,209.5 517.2,210.4 516.1,211.3 515.5,212.4 514.5,213.4 512.9,214.2 511.4,215 509.6,215.7 507.4,216.2 505.3,216.7 503,217.1 500.4,217.3 498.2,217.8 495.9,218.5 493,218.5 489.8,218.2 486.6,218.2 482.6,218.3 478.8,218.2 475.7,218.3 472.8,218.4 470.2,218.2 467.6,218 465.2,217.8 463.1,217.2 461,216.7 458.7,216.4 457,215.7 455.8,214.7 454.2,214 452.5,213.4 451.5,212.4 450.6,211.4 449.4,210.5 448.1,209.6 446.9,208.7 445.8,207.6 445.8,206.4 446,205 445.5,203.8 445.2,202.3 445.4,200.5 445.1,199 444.7,197.7 445.4,196.6 446.5,195.7 447.1,194.7 447.8,193.8 448.7,193 449.6,192.2 450.9,191.4 452.3,190.8 453.2,190 454.4,189.2 456.3,188.8 458,188.2 459.3,187.5 461.1,186.9 463.3,186.6 465.6,186.3 468,186.1 470.6,186.1 473.1,185.9 475.7,185.6 478.7,185.4 482.6,185.2 486.8,185 490,185.4 492.8,185.7 495.7,185.6 498.5,185.7 500.8,186.1 503.1,186.5 505.5,186.8 507.6,187.2 509.6,187.7 511.5,188.3 513,189 514.6,189.6 516.5,190.2 517.6,191 518.2,192 519.2,192.8 519.9,193.7 519.9,194.7 520.5,195.7 521.7,196.6 522.2,197.7 522,199ZM524.8,20 521.1,25.4 517.4,30.9 513.7,36.3 509.9,41.7 506.2,47.2 502.4,52.6 498.6,58.1 494.9,63.5 491.1,68.9 487.4,74.4 483.6,79.8 479.9,85.2 476.1,90.7 472.4,96.1 468.6,101.5 464.9,107 461.1,112.4 457.3,117.8 453.6,123.3 449.9,128.7 446.3,134.2 442.6,139.6 438.9,145 435.3,150.5 431.6,155.9 427.9,161.3 424.3,166.8 420.6,172.2 417.1,177.6 413.6,183.1 410.2,188.5 407.5,193.9 404.3,199.4 401,204.8 397.6,210.3 394.2,215.7 390.8,221.1 387.3,226.6 383.7,232 386.8,232 390.8,226.6 394.9,221.1 399.1,215.7 403.3,210.3 407.5,204.8 411.8,199.4 416.1,193.9 420.9,188.5 425,183.1 429.1,177.6 433,172.2 436.7,166.8 440.3,161.3 444,155.9 447.7,150.5 451.3,145 455,139.6 458.7,134.2 462.3,128.7 466,123.3 469.5,117.8 473.1,112.4 476.7,107 480.3,101.5 483.8,96.1 487.4,90.7 491,85.2 494.6,79.8 498.1,74.4 501.7,68.9 505.3,63.5 508.8,58.1 512.4,52.6 516,47.2 519.6,41.7 523.1,36.3 526.7,30.9 530.3,25.4 534,20ZM528,215.1 529.7,214 531.4,212.8 533.1,211.7 534.8,210.6 536.5,208.9 538.2,206.9 539.9,204.9 541.6,202.8 543.3,200.7 544.9,198.4 546.6,197.5 548.3,196.2 550,195.1 551.7,193.6 553.4,192.8 555.1,191.8 556.8,190.7 558.5,189.3 560.2,188.1 561.9,187.3 563.6,186.2 565.3,185 567,183.5 568.7,182.8 570.4,181.6 572.1,180.7 573.8,179.1 575.5,178.1 577.2,177.1 578.8,176.2 580.5,174.8 582.2,173.5 583.9,172.7 585.6,171.6 587.3,170.5 589,169 590.7,168.1 592.4,167 594.1,166.2 595.8,164.6 597.5,163.5 599.2,162.5 600.9,161.6 602.6,160.3 604.3,159 606,158 607.7,157 609.4,156.1 611.1,154.5 612.7,153.5 614.4,152.4 616.1,151.6 617.8,150.1 619.5,149 621.2,147.8 622.9,147 624.6,145.9 626.3,144.5 628,143.4 628,154.3 626.3,155.8 624.6,156.8 622.9,157.9 621.2,158.6 619.5,160.2 617.8,161.3 616.1,162.5 614.4,163.2 612.7,164.5 611.1,165.8 609.4,167 607.7,167.9 606,168.8 604.3,170.2 602.6,171.4 600.9,172.6 599.2,173.2 597.5,174.6 595.8,175.8 594.1,177.2 592.4,177.9 590.7,179 589,180.2 587.3,181.6 585.6,182.6 583.9,183.4 582.2,184.7 580.5,185.9 578.8,187.3 577.2,187.9 575.5,189.1 573.8,190.2 572.1,191.7 570.4,192.5 568.7,193.6 567,194.7 565.3,196.1 563.6,197.3 561.9,198 560.2,199.2 558.5,200.3 556.8,201.9 555.1,202.6 553.4,203.7 551.7,204.7 550,206.3 548.3,207.2 546.6,208.2 544.9,208.9 543.3,209.3 541.6,209.6 539.9,209.6 538.2,209.8 536.5,210 534.8,210.6 533.1,211.7 531.4,212.8 529.7,214 528,215.1Z"/>
<path fill="#56b648" d="M512.8,152.6 512.5,153.9 512.1,154.9 511.9,156 511.4,156.9 510.7,157.8 510.4,158.8 509.8,159.7 508.9,160.4 507.9,161.2 506.6,161.8 505,162.1 503.7,162.7 502.8,163.5 501.4,163.9 499.6,164.1 498,164.4 496.3,164.6 494.5,164.7 492.8,165 491,165.1 489,165 486.9,164.9 484.8,164.9 482.4,164.5 480,164.2 477.9,164.1 475.8,163.8 474,163.3 472,163 470.1,162.7 468.5,162 467,161.3 465.7,160.6 464.4,159.8 462.9,159.2 461.2,158.6 460,157.8 459.4,156.8 458.3,155.9 457.3,155 456.7,154.1 455.9,153.1 455.1,152.1 454.9,151.1 454.9,150 454.6,148.9 454.6,147.8 454.8,146.5 454.9,145.3 455.3,144.3 456.1,143.4 456.4,142.5 456.8,141.6 458.1,140.9 459.3,140.3 460.1,139.6 460.9,138.9 461.8,138.2 462.7,137.5 464,137 465.6,136.7 467,136.3 468.5,135.9 470.1,135.6 471.6,135.3 473.3,135 475.2,135.1 477.2,135.3 479,135.1 480.9,135 483.1,135.2 485.5,135.3 488,135.5 490.1,135.8 492.2,136 494.2,136.3 496,136.9 497.7,137.4 499.7,137.7 501.5,138.2 503,138.9 504.6,139.5 505.9,140.3 506.6,141.3 507.5,142.1 508.7,142.9 509.6,143.8 510.3,144.6 510.9,145.6 511.1,146.5 511.4,147.5 512.2,148.4 512.7,149.4 512.5,150.4 512.6,151.4ZM519.5,200.5 519.3,202 519.3,203.3 518.5,204.3 517.2,205.2 516.6,206.1 516.1,207.1 514.9,207.8 513.8,208.5 513.1,209.4 512.1,210.1 510.8,210.8 509.2,211.3 507.3,211.7 505.8,212.3 504.7,213.1 502.9,213.6 500.6,213.7 498.5,214 496.5,214.5 494.2,214.7 491.7,214.7 489.1,214.8 486.2,214.8 482.6,214.6 479.1,214.4 476.4,214.2 473.9,214.1 471.4,214.2 469,214.1 467,213.8 464.8,213.6 462.2,213.6 460.3,213.2 459,212.5 457.4,211.9 455.7,211.5 454.1,210.9 452.6,210.3 451.4,209.6 450.7,208.7 449.6,208 448.6,207.1 448.3,206.2 447.9,205.2 447,204.3 446.9,203.2 447.7,202 447.7,200.5 447.2,199.1 447.1,198 447.5,197 448,196.1 448.7,195.2 449.1,194.3 449.7,193.5 451.1,192.8 452.7,192.3 453.4,191.5 454.2,190.7 455.7,190.1 457,189.5 458.3,188.9 460.2,188.4 462.3,188.1 464.3,187.8 466.4,187.5 468.6,187.2 471,187.1 473.6,187.2 476.3,187.4 479,187.1 482.6,186.9 486.2,187 488.9,187.3 491.5,187.3 494,187.4 496.1,187.7 498.2,188 500.1,188.3 502,188.7 504.1,188.9 505.9,189.3 507.5,189.8 509.3,190.2 510.9,190.7 511.7,191.5 512.4,192.3 514,192.9 515.5,193.5 516.2,194.3 516.7,195.2 517.4,196 518.3,196.9 519.3,197.9 519.9,199ZM525.2,20 521.5,25.4 517.8,30.9 514.1,36.3 510.3,41.7 506.6,47.2 502.8,52.6 499,58.1 495.3,63.5 491.5,68.9 487.8,74.4 484,79.8 480.3,85.2 476.5,90.7 472.8,96.1 469,101.5 465.3,107 461.5,112.4 457.7,117.8 454,123.3 450.3,128.7 446.7,134.2 443,139.6 439.3,145 435.7,150.5 432,155.9 428.3,161.3 424.7,166.8 421,172.2 417.5,177.6 414,183.1 410.6,188.5 407.9,193.9 404.7,199.4 401.4,204.8 398,210.3 394.6,215.7 391.2,221.1 387.7,226.6 384.1,232 386.5,232 390.4,226.6 394.5,221.1 398.7,215.7 402.9,210.3 407.1,204.8 411.4,199.4 415.7,193.9 420.5,188.5 424.6,183.1 428.7,177.6 432.6,172.2 436.3,166.8 439.9,161.3 443.6,155.9 447.3,150.5 450.9,145 454.6,139.6 458.3,134.2 461.9,128.7 465.6,123.3 469.1,117.8 472.7,112.4 476.3,107 479.9,101.5 483.4,96.1 487,90.7 490.6,85.2 494.2,79.8 497.7,74.4 501.3,68.9 504.9,63.5 508.4,58.1 512,52.6 515.6,47.2 519.2,41.7 522.7,36.3 526.3,30.9 529.9,25.4 533.6,20ZM528,215.1 529.7,214 531.4,212.8 533.1,211.7 534.8,210.6 536.5,209.5 538.2,207.8 539.9,205.8 541.6,204 543.3,202.1 544.9,200.3 546.6,197.9 548.3,196.9 550,195.8 551.7,194.9 553.4,193.5 555.1,192.3 556.8,191.3 558.5,190.4 560.2,189.2 561.9,187.7 563.6,186.8 565.3,185.8 567,184.9 568.7,183.3 570.4,182.3 572.1,181.2 573.8,180.4 575.5,179 577.2,177.7 578.8,176.7 580.5,175.8 582.2,174.7 583.9,173.2 585.6,172.2 587.3,171.1 589,170.4 590.7,168.8 592.4,167.7 594.1,166.5 595.8,165.8 597.5,164.5 599.2,163.2 600.9,162 602.6,161.1 604.3,160.2 606,158.8 607.7,157.6 609.4,156.4 611.1,155.8 612.7,154.4 614.4,153.2 616.1,151.9 617.8,151.1 619.5,150 621.2,148.8 622.9,147.5 624.6,146.4 626.3,145.7 628,144.3 628,153.9 626.3,154.8 624.6,155.8 622.9,156.9 621.2,158.4 619.5,159.3 617.8,160.4 616.1,161.2 614.4,162.8 612.7,163.9 611.1,164.9 609.4,165.8 607.7,167.1 606,168.5 604.3,169.4 602.6,170.4 600.9,171.3 599.2,172.9 597.5,173.9 595.8,175.1 594.1,175.8 592.4,177.3 590.7,178.4 589,179.6 587.3,180.4 585.6,181.5 583.9,182.9 582.2,184.1 580.5,185.1 578.8,185.9 577.2,187.4 575.5,188.5 573.8,189.7 572.1,190.4 570.4,191.7 568.7,192.9 567,194.2 565.3,195.1 563.6,196.1 561.9,197.4 560.2,198.6 558.5,199.8 556.8,200.5 555.1,201.8 553.4,203 551.7,204.4 550,205 548.3,206.2 546.6,207.2 544.9,207.8 543.3,208 541.6,208.2 539.9,208.6 538.2,208.9 536.5,209.5 534.8,210.6 533.1,211.7 531.4,212.8 529.7,214 528,215.1Z"/>
<path fill="#8ac640" d="M504.9,150.8 505.1,151.8 504.9,152.7 504.1,153.6 503.7,154.5 502.7,155.2 501.9,156.1 501.4,157 500.2,157.7 499,158.4 497.6,159 496,159.4 494.5,160 492.6,160.2 491,160.6 489.5,161.2 487.6,161.4 485.6,161.4 483.7,161.4 481.7,161.3 479.8,161.3 477.8,161.1 475.9,160.7 474.1,160.3 472.4,159.7 470.5,159.3 468.7,158.9 467.3,158 465.8,157.4 464.4,156.6 463.2,155.8 462,155 460.9,154.2 459.5,153.4 458.5,152.4 458.3,151.4 457.8,150.4 457.7,149.5 457.5,148.5 457,147.5 457.3,146.6 458,145.7 458.4,144.8 458.9,143.9 459.4,143 460.8,142.4 462.3,141.8 463.3,141.1 464.9,140.7 466.3,140.2 467.5,139.5 469.1,139.1 470.5,138.6 472.2,138.2 474,138.1 475.8,137.8 477.6,137.5 479.5,137.2 481.4,137.1 483.4,137.5 485.4,137.7 487.4,137.8 489.3,138.3 491.1,138.8 492.6,139.5 494.2,140.1 495.9,140.6 497.4,141.3 499.1,141.9 500.6,142.6 501.6,143.5 502.9,144.3 503.6,145.2 503.9,146.2 504.8,147.1 505.4,148 505.7,149 505.5,149.9ZM511.6,199.5 512.2,200.4 512.4,201.2 511.7,201.9 511.1,202.5 510.6,203.2 509.4,203.7 508.4,204.2 507.8,204.8 506.6,205.3 504.9,205.6 503.3,205.9 502,206.3 500.7,206.7 499.4,207.1 497.4,207.3 495.4,207.3 493.7,207.6 492,207.9 490,208.1 488,208.4 485.8,208.6 483.2,208.6 479.8,208.6 477,208.5 474.5,208.4 472.2,208.3 470,208.1 467.8,207.9 465.4,207.9 463,207.8 461.5,207.4 459.8,207 457.6,206.8 455.8,206.5 454.3,206 453.2,205.5 452.6,204.9 451.9,204.3 450.8,203.7 450.1,203.1 449.4,202.5 448.6,201.9 448.9,201.1 449.5,200.4 449.3,199.5 449.4,198.4 450.1,197.6 450.3,196.8 450.2,196 450.5,195.2 451,194.5 452.3,193.9 453.8,193.4 454.8,192.8 455.8,192.2 457.6,191.8 459.2,191.4 460.8,191 462.8,190.8 464.5,190.4 465.9,189.8 467.7,189.4 469.9,189.2 472.2,189.1 474.6,189.1 477.1,188.9 479.8,188.7 483.2,188.8 485.8,188.8 488.3,188.6 490.6,188.6 492.7,188.9 494.7,189.1 496.5,189.4 498.2,189.8 500.1,190.1 501.7,190.5 503.1,191 504.4,191.5 505.4,192.1 506.3,192.7 507.9,193.2 509.2,193.8 509.3,194.6 509.3,195.3 509.8,196.1 510.2,196.8 510.8,197.6 511.3,198.4ZM527.1,20 523.4,25.4 519.8,30.9 516.1,36.3 512.4,41.7 508.8,47.2 505.1,52.6 501.4,58.1 497.8,63.5 494.1,68.9 490.5,74.4 486.8,79.8 483.1,85.2 479.5,90.7 475.8,96.1 472.1,101.5 468.5,107 464.8,112.4 461.1,117.8 456.6,123.3 451.8,128.7 448.1,134.2 444.4,139.6 440.7,145 437.1,150.5 433.4,155.9 429.7,161.3 426.1,166.8 422.4,172.2 418.9,177.6 415.4,183.1 412.4,188.5 410.4,193.9 407.2,199.4 403.8,204.8 400.3,210.3 396.7,215.7 393.1,221.1 389.6,226.6 386,232 386.5,232 390.2,226.6 393.8,221.1 397.5,215.7 401.2,210.3 404.8,204.8 408.8,199.4 413.2,193.9 418.7,188.5 423.2,183.1 427.3,177.6 431.2,172.2 434.9,166.8 438.5,161.3 442.2,155.9 445.9,150.5 449.5,145 453.2,139.6 456.9,134.2 460.5,128.7 463,123.3 465.7,117.8 469.4,112.4 473.1,107 476.7,101.5 480.4,96.1 484.1,90.7 487.7,85.2 491.4,79.8 495.1,74.4 498.7,68.9 502.4,63.5 506,58.1 509.7,52.6 513.4,47.2 517,41.7 520.7,36.3 524.4,30.9 528,25.4 531.7,20ZM528,215.1 529.7,214 531.4,212.8 533.1,211.7 534.8,210.6 536.5,209.5 538.2,208.4 539.9,207.2 541.6,206 543.3,204.6 544.9,203.1 546.6,201.9 548.3,200.3 550,198.8 551.7,197.5 553.4,196.6 555.1,195.5 556.8,194.1 558.5,193 560.2,191.9 561.9,191.2 563.6,189.7 565.3,188.6 567,187.3 568.7,186.7 570.4,185.3 572.1,184.1 573.8,182.8 575.5,182 577.2,181 578.8,179.6 580.5,178.4 582.2,177.3 583.9,176.6 585.6,175.2 587.3,174.1 589,172.7 590.7,172 592.4,170.8 594.1,169.6 595.8,168.2 597.5,167.3 599.2,166.4 600.9,165.2 602.6,163.9 604.3,162.6 606,162 607.7,160.7 609.4,159.6 611.1,158.1 612.7,157.3 614.4,156.3 616.1,155.2 617.8,153.7 619.5,152.6 621.2,151.8 622.9,150.7 624.6,149.4 626.3,148 628,147.3 628,150.6 626.3,151.8 624.6,153.1 622.9,154.4 621.2,155.1 619.5,156.3 617.8,157.4 616.1,158.9 614.4,159.7 612.7,160.8 611.1,161.8 609.4,163.3 607.7,164.3 606,165.3 604.3,166.3 602.6,167.6 600.9,169 599.2,169.8 597.5,170.9 595.8,171.9 594.1,173.5 592.4,174.3 590.7,175.4 589,176.3 587.3,177.8 585.6,179 583.9,179.9 582.2,180.9 580.5,182 578.8,183.5 577.2,184.4 575.5,185.5 573.8,186.3 572.1,187.9 570.4,189 568.7,190.1 567,190.8 565.3,192.2 563.6,193.5 561.9,194.6 560.2,195.5 558.5,196.5 556.8,198 555.1,199 553.4,200.2 551.7,200.9 550,202.2 548.3,203 546.6,203.9 544.9,204.5 543.3,205.4 541.6,206.2 539.9,207.2 538.2,208.4 536.5,209.5 534.8,210.6 533.1,211.7 531.4,212.8 529.7,214 528,215.1Z"/>
<path fill="#f0e838" d="M462.6,198.2 462.6,199 462.3,199.7 461.7,200.3 461,200.8 460.2,201.2 459.3,201.3 458.4,201.5 457.5,201.5 456.6,201.2 455.6,201 454.8,200.5 454.3,199.8 454.2,199 454.1,198.2 454.3,197.5 454.5,196.7 455,196.1 455.7,195.5 456.6,195.2 457.4,194.7 458.4,194.7 459.3,195 460.2,195.2 461,195.7 461.8,196 462.5,196.7 462.7,197.4ZM495.3,200.5 495,201.2 494.2,201.9 493.6,202.6 492.2,203.2 490.5,203.5 488.8,203.8 486.9,203.9 485,203.9 482.9,203.8 481.4,203.2 480.1,202.7 479.3,202 478.6,201.3 478.6,200.5 479.1,199.8 479.4,199.1 480.3,198.4 481.3,197.7 483,197.3 485,197.2 486.9,197.2 488.8,197.2 490.6,197.4 492.4,197.7 493.6,198.4 494.6,199 495.1,199.8ZM528.4,20 524.7,25.4 521.1,30.9 517.4,36.3 513.7,41.7 510.1,47.2 506.4,52.6 502.7,58.1 499.1,63.5 495.4,68.9 491.8,74.4 488.1,79.8 484.4,85.2 480.8,90.7 477.1,96.1 473.4,101.5 469.8,107 466.1,112.4 462.4,117.8 457.5,123.3 452.2,128.7 448.5,134.2 444.8,139.6 441.1,145 437.5,150.5 433.8,155.9 430.1,161.3 426.5,166.8 422.8,172.2 419.3,177.6 415.8,183.1 413,188.5 411.6,193.9 408.5,199.4 404.8,204.8 401.2,210.3 397.5,215.7 393.8,221.1 390.2,226.6 386.5,232 386.5,232 390.2,226.6 393.8,221.1 397.5,215.7 401.2,210.3 404.8,204.8 408.5,199.4 412.2,193.9 418.1,188.5 422.8,183.1 426.9,177.6 430.8,172.2 434.5,166.8 438.1,161.3 441.8,155.9 445.5,150.5 449.1,145 452.8,139.6 456.5,134.2 460,128.7 462.1,123.3 464.4,117.8 468.1,112.4 471.8,107 475.4,101.5 479.1,96.1 482.8,90.7 486.4,85.2 490.1,79.8 493.8,74.4 497.4,68.9 501.1,63.5 504.7,58.1 508.4,52.6 512.1,47.2 515.7,41.7 519.4,36.3 523.1,30.9 526.7,25.4 530.4,20Z"/>
<path fill="#f08030" d="M483.1,201 483.1,201.2 483,201.5 482.8,201.7 482.5,201.9 482.2,202 481.9,202.1 481.5,202.1 481.2,202.1 480.8,202 480.5,201.9 480.2,201.7 480.1,201.5 480,201.2 479.9,201 479.9,200.8 480,200.5 480.2,200.3 480.5,200.1 480.8,200 481.1,199.9 481.5,199.9 481.8,199.9 482.2,200 482.5,200.2 482.7,200.3 482.9,200.5 483.1,200.8ZM528.9,20 525.3,25.4 521.6,30.9 518,36.3 514.3,41.7 510.6,47.2 507,52.6 503.3,58.1 499.6,63.5 496,68.9 492.3,74.4 488.6,79.8 485,85.2 481.3,90.7 477.6,96.1 474,101.5 470.3,107 466.7,112.4 463,117.8 458.1,123.3 452.8,128.7 449.1,134.2 445.4,139.6 441.7,145 438.1,150.5 434.4,155.9 430.7,161.3 427.1,166.8 423.4,172.2 419.9,177.6 416.4,183.1 413.6,188.5 412.1,193.9 408.5,199.4 404.8,204.8 401.2,210.3 397.5,215.7 393.8,221.1 390.2,226.6 386.5,232 386.5,232 390.2,226.6 393.8,221.1 397.5,215.7 401.2,210.3 404.8,204.8 408.5,199.4 412.2,193.9 417.6,188.5 422.2,183.1 426.3,177.6 430.2,172.2 433.9,166.8 437.5,161.3 441.2,155.9 444.9,150.5 448.5,145 452.2,139.6 455.9,134.2 459.4,128.7 461.5,123.3 463.9,117.8 467.6,112.4 471.2,107 474.9,101.5 478.5,96.1 482.2,90.7 485.9,85.2 489.5,79.8 493.2,74.4 496.9,68.9 500.5,63.5 504.2,58.1 507.9,52.6 511.5,47.2 515.2,41.7 518.9,36.3 522.5,30.9 526.2,25.4 529.8,20Z"/>
<path fill="#e82828" d="M482.4,201 482.4,201.2 482.3,201.3 482.2,201.4 482.1,201.5 481.9,201.6 481.7,201.7 481.5,201.7 481.3,201.7 481.1,201.6 480.9,201.5 480.8,201.4 480.7,201.3 480.6,201.2 480.6,201 480.6,200.8 480.7,200.7 480.8,200.6 481,200.5 481.1,200.4 481.3,200.3 481.5,200.3 481.7,200.3 481.9,200.3 482.1,200.4 482.2,200.6 482.3,200.7 482.4,200.8ZM529.4,20 525.7,25.4 522.1,30.9 518.4,36.3 514.7,41.7 511.1,47.2 507.4,52.6 503.7,58.1 500.1,63.5 496.4,68.9 492.8,74.4 489.1,79.8 485.4,85.2 481.8,90.7 478.1,96.1 474.4,101.5 470.8,107 467.1,112.4 463.4,117.8 458.5,123.3 453.2,128.7 449.5,134.2 445.8,139.6 442.1,145 438.5,150.5 434.8,155.9 431.1,161.3 427.5,166.8 423.8,172.2 420.3,177.6 416.8,183.1 414,188.5 412.2,193.9 408.5,199.4 404.8,204.8 401.2,210.3 397.5,215.7 393.8,221.1 390.2,226.6 386.5,232 386.5,232 390.2,226.6 393.8,221.1 397.5,215.7 401.2,210.3 404.8,204.8 408.5,199.4 412.2,193.9 417.1,188.5 421.8,183.1 425.9,177.6 429.8,172.2 433.5,166.8 437.1,161.3 440.8,155.9 444.5,150.5 448.1,145 451.8,139.6 455.5,134.2 459,128.7 461.1,123.3 463.4,117.8 467.1,112.4 470.8,107 474.4,101.5 478.1,96.1 481.8,90.7 485.4,85.2 489.1,79.8 492.8,74.4 496.4,68.9 500.1,63.5 503.7,58.1 507.4,52.6 511.1,47.2 514.7,41.7 518.4,36.3 522.1,30.9 525.7,25.4 529.4,20Z"/>
<path fill="#ffffff" d="M529.4,20 525.7,25.4 522.1,30.9 518.4,36.3 514.7,41.7 511.1,47.2 507.4,52.6 503.7,58.1 500.1,63.5 496.4,68.9 492.8,74.4 489.1,79.8 485.4,85.2 481.8,90.7 478.1,96.1 474.4,101.5 470.8,107 467.1,112.4 463.4,117.8 458.7,123.3 453.7,128.7 450,134.2 446.3,139.6 442.6,145 439,150.5 435.3,155.9 431.6,161.3 428,166.8 424.3,172.2 420.8,177.6 417.3,183.1 414.4,188.5 412.2,193.9 408.5,199.4 404.8,204.8 401.2,210.3 397.5,215.7 393.8,221.1 390.2,226.6 386.5,232 386.5,232 390.2,226.6 393.8,221.1 397.5,215.7 401.2,210.3 404.8,204.8 408.5,199.4 412.2,193.9 416.7,188.5 421.3,183.1 425.4,177.6 429.3,172.2 433,166.8 436.6,161.3 440.3,155.9 444,150.5 447.6,145 451.3,139.6 455,134.2 458.5,128.7 460.9,123.3 463.4,117.8 467.1,112.4 470.8,107 474.4,101.5 478.1,96.1 481.8,90.7 485.4,85.2 489.1,79.8 492.8,74.4 496.4,68.9 500.1,63.5 503.7,58.1 507.4,52.6 511.1,47.2 514.7,41.7 518.4,36.3 522.1,30.9 525.7,25.4 529.4,20Z"/>
<ellipse cx="522" cy="31" rx="1.1" ry="1.3" fill="#fff6e0" transform="rotate(33 522 31)"/>
<ellipse cx="518.8" cy="35.7" rx="1.1" ry="1.3" fill="#fff6e0" transform="rotate(33 518.8 35.7)"/>
<ellipse cx="515.6" cy="40.4" rx="1.1" ry="1.3" fill="#fff6e0" transform="rotate(33 515.6 40.4)"/>
<ellipse cx="512.5" cy="45.1" rx="1.1" ry="1.3" fill="#fff6e0" transform="rotate(33 512.5 45.1)"/>
<ellipse cx="509.3" cy="49.8" rx="1.1" ry="1.3" fill="#fff6e0" transform="rotate(33 509.3 49.8)"/>
<ellipse cx="506.1" cy="54.5" rx="1.1" ry="1.3" fill="#fff6e0" transform="rotate(33 506.1 54.5)"/>
<ellipse cx="503" cy="59.2" rx="1.1" ry="1.3" fill="#fff6e0" transform="rotate(33 503 59.2)"/>
<ellipse cx="499.8" cy="63.9" rx="1.1" ry="1.3" fill="#fff6e0" transform="rotate(33 499.8 63.9)"/>
<ellipse cx="496.6" cy="68.6" rx="1.1" ry="1.3" fill="#fff6e0" transform="rotate(33 496.6 68.6)"/>
<ellipse cx="493.5" cy="73.3" rx="1.1" ry="1.3" fill="#fff6e0" transform="rotate(33 493.5 73.3)"/>
<ellipse cx="490.3" cy="78" rx="1.1" ry="1.3" fill="#fff6e0" transform="rotate(33 490.3 78)"/>
<ellipse cx="487.1" cy="82.7" rx="1.1" ry="1.3" fill="#fff6e0" transform="rotate(33 487.1 82.7)"/>
<ellipse cx="484" cy="87.4" rx="1.1" ry="1.3" fill="#fff6e0" transform="rotate(33 484 87.4)"/>
<ellipse cx="480.8" cy="92.1" rx="1.1" ry="1.3" fill="#fff6e0" transform="rotate(33 480.8 92.1)"/>
<ellipse cx="477.6" cy="96.8" rx="1.1" ry="1.3" fill="#fff6e0" transform="rotate(33 477.6 96.8)"/>
<ellipse cx="474.5" cy="101.5" rx="1.1" ry="1.3" fill="#fff6e0" transform="rotate(33 474.5 101.5)"/>
<ellipse cx="471.3" cy="106.2" rx="1.1" ry="1.3" fill="#fff6e0" transform="rotate(33 471.3 106.2)"/>
<ellipse cx="468.1" cy="110.9" rx="1.1" ry="1.3" fill="#fff6e0" transform="rotate(33 468.1 110.9)"/>
<ellipse cx="465" cy="115.6" rx="1.1" ry="1.3" fill="#fff6e0" transform="rotate(33 465 115.6)"/>
<ellipse cx="452.6" cy="134" rx="2.6" ry="0.7" fill="#e82828" transform="rotate(-10 452.6 134)"/>
<ellipse cx="444.5" cy="146" rx="2.6" ry="0.7" fill="#e82828" transform="rotate(-10 444.5 146)"/>
<ellipse cx="436.4" cy="158" rx="2.6" ry="0.7" fill="#e82828" transform="rotate(-10 436.4 158)"/>
<ellipse cx="429.6" cy="168" rx="2.6" ry="0.7" fill="#e82828" transform="rotate(-10 429.6 168)"/>
<ellipse cx="424.9" cy="175" rx="2.6" ry="0.7" fill="#e82828" transform="rotate(-10 424.9 175)"/>
<ellipse cx="420.9" cy="181" rx="2.6" ry="0.7" fill="#e82828" transform="rotate(-10 420.9 181)"/>
<ellipse cx="417.5" cy="186" rx="2.6" ry="0.7" fill="#e82828" transform="rotate(-10 417.5 186)"/>
<ellipse cx="412.5" cy="193" rx="1" ry="1.1" fill="#fff" transform="rotate(33 412.5 193)"/>
<ellipse cx="410.1" cy="196.6" rx="1" ry="1.1" fill="#fff" transform="rotate(33 410.1 196.6)"/>
<ellipse cx="407.6" cy="200.2" rx="1" ry="1.1" fill="#fff" transform="rotate(33 407.6 200.2)"/>
<ellipse cx="427.9" cy="186.6" rx="1.2" ry="1" fill="#2878c0"/>
<ellipse cx="431.5" cy="182" rx="1.2" ry="1" fill="#2878c0"/>
<ellipse cx="434.3" cy="177.4" rx="1.2" ry="1" fill="#2878c0"/>
<ellipse cx="438.8" cy="172.9" rx="1.2" ry="1" fill="#2878c0"/>
<ellipse cx="443.4" cy="169.2" rx="1.2" ry="1" fill="#2878c0"/>
<ellipse cx="548.1" cy="201.8" rx="2.6" ry="1.8" fill="#f0e838" transform="rotate(-35 548.1 201.8)"/>
<ellipse cx="548.1" cy="201.8" rx="1.4" ry="1" fill="#f08030" transform="rotate(-35 548.1 201.8)"/>
<ellipse cx="548.1" cy="201.8" rx="0.8" ry="0.6" fill="#e82828" transform="rotate(-35 548.1 201.8)"/>
<ellipse cx="555.2" cy="197.1" rx="2.6" ry="1.8" fill="#f0e838" transform="rotate(-35 555.2 197.1)"/>
<ellipse cx="555.2" cy="197.1" rx="1.4" ry="1" fill="#f08030" transform="rotate(-35 555.2 197.1)"/>
<ellipse cx="555.2" cy="197.1" rx="0.8" ry="0.6" fill="#e82828" transform="rotate(-35 555.2 197.1)"/>
<ellipse cx="562.3" cy="192.4" rx="2.6" ry="1.8" fill="#f0e838" transform="rotate(-35 562.3 192.4)"/>
<ellipse cx="562.3" cy="192.4" rx="1.4" ry="1" fill="#f08030" transform="rotate(-35 562.3 192.4)"/>
<ellipse cx="562.3" cy="192.4" rx="0.8" ry="0.6" fill="#e82828" transform="rotate(-35 562.3 192.4)"/>
<ellipse cx="569.4" cy="187.7" rx="2.6" ry="1.8" fill="#f0e838" transform="rotate(-35 569.4 187.7)"/>
<ellipse cx="569.4" cy="187.7" rx="1.4" ry="1" fill="#f08030" transform="rotate(-35 569.4 187.7)"/>
<ellipse cx="569.4" cy="187.7" rx="0.8" ry="0.6" fill="#e82828" transform="rotate(-35 569.4 187.7)"/>
<ellipse cx="576.5" cy="183" rx="2.6" ry="1.8" fill="#f0e838" transform="rotate(-35 576.5 183)"/>
<ellipse cx="576.5" cy="183" rx="1.4" ry="1" fill="#f08030" transform="rotate(-35 576.5 183)"/>
<ellipse cx="576.5" cy="183" rx="0.8" ry="0.6" fill="#e82828" transform="rotate(-35 576.5 183)"/>
<ellipse cx="583.6" cy="178.3" rx="2.6" ry="1.8" fill="#f0e838" transform="rotate(-35 583.6 178.3)"/>
<ellipse cx="583.6" cy="178.3" rx="1.4" ry="1" fill="#f08030" transform="rotate(-35 583.6 178.3)"/>
<ellipse cx="583.6" cy="178.3" rx="0.8" ry="0.6" fill="#e82828" transform="rotate(-35 583.6 178.3)"/>
<ellipse cx="590.7" cy="173.6" rx="2.6" ry="1.8" fill="#f0e838" transform="rotate(-35 590.7 173.6)"/>
<ellipse cx="590.7" cy="173.6" rx="1.4" ry="1" fill="#f08030" transform="rotate(-35 590.7 173.6)"/>
<ellipse cx="590.7" cy="173.6" rx="0.8" ry="0.6" fill="#e82828" transform="rotate(-35 590.7 173.6)"/>
<ellipse cx="597.9" cy="168.9" rx="2" ry="1.2" fill="#f0e838" transform="rotate(-35 597.9 168.9)"/>
<ellipse cx="605" cy="164.2" rx="2" ry="1.2" fill="#f0e838" transform="rotate(-35 605 164.2)"/>
<ellipse cx="612.1" cy="159.5" rx="2" ry="1.2" fill="#f0e838" transform="rotate(-35 612.1 159.5)"/>
<ellipse cx="619.2" cy="154.8" rx="2" ry="1.2" fill="#f0e838" transform="rotate(-35 619.2 154.8)"/>
<rect x="401" y="221.3" width="223.5" height="0.6" fill="#50c0e0"/>
<rect x="401" y="221.9" width="223.5" height="2.6" fill="#62b458"/>
<rect x="401" y="224.4" width="223.5" height="0.8" fill="#5cbc68"/>
<path d="M452,223.2 Q460,220 468,223.2 Z" fill="#f08030"/>
<path d="M446,223.4 Q460,222.6 476,223.4 L476,224 L446,224 Z" fill="#f0e838"/>
<ellipse cx="523.6" cy="220.5" rx="2.5" ry="1.5" fill="#0a0a14"/>
<rect x="401" y="28" width="2.3" height="197.2" fill="#6cb070"/>
<rect x="403.3" y="28" width="0.5" height="197.2" fill="#50c0e0"/>
<rect x="401" y="28" width="223.5" height="0.9" fill="#141c3c"/>
</g>
<path d="M400.6,27.6V225.5H624.8" stroke="#111" stroke-width="1.1" fill="none"/>
<path d="M400.7,225.5h-4.8M400.7,218h-2M400.7,208.1h-4.8M400.7,198.1h-2M400.7,188.1h-4.8M400.7,178.2h-2M400.7,168.2h-4.8M400.7,158.2h-2M400.7,148.2h-4.8M400.7,138.3h-2M400.7,128.3h-4.8M400.7,118.3h-2M400.7,108.4h-4.8M400.7,98.4h-2M400.7,88.4h-4.8M400.7,78.4h-2M400.7,68.5h-4.8M400.7,58.5h-2M400.7,48.5h-4.8M400.7,38.6h-2M400.7,28.6h-4.8M407.8,225.5v1.6M414.5,225.5v1.6M421.3,225.5v3.2M428.1,225.5v1.6M434.9,225.5v1.6M441.6,225.5v1.6M448.4,225.5v1.6M455.2,225.5v3.2M462,225.5v1.6M468.7,225.5v1.6M475.5,225.5v1.6M482.3,225.5v1.6M489,225.5v3.2M495.8,225.5v1.6M502.6,225.5v1.6M509.4,225.5v1.6M516.1,225.5v1.6M522.9,225.5v3.2M529.7,225.5v1.6M536.5,225.5v1.6M543.2,225.5v1.6M550,225.5v1.6M556.8,225.5v3.2M563.5,225.5v1.6M570.3,225.5v1.6M577.1,225.5v1.6M583.9,225.5v1.6M590.6,225.5v3.2M597.4,225.5v1.6M604.2,225.5v1.6M611,225.5v1.6M617.7,225.5v1.6M624.5,225.5v3.2" stroke="#111" stroke-width="0.9" fill="none"/>
<g class="t">
<text x="397.2" y="231.4" text-anchor="end">200</text>
<text x="397.2" y="211.5" text-anchor="end">220</text>
<text x="397.2" y="191.5" text-anchor="end">240</text>
<text x="397.2" y="171.6" text-anchor="end">260</text>
<text x="397.2" y="151.6" text-anchor="end">280</text>
<text x="397.2" y="131.7" text-anchor="end">300</text>
<text x="397.2" y="111.8" text-anchor="end">320</text>
<text x="397.2" y="91.8" text-anchor="end">340</text>
<text x="397.2" y="71.9" text-anchor="end">360</text>
<text x="397.2" y="51.9" text-anchor="end">380</text>
<text x="397.2" y="32" text-anchor="end">400</text>
<text x="422.7" y="238.5" text-anchor="middle">250</text>
<text x="457.4" y="238.5" text-anchor="middle">300</text>
<text x="492.4" y="238.5" text-anchor="middle">350</text>
<text x="526.7" y="238.5" text-anchor="middle">400</text>
<text x="560" y="238.5" text-anchor="middle">450</text>
<text x="593.9" y="238.5" text-anchor="middle">500</text>
<text x="627.2" y="238.5" text-anchor="middle">550</text>
<text x="512.5" y="250.7" text-anchor="middle" font-size="11.2">λ<tspan font-size="7.6" dy="2">em</tspan><tspan dy="-2">/nm</tspan></text>
<text transform="translate(375,121.1) rotate(-90)" text-anchor="middle">λ<tspan font-size="7.5" dy="2">ex</tspan><tspan dy="-2">/nm</tspan></text>
</g>
<rect x="410.8" y="39.7" width="62.9" height="32" fill="#fff"/><text class="t" font-size="11.5" x="416.3" y="62.6">0.005 g·g<tspan font-size="7.8" dy="-4.2">−1</tspan></text>
<text class="t" x="512.5" y="14.6" text-anchor="middle" font-size="11.8">BEPS</text>
<rect x="638.6" y="28.7" width="24.6" height="16.5" fill="#050505"/>
<rect x="638.6" y="44.9" width="24.6" height="16.5" fill="#1f50ae"/>
<rect x="638.6" y="61.2" width="24.6" height="16.5" fill="#2878c0"/>
<rect x="638.6" y="77.4" width="24.6" height="16.5" fill="#50c0e0"/>
<rect x="638.6" y="93.6" width="24.6" height="16.5" fill="#54c09e"/>
<rect x="638.6" y="109.9" width="24.6" height="16.5" fill="#5cbc68"/>
<rect x="638.6" y="126.1" width="24.6" height="16.5" fill="#56b648"/>
<rect x="638.6" y="142.4" width="24.6" height="16.5" fill="#8ac640"/>
<rect x="638.6" y="158.6" width="24.6" height="16.5" fill="#f0e838"/>
<rect x="638.6" y="174.8" width="24.6" height="16.5" fill="#f08030"/>
<rect x="638.6" y="191.1" width="24.6" height="16.2" fill="#e82828"/>
<g class="t" font-size="11.3">
<text x="665" y="50.1">0</text>
<text x="665" y="66">10.00</text>
<text x="665" y="81.9">20.00</text>
<text x="665" y="97.7">30.00</text>
<text x="665" y="113.6">40.00</text>
<text x="665" y="129.5">50.00</text>
<text x="665" y="145.4">60.00</text>
<text x="665" y="161.3">70.00</text>
<text x="665" y="177.1">80.00</text>
<text x="665" y="193">90.00</text>
<text x="665" y="208.9">100.00</text>
</g>
<text x="654.8" y="24.3" text-anchor="middle" font-weight="bold" font-size="11.7">荧光强度</text>
<clipPath id="cd"><rect x="400.7" y="264.1" width="223.4" height="199.1"/></clipPath>
<rect x="400.7" y="264.1" width="223.4" height="199.1" fill="#1f50ae"/>
<g clip-path="url(#cd)" filter="url(#bl)">
<path fill="#2878c0" d="M442.8,395.5 443.6,392.8 445.2,389.3 447.2,385.4 449.3,381.7 451.3,378.4 453.1,375.8 454.9,373.5 456.7,371.3 458.8,369.4 461.3,367.6 464.2,366 467.3,364.5 470.8,363.2 474.5,362.1 478.4,361.4 482.6,361 487.1,360.9 491.7,361.1 496.5,361.4 501.1,361.9 505.7,362.7 510.4,363.6 515,364.8 519.5,365.9 523.9,367.1 528.1,368.2 532.3,369.3 536.4,370.5 540.2,371.6 543.8,372.8 547.1,373.9 550.2,375 553.1,376.1 555.7,377.2 558,378.4 560,379.7 561.7,381.1 563.1,382.4 564.2,383.9 565.1,385.6 565.8,387.4 566.1,389.4 566.3,391.5 566.2,393.6 566,395.5 565.5,397.3 564.9,399.1 564,400.8 563.1,402.5 562.3,404.1 561.4,405.5 560.3,406.9 559.2,408.3 558.4,409.7 558,411.2 558.1,412.8 558.6,414.6 559.2,416.4 560.1,418.2 560.9,419.7 562,420.9 563.5,421.9 565,422.7 565.9,423.8 565.7,425.1 564.2,426.8 561.7,428.7 558.6,430.8 555.4,433.1 552.3,435.3 549.5,437.8 546.4,440.4 543.4,443 540.6,445.6 538.1,448.2 536,450.5 534.1,452.9 532.5,455.1 531,457.4 529.6,459.5 529,461.7 529.3,464 529.3,466.2 527.9,468.1 523.9,469.5 516.3,470.4 505.8,470.8 494,471 482.4,470.9 472.7,470.9 464.5,470.9 456.8,470.8 449.9,470.6 444.3,470.2 440.2,469.5 438.2,468.6 438.1,467.5 439,466.1 440.1,464.4 440.8,462.4 441,459.8 441.1,456.7 441.3,453.3 441.6,449.9 441.9,446.7 442.3,443.7 442.7,440.6 443.2,437.7 443.9,434.9 444.8,432.5 446,430.4 447.3,428.6 448.9,427.1 450.7,425.7 452.8,424.5 455.3,423.6 458.4,423 461.6,422.5 464.5,421.9 467,421.1 469.1,420.1 471.1,418.9 472.6,417.6 473.5,416.3 473.2,414.9 471.6,413.4 468.7,411.7 465.1,410 461.5,408.4 458.4,406.9 455.9,405.5 453.6,404.2 451.3,403 449.4,401.8 447.6,400.6 446.1,399.7 444.6,399.1 443.5,398.4 442.8,397.3ZM521.4,256 517.7,261.5 514,267.1 510.2,272.6 506.4,278.2 502.7,283.7 498.9,289.2 495.1,294.8 491.4,300.3 487.6,305.8 483.8,311.4 480,316.9 476.3,322.5 472.5,328 468.7,333.5 465,339.1 461.2,344.6 457.4,350.2 453.7,355.7 450,361.2 446.3,366.8 442.6,372.3 438.9,377.8 435.2,383.4 431.5,388.9 427.8,394.5 424.2,400 420.5,405.5 416.8,411.1 413.1,416.6 409.4,422.2 406.3,427.7 402.8,433.2 399.2,438.8 395.7,444.3 392.2,449.8 388.6,455.4 385,460.9 381.3,466.5 377.6,472 384,472 387.9,466.5 391.8,460.9 395.8,455.4 399.8,449.8 403.9,444.3 408.4,438.8 412.9,433.2 417.4,427.7 422.3,422.2 426.7,416.6 431,411.1 435.4,405.5 439.2,400 442.8,394.5 446.5,388.9 450.2,383.4 453.9,377.8 457.6,372.3 461.3,366.8 465,361.2 468.7,355.7 472.4,350.2 476,344.6 479.6,339.1 483.2,333.5 486.9,328 490.5,322.5 494.1,316.9 497.7,311.4 501.3,305.8 504.9,300.3 508.6,294.8 512.2,289.2 515.8,283.7 519.4,278.2 523,272.6 526.7,267.1 530.3,261.5 534,256ZM522,456.3 523.8,455.1 525.6,453.4 527.4,450.8 529.2,448.3 531,445.8 532.8,443.3 534.6,440.4 536.4,439.1 538.2,438 540,436.9 541.8,435.2 543.6,434.2 545.4,433.1 547.2,432 548.9,430.5 550.7,429.3 552.5,428.3 554.3,427.2 556.1,425.7 557.9,424.4 559.7,423.4 561.5,422.4 563.3,421 565.1,419.5 566.9,418.6 568.7,417.5 570.5,416.2 572.3,414.7 574.1,413.7 575.9,412.6 577.7,411.5 579.5,409.8 581.3,408.8 583.1,407.7 584.9,406.7 586.7,405 588.5,404 590.3,402.8 592.1,401.9 593.9,400.2 595.7,399.1 597.5,397.9 599.3,397.1 601.1,395.5 602.8,394.3 604.6,393 606.4,392.2 608.2,390.7 610,389.5 611.8,388.1 613.6,387.4 615.4,385.9 617.2,384.6 619,383.2 620.8,382.5 622.6,381.2 624.4,379.8 626.2,378.4 628,377.5 628,392.4 626.2,393.4 624.4,395.1 622.6,396.1 620.8,397.3 619,398.2 617.2,399.9 615.4,401 613.6,402.2 611.8,403 610,404.6 608.2,405.8 606.4,407.1 604.6,407.9 602.8,409.4 601.1,410.7 599.3,411.9 597.5,412.8 595.7,414.1 593.9,415.5 592.1,416.8 590.3,417.7 588.5,418.9 586.7,420.3 584.9,421.6 583.1,422.6 581.3,423.7 579.5,425.1 577.7,426.5 575.9,427.5 574.1,428.5 572.3,429.9 570.5,431.3 568.7,432.5 566.9,433.3 565.1,434.7 563.3,436 561.5,437.4 559.7,438.1 557.9,439.6 556.1,440.8 554.3,442.3 552.5,443 550.7,444.4 548.9,445.6 547.2,447.2 545.4,447.9 543.6,449.2 541.8,450.4 540,452 538.2,452.8 536.4,454 534.6,454.8 532.8,455.1 531,454.7 529.2,454.5 527.4,454.4 525.6,454.3 523.8,455.1 522,456.3Z"/>
<path fill="#50c0e0" d="M527.3,389.6 527.5,392.3 526.6,394.3 525.8,396.1 525.4,398.1 524.8,399.9 523.7,401.5 522.3,402.8 520.3,403.8 518.5,404.7 516.9,405.8 515,406.6 512.9,407.1 511.2,408 509.4,408.9 507.1,409 504.9,409.3 503.2,410.3 501.2,411.2 498.9,411.5 496.3,411.4 493.7,411.2 491,411 488.1,411.1 484.6,410.7 481,409.8 478,409.4 475.1,409.3 472.5,408.5 470.3,407.4 467.9,406.6 465.7,405.7 463.9,404.4 462,403.3 460,402.3 458.1,401.2 456.2,400 454.9,398.5 454.1,396.9 452.7,395.5 450.7,394.2 449.7,392.5 449.8,390.6 449.5,388.8 448.9,387 448.8,385.2 448.7,383.2 448.4,381.1 448.5,378.5 448.6,376.7 449,375.3 450,374.1 451,373 451.6,371.9 452.9,371 454.7,370.3 455.9,369.5 456.5,368.4 457.9,367.6 460,367.2 461.7,366.7 463.4,366.1 465,365.4 466.7,364.8 469,364.6 471.5,364.7 473.7,364.5 476.1,364.3 478.7,364.5 481.4,364.6 484.1,364.4 487.2,364.8 490.9,365.7 494.4,366.4 497.2,367 499.8,367.6 502.2,368.3 504.4,369.1 506.5,369.8 509,370.2 511.4,370.8 513,371.8 514.5,372.8 516.5,373.6 518.4,374.4 519.6,375.5 520.9,376.6 522.1,377.6 522.9,378.8 523.6,380 524.5,381.1 525.4,382.3 526.6,383.6 527.6,384.9 527.3,386.3 526.8,387.7ZM536.6,436.2 536,438.6 534.8,440.5 534.1,442.2 533.9,443.8 533.4,445.4 533.2,447 532.9,448.6 531.1,449.8 528.8,450.8 527.5,452.1 526.3,453.5 524.2,454.6 521.9,455.5 519.7,456.5 517.4,457.5 515,458.6 512,459.2 508.2,459.2 504.5,459.2 501.1,459.6 497.5,459.9 493.6,459.9 489.4,460 484,460.1 479.6,459.8 476.3,459.5 473,459.7 469.8,459.9 466.8,459.7 464.3,459.1 462.2,458 460.2,457.1 457.7,456.7 455.3,456.1 453.8,454.9 452.1,453.9 450.1,453.1 448.5,452 447.5,450.7 446.6,449.4 446,447.9 445.6,446.4 444.6,445.1 443.6,443.7 442.9,442.1 442,440.5 441.7,438.6 442.2,436.2 442,434.5 440.8,433.1 440.4,431.7 441.3,430.6 442.4,429.6 443.2,428.5 443.9,427.5 444.4,426.3 445.2,425.3 446.7,424.4 448.1,423.5 449.6,422.7 451.9,422.1 454.5,421.7 456.8,421.2 459.4,420.9 462.2,420.8 464.8,420.4 467.1,419.9 469.9,419.6 473,419.6 476.3,419.7 479.7,419.8 484,419.6 489.4,419.2 493.6,419.4 497.1,419.9 500.5,420.2 504,420.3 507.2,420.6 510.4,420.8 513.8,421 516.6,421.5 518.8,422.2 521,422.9 523,423.6 524.9,424.4 526.9,425.1 528.4,425.9 529.7,426.8 532.1,427.6 534.6,428.4 535.2,429.5 534.9,430.7 535.3,431.9 536,433.1 536.4,434.5ZM521.8,256 518.1,261.5 514.4,267.1 510.6,272.6 506.8,278.2 503.1,283.7 499.3,289.2 495.5,294.8 491.8,300.3 488,305.8 484.2,311.4 480.4,316.9 476.7,322.5 472.9,328 469.1,333.5 465.4,339.1 461.6,344.6 457.8,350.2 454.1,355.7 450.4,361.2 446.7,366.8 443,372.3 439.3,377.8 435.6,383.4 431.9,388.9 428.2,394.5 424.6,400 420.9,405.5 417.2,411.1 413.5,416.6 409.8,422.2 406.7,427.7 403.2,433.2 399.6,438.8 396.1,444.3 392.6,449.8 389,455.4 385.4,460.9 381.7,466.5 378,472 383.6,472 387.5,466.5 391.4,460.9 395.4,455.4 399.4,449.8 403.5,444.3 408,438.8 412.5,433.2 417,427.7 421.9,422.2 426.3,416.6 430.6,411.1 435,405.5 438.8,400 442.4,394.5 446.1,388.9 449.8,383.4 453.5,377.8 457.2,372.3 460.9,366.8 464.6,361.2 468.3,355.7 472,350.2 475.6,344.6 479.2,339.1 482.8,333.5 486.5,328 490.1,322.5 493.7,316.9 497.3,311.4 500.9,305.8 504.5,300.3 508.2,294.8 511.8,289.2 515.4,283.7 519,278.2 522.6,272.6 526.3,267.1 529.9,261.5 533.6,256ZM522,456.3 523.8,455.1 525.6,453.9 527.4,452.1 529.2,449.6 531,447.2 532.8,444.8 534.6,442.6 536.4,439.9 538.2,438.5 540,437.4 541.8,436.5 543.6,435.1 545.4,433.7 547.2,432.6 548.9,431.6 550.7,430.3 552.5,428.8 554.3,427.7 556.1,426.7 557.9,425.6 559.7,424 561.5,422.9 563.3,421.8 565.1,420.8 566.9,419.2 568.7,418 570.5,416.9 572.3,416 574.1,414.4 575.9,413.2 577.7,412 579.5,411.2 581.3,409.6 583.1,408.4 584.9,407.1 586.7,406.3 588.5,404.8 590.3,403.6 592.1,402.2 593.9,401.5 595.7,400 597.5,398.8 599.3,397.3 601.1,396.6 602.8,395.2 604.6,394 606.4,392.5 608.2,391.7 610,390.4 611.8,389.2 613.6,387.6 615.4,386.7 617.2,385.6 619,384.4 620.8,382.8 622.6,381.8 624.4,380.8 626.2,379.6 628,378.1 628,391.6 626.2,393.2 624.4,393.9 622.6,395.2 620.8,396.3 619,398 617.2,398.8 615.4,400 613.6,401.1 611.8,402.8 610,403.7 608.2,404.9 606.4,405.9 604.6,407.6 602.8,408.6 601.1,409.8 599.3,410.7 597.5,412.4 595.7,413.5 593.9,414.6 592.1,415.6 590.3,417.1 588.5,418.4 586.7,419.5 584.9,420.4 583.1,421.8 581.3,423.2 579.5,424.4 577.7,425.3 575.9,426.6 574.1,428.1 572.3,429.2 570.5,430.2 568.7,431.3 566.9,432.9 565.1,434.1 563.3,435.1 561.5,436.1 559.7,437.7 557.9,438.9 556.1,440.1 554.3,440.9 552.5,442.5 550.7,443.7 548.9,445 547.2,445.7 545.4,447.3 543.6,448.5 541.8,449.9 540,450.6 538.2,452.1 536.4,453.2 534.6,453.4 532.8,453.1 531,453.2 529.2,453.2 527.4,453.3 525.6,453.9 523.8,455.1 522,456.3Z"/>
<path fill="#54c09e" d="M524.1,389.1 523.7,391.4 523,393.2 523.1,395.1 522.9,396.9 522.1,398.5 521.2,399.9 519.8,401.1 518.3,402.2 517.5,403.7 516.6,405.1 514.7,405.8 512.7,406.5 511.2,407.4 509.1,408 506.9,408.1 505,408.7 503,409.3 500.8,409.6 498.6,409.9 496.2,410.2 493.7,410.1 491,410 488.2,409.9 484.8,408.9 481.5,408 478.6,407.8 475.9,407.4 473.8,406.2 471.7,405.2 469.4,404.6 467.4,403.7 465.3,402.9 463.2,402.1 461.8,400.8 460.5,399.5 459,398.3 458,396.9 457.2,395.5 455.6,394.3 454.2,393 453.8,391.4 453.1,389.9 451.9,388.4 451.4,386.7 451.4,385 451.3,383.2 451.4,381.3 451.4,378.9 450.9,377.2 451.2,375.8 452.3,374.8 452.7,373.7 452.9,372.4 454.1,371.6 455.3,370.7 456.2,369.8 457.7,369.2 459.8,368.8 461.5,368.4 463.1,367.8 464.7,367.3 466.2,366.7 468,366.3 470.3,366.3 472.4,366.1 474.3,365.7 476.8,365.9 479.4,366.3 481.9,366.4 484.4,366.4 487.3,366.8 490.7,367.2 494,367.6 496.7,368.2 499.3,368.7 501.8,369.1 504.1,369.7 506.3,370.3 508.7,370.8 510.5,371.6 511.8,372.7 513.8,373.4 516,374.1 517.5,375 518.6,376.1 519.7,377.1 520.4,378.2 520.9,379.3 521.6,380.4 521.6,381.5 521.6,382.7 522.5,383.8 523.2,384.9 523,386.1 523.5,387.5ZM530,436.2 530.8,438.5 532.5,440.4 532.3,442.1 531.2,443.6 531.5,445.2 531.5,446.9 529.7,448.1 527.7,449.1 525.7,450.2 523.5,451 521.9,452.1 520.3,453.2 517.7,453.8 514.9,454.2 512.8,455.1 510.2,455.6 507.3,455.8 504.9,456.6 502.5,457.5 499.1,457.4 495.7,457.3 492.4,457.6 488.8,457.9 484,458.1 479.7,458.3 476.5,457.9 473.6,457.4 470.6,457.5 467.9,457.3 466,456.2 463.9,455.5 461.4,455.2 459.3,454.6 457.3,453.9 454.9,453.5 453,452.7 451.7,451.6 450.2,450.7 448.8,449.6 447.6,448.5 445.8,447.5 444.6,446.3 445,444.6 445,443.1 443.4,441.8 442.5,440.3 442.7,438.5 442.4,436.2 442.3,434.6 442.9,433.3 443.2,432.2 443.7,431.1 444.8,430.2 445.5,429.2 445.7,428.2 447,427.4 448.3,426.6 448.9,425.6 450.3,424.8 453,424.5 455,424 456.3,423.1 458.2,422.5 460.4,422.1 462.8,421.8 465.5,421.6 468,421.3 470.3,420.7 473.2,420.5 476.4,420.6 479.7,420.5 484,420.4 488.8,420.8 492.4,421.1 496,420.9 499.1,421.1 502,421.5 505,421.7 507.8,422 510.4,422.3 513.1,422.7 514.9,423.4 516,424.4 518.1,424.9 520.8,425.2 522.1,426.1 522.7,427 524.1,427.8 525.2,428.6 525.9,429.5 527.4,430.3 528.6,431.3 529,432.3 529.7,433.4 530.2,434.6ZM522.2,256 518.5,261.5 514.8,267.1 511,272.6 507.2,278.2 503.5,283.7 499.7,289.2 495.9,294.8 492.2,300.3 488.4,305.8 484.6,311.4 480.8,316.9 477.1,322.5 473.3,328 469.5,333.5 465.8,339.1 462,344.6 458.2,350.2 454.5,355.7 450.8,361.2 447.1,366.8 443.4,372.3 439.7,377.8 436,383.4 432.3,388.9 428.6,394.5 425,400 421.3,405.5 417.6,411.1 413.9,416.6 410.2,422.2 407.1,427.7 403.6,433.2 400,438.8 396.5,444.3 393,449.8 389.4,455.4 385.8,460.9 382.1,466.5 378.4,472 383.6,472 387.3,466.5 391,460.9 395,455.4 399,449.8 403.1,444.3 407.6,438.8 412.1,433.2 416.6,427.7 421.5,422.2 425.9,416.6 430.2,411.1 434.6,405.5 438.4,400 442,394.5 445.7,388.9 449.4,383.4 453.1,377.8 456.8,372.3 460.5,366.8 464.2,361.2 467.9,355.7 471.6,350.2 475.2,344.6 478.8,339.1 482.4,333.5 486.1,328 489.7,322.5 493.3,316.9 496.9,311.4 500.5,305.8 504.1,300.3 507.8,294.8 511.4,289.2 515,283.7 518.6,278.2 522.2,272.6 525.9,267.1 529.5,261.5 533.2,256ZM522,456.3 523.8,455.1 525.6,453.9 527.4,452.6 529.2,450.7 531,448.4 532.8,446 534.6,443.7 536.4,441.6 538.2,439.4 540,438 541.8,436.7 543.6,435.7 545.4,434.7 547.2,433.2 548.9,431.9 550.7,430.8 552.5,429.9 554.3,428.4 556.1,427.1 557.9,425.9 559.7,425.1 561.5,423.6 563.3,422.3 565.1,421 566.9,420.2 568.7,418.8 570.5,417.5 572.3,416.1 574.1,415.3 575.9,413.9 577.7,412.7 579.5,411.2 581.3,410.5 583.1,409.1 584.9,407.9 586.7,406.3 588.5,405.6 590.3,404.3 592.1,403.2 593.9,401.5 595.7,400.6 597.5,399.5 599.3,398.4 601.1,396.7 602.8,395.7 604.6,394.6 606.4,393.6 608.2,391.9 610,390.8 611.8,389.8 613.6,388.7 615.4,387.2 617.2,385.9 619,384.9 620.8,383.9 622.6,382.4 624.4,381 626.2,380 628,379 628,391.2 626.2,392 624.4,393.5 622.6,394.7 620.8,396.1 619,396.8 617.2,398.3 615.4,399.5 613.6,401 611.8,401.7 610,403.1 608.2,404.3 606.4,405.9 604.6,406.6 602.8,407.9 601.1,409.1 599.3,410.7 597.5,411.5 595.7,412.7 593.9,413.8 592.1,415.5 590.3,416.4 588.5,417.5 586.7,418.6 584.9,420.3 583.1,421.3 581.3,422.4 579.5,423.5 577.7,425 575.9,426.2 574.1,427.3 572.3,428.3 570.5,429.8 568.7,431.1 566.9,432.1 565.1,433.2 563.3,434.5 561.5,436 559.7,437 557.9,438 556.1,439.3 554.3,440.8 552.5,441.9 550.7,442.9 548.9,444 547.2,445.7 545.4,446.7 543.6,447.8 541.8,448.8 540,450.5 538.2,451.6 536.4,451.8 534.6,451.6 532.8,452 531,452.1 529.2,452.2 527.4,452.6 525.6,453.9 523.8,455.1 522,456.3Z"/>
<path fill="#5cbc68" d="M521.5,388.8 520.9,390.8 520.6,392.5 520.6,394.2 519.9,395.6 518.5,396.7 517.5,397.9 516.8,399.2 516,400.4 515,401.6 513.8,402.6 512.2,403.3 510.8,404.2 509.3,405 507.3,405.2 505.2,405.3 503.5,405.9 501.7,406.5 499.7,406.7 497.7,407.1 495.7,407.6 493.4,407.7 490.9,407.5 488.3,407.4 485.1,407.2 481.7,406.9 478.8,406.6 476.4,405.7 474.3,404.7 471.9,404.3 469.5,403.8 467.5,402.9 465.7,401.9 463.8,401 462.3,399.9 461.1,398.5 460.1,397.2 459.2,395.9 458.3,394.6 457.2,393.3 456.3,392 455.8,390.6 454.8,389.3 454,387.8 454.2,386.3 454.5,384.7 454,383.1 453.5,381.3 453.8,379.3 454.2,377.8 454.7,376.7 455.1,375.6 455.1,374.5 455.4,373.4 456.4,372.6 457.4,371.8 458.3,371 460,370.5 461.9,370.2 463.1,369.6 464.4,369 466.1,368.6 467.8,368.3 469.3,367.8 471.1,367.4 473,367.2 475.2,367.2 477.5,367.4 479.8,367.6 482,367.4 484.5,367.5 487.3,368 490.5,368.5 493.7,368.8 496.2,369.3 498.6,369.7 501,370.1 503.2,370.6 505.2,371.3 507,372 508.7,372.8 510.4,373.5 512.5,374.1 514.4,374.8 515.6,375.8 517,376.6 518.8,377.4 519.7,378.5 520,379.6 520.3,380.6 520.7,381.7 521.1,382.8 521.5,383.8 521.7,385 521.5,386.1 521.5,387.3ZM524.6,436.2 524.3,438.2 524.3,439.7 524.4,441.2 524.1,442.5 523.5,443.8 522.4,444.9 520.7,445.8 519.5,446.8 519.2,448.1 517.9,449 515.7,449.6 514,450.4 512.7,451.3 511,452.1 509.2,452.9 507.4,453.6 505.1,454.2 502.7,454.6 500.3,455.1 497.5,455.3 494.6,455.5 491.7,456 488.4,456.2 484,455.9 479.9,455.9 476.6,456.2 473.7,455.9 471.2,455.2 468.9,454.6 466.6,454.2 464.2,453.9 461.7,453.7 459.7,453.1 458.2,452.2 456.2,451.6 454.1,451 452.8,450.1 451.5,449.2 449.8,448.3 449,447.2 448.9,445.9 448.2,444.7 447.1,443.6 446.4,442.4 445.7,441.1 445.4,439.7 445.3,438.2 444.6,436.2 443.8,434.6 444.5,433.5 445.5,432.4 445.4,431.4 445.5,430.3 446.4,429.4 447.3,428.5 448.3,427.7 450,427 451.7,426.4 453.3,425.8 455.1,425.3 456.8,424.8 458.6,424.3 461,424.1 463.3,423.9 465,423.3 466.7,422.6 469,422.3 471.5,422.1 474,421.7 476.8,421.4 479.9,421.3 484,421.2 488.3,421.4 491.6,421.5 494.7,421.4 497.7,421.5 500.3,421.8 503.1,421.9 505.7,422.2 507.7,422.8 509.5,423.4 511.9,423.7 514.2,424.1 515.7,424.8 517.1,425.6 518.2,426.4 519.4,427.1 521.2,427.8 522.6,428.5 522.7,429.5 523.2,430.5 524.2,431.4 524.3,432.4 523.9,433.6 524.3,434.7ZM522.5,256 518.8,261.5 515.1,267.1 511.3,272.6 507.5,278.2 503.8,283.7 500,289.2 496.2,294.8 492.5,300.3 488.7,305.8 484.9,311.4 481.1,316.9 477.4,322.5 473.6,328 469.8,333.5 466.1,339.1 462.3,344.6 458.5,350.2 454.8,355.7 451.1,361.2 447.4,366.8 443.7,372.3 440,377.8 436.3,383.4 432.6,388.9 428.9,394.5 425.3,400 421.6,405.5 417.9,411.1 414.2,416.6 410.5,422.2 407.4,427.7 403.9,433.2 400.3,438.8 396.8,444.3 393.3,449.8 389.7,455.4 386.1,460.9 382.4,466.5 378.7,472 383.6,472 387.3,466.5 391,460.9 394.7,455.4 398.7,449.8 402.8,444.3 407.3,438.8 411.8,433.2 416.3,427.7 421.2,422.2 425.6,416.6 429.9,411.1 434.3,405.5 438.1,400 441.7,394.5 445.4,388.9 449.1,383.4 452.8,377.8 456.5,372.3 460.2,366.8 463.9,361.2 467.6,355.7 471.3,350.2 474.9,344.6 478.5,339.1 482.1,333.5 485.8,328 489.4,322.5 493,316.9 496.6,311.4 500.2,305.8 503.8,300.3 507.5,294.8 511.1,289.2 514.7,283.7 518.3,278.2 521.9,272.6 525.6,267.1 529.2,261.5 532.9,256ZM522,456.3 523.8,455.1 525.6,453.9 527.4,452.6 529.2,451.4 531,449.4 532.8,447.3 534.6,445 536.4,442.7 538.2,440.5 540,438.9 541.8,437.5 543.6,436.1 545.4,434.9 547.2,434.1 548.9,432.7 550.7,431.4 552.5,430 554.3,429.2 556.1,427.9 557.9,426.6 559.7,425.1 561.5,424.3 563.3,423 565.1,421.9 566.9,420.2 568.7,419.4 570.5,418.2 572.3,417.1 574.1,415.4 575.9,414.5 577.7,413.3 579.5,412.3 581.3,410.6 583.1,409.6 584.9,408.5 586.7,407.5 588.5,405.8 590.3,404.7 592.1,403.6 593.9,402.7 595.7,401.1 597.5,399.9 599.3,398.7 601.1,397.8 602.8,396.3 604.6,395 606.4,393.9 608.2,393 610,391.6 611.8,390.1 613.6,389 615.4,388.1 617.2,386.8 619,385.3 620.8,384.1 622.6,383.1 624.4,382.1 626.2,380.5 628,379.3 628,390.2 626.2,391.8 624.4,393 622.6,394.1 620.8,395 619,396.6 617.2,397.8 615.4,399 613.6,399.8 611.8,401.4 610,402.6 608.2,403.9 606.4,404.6 604.6,406.2 602.8,407.4 601.1,408.8 599.3,409.5 597.5,411 595.7,412.2 593.9,413.7 592.1,414.4 590.3,415.8 588.5,417 586.7,418.5 584.9,419.3 583.1,420.6 581.3,421.8 579.5,423.4 577.7,424.2 575.9,425.4 574.1,426.6 572.3,428.2 570.5,429.1 568.7,430.2 566.9,431.4 565.1,432.9 563.3,434.1 561.5,435 559.7,436.2 557.9,437.7 556.1,439 554.3,439.9 552.5,441.1 550.7,442.5 548.9,443.9 547.2,444.7 545.4,445.9 543.6,447.2 541.8,448.7 540,449.6 538.2,450.1 536.4,450.3 534.6,450.7 532.8,450.8 531,451 529.2,451.4 527.4,452.6 525.6,453.9 523.8,455.1 522,456.3Z"/>
<path fill="#56b648" d="M517.8,387.2 517.6,388.7 517.3,390.1 517,391.3 516.4,392.5 515.4,393.5 514.5,394.4 514,395.5 513.3,396.6 512.2,397.5 511.2,398.4 510.1,399.3 508.7,399.9 507.3,400.6 506.1,401.4 504.6,402.1 502.9,402.5 501,402.7 499,402.6 497,402.6 495.1,402.8 493.2,403 491,402.8 488.9,402.7 486.3,402.7 483.7,402.4 481.4,402 479.3,401.5 477.2,401.1 475.2,400.5 473.3,400 471.4,399.4 469.8,398.6 468.2,397.8 466.8,396.9 465.7,395.9 464.5,394.9 463,394.1 461.8,393.1 461.4,391.9 460.9,390.7 460.2,389.6 459.5,388.5 458.6,387.4 457.9,386.3 457.5,385 457.1,383.7 456.7,382.3 456.9,380.8 457.3,379.7 457.3,378.6 457.5,377.7 458.2,376.8 458.7,375.9 459,375 459.9,374.2 461,373.6 462.3,373 463.5,372.4 464.6,371.8 465.8,371.1 467.5,370.8 469.6,370.8 471.3,370.5 473,370.2 474.8,370 476.7,369.9 478.5,369.7 480.6,369.7 482.7,369.8 484.9,369.9 487.2,370.1 489.7,370.3 492.2,370.5 494.4,370.7 496.5,371.1 498.5,371.4 500.6,371.6 502.3,372.2 503.8,373 505.4,373.5 507.1,374.1 508.5,374.8 509.8,375.5 510.8,376.3 511.7,377.1 512.8,377.9 514,378.7 515,379.5 516,380.3 517,381.2 517.3,382.1 517.2,383.1 517.6,384 518.1,385 518,386ZM520.5,436.2 521.1,437.8 521,439.1 520.8,440.2 521.1,441.4 521.1,442.6 520.1,443.5 518.7,444.3 517.5,445.1 516.6,446 515.8,447 514.3,447.7 512.2,448.1 510.2,448.5 508.6,449.1 506.7,449.6 504.5,449.9 502.5,450.3 500.4,450.6 498,450.7 495.5,450.7 493.1,450.9 490.5,451.1 487.7,451.3 484,451.4 480.3,451.3 477.4,451.3 474.6,451.5 472.1,451.2 470.1,450.6 468,450.3 465.6,450.2 463.3,450 461.3,449.6 459.3,449.2 457.6,448.6 456.1,448 454.5,447.4 453.1,446.6 451.8,445.9 450.3,445.2 449.6,444.3 449.5,443.2 449,442.2 447.7,441.3 447,440.3 446.9,439.1 446.7,437.8 446.3,436.2 446.1,434.8 446.3,433.7 447.1,432.7 448,431.8 448.2,430.9 448.4,430 449.4,429.2 450.5,428.5 451.5,427.8 453.1,427.2 455.1,426.8 456.6,426.3 457.9,425.7 459.5,425.2 461.6,424.8 463.8,424.6 465.9,424.4 467.7,423.9 469.6,423.4 472.1,423.3 474.7,423.2 477.3,423 480.2,422.8 484,423 487.7,423.2 490.6,423.2 493.2,423.3 495.7,423.5 498.2,423.6 500.5,423.7 502.7,424 504.8,424.3 506.4,424.9 507.9,425.4 510.2,425.6 512.4,425.9 513.6,426.6 514.5,427.3 515.8,428 517.1,428.6 518.2,429.3 519,430.1 519.5,431 519.9,431.9 520.4,432.8 520.4,433.8 520.2,434.8ZM523,256 519.3,261.5 515.6,267.1 511.8,272.6 508,278.2 504.2,283.7 500.5,289.2 496.7,294.8 492.9,300.3 489.1,305.8 485.4,311.4 481.6,316.9 477.8,322.5 474,328 470.3,333.5 466.5,339.1 462.7,344.6 458.9,350.2 455.2,355.7 451.5,361.2 447.8,366.8 444.1,372.3 440.4,377.8 436.7,383.4 433,388.9 429.3,394.5 425.7,400 422,405.5 418.3,411.1 414.6,416.6 410.9,422.2 407.8,427.7 404.3,433.2 400.8,438.8 397.3,444.3 393.8,449.8 390.2,455.4 386.6,460.9 382.9,466.5 379.2,472 383.6,472 387.3,466.5 391,460.9 394.7,455.4 398.4,449.8 402.4,444.3 406.9,438.8 411.4,433.2 415.9,427.7 420.8,422.2 425.2,416.6 429.5,411.1 433.9,405.5 437.7,400 441.3,394.5 445,388.9 448.7,383.4 452.4,377.8 456.1,372.3 459.8,366.8 463.5,361.2 467.2,355.7 470.9,350.2 474.5,344.6 478.1,339.1 481.7,333.5 485.3,328 488.9,322.5 492.5,316.9 496.2,311.4 499.8,305.8 503.4,300.3 507,294.8 510.6,289.2 514.2,283.7 517.8,278.2 521.4,272.6 525.1,267.1 528.7,261.5 532.4,256ZM522,456.3 523.8,455.1 525.6,453.9 527.4,452.6 529.2,451.4 531,450.2 532.8,448.1 534.6,446.2 536.4,444.1 538.2,442 540,439.7 541.8,438.4 543.6,437.2 545.4,436 547.2,434.4 548.9,433.5 550.7,432.3 552.5,431.2 554.3,429.5 556.1,428.6 557.9,427.4 559.7,426.4 561.5,424.7 563.3,423.7 565.1,422.5 566.9,421.6 568.7,419.9 570.5,418.9 572.3,417.7 574.1,416.8 575.9,415.2 577.7,414 579.5,412.8 581.3,412 583.1,410.4 584.9,409.1 586.7,407.9 588.5,407.1 590.3,405.7 592.1,404.3 593.9,403 595.7,402.2 597.5,400.9 599.3,399.5 601.1,398.2 602.8,397.3 604.6,396.1 606.4,394.7 608.2,393.4 610,392.3 611.8,391.3 613.6,389.9 615.4,388.5 617.2,387.4 619,386.5 620.8,385.1 622.6,383.7 624.4,382.5 626.2,381.7 628,380.3 628,389.9 626.2,390.8 624.4,391.9 622.6,393.2 620.8,394.7 619,395.7 617.2,396.8 615.4,397.9 613.6,399.6 611.8,400.5 610,401.7 608.2,402.7 606.4,404.4 604.6,405.4 602.8,406.6 601.1,407.5 599.3,409.2 597.5,410.3 595.7,411.5 593.9,412.3 592.1,413.9 590.3,415.1 588.5,416.4 586.7,417.1 584.9,418.7 583.1,419.9 581.3,421.3 579.5,422 577.7,423.5 575.9,424.8 574.1,426.1 572.3,426.9 570.5,428.2 568.7,429.6 566.9,431 565.1,431.8 563.3,433 561.5,434.4 559.7,435.8 557.9,436.7 556.1,437.8 554.3,439.2 552.5,440.6 550.7,441.7 548.9,442.6 547.2,444 545.4,445.4 543.6,446.6 541.8,447.5 540,448.3 538.2,448.8 536.4,449.2 534.6,449.4 532.8,449.8 531,450.2 529.2,451.4 527.4,452.6 525.6,453.9 523.8,455.1 522,456.3Z"/>
<path fill="#8ac640" d="M510.8,384 510.7,385 510.9,386.1 510.6,387.1 510.1,388 509.5,389 508.8,390 507.7,390.8 505.9,391.4 504.6,392 503.4,392.8 501.7,393.3 500.2,393.8 498.5,394.2 496.5,394.3 494.7,394.6 493,394.9 491.1,395 489.2,394.9 487.3,394.7 485.5,394.8 483.5,394.8 481.7,394.3 479.8,394.1 478,393.8 476.3,393.1 474.7,392.5 473.1,391.9 471.5,391.3 469.8,390.7 468.3,389.9 466.8,389.2 466,388.2 465.6,387.1 464.4,386.2 463.6,385.2 463.7,384.2 463.6,383.1 463.4,382.1 463,381.1 463,380.2 463.2,379.3 463.2,378.4 463.7,377.5 464.5,376.7 464.8,375.8 465.7,375 466.8,374.3 467.6,373.5 469,372.8 470.8,372.5 472.7,372.2 474.4,371.9 475.8,371.4 477.7,371.2 479.7,371.2 481.4,370.9 483.3,370.8 485.2,370.8 487.1,370.8 489,371 490.9,371.4 492.7,371.8 494.5,372.1 496.3,372.5 497.9,373.1 499.5,373.6 501.4,374 502.5,374.8 503.5,375.7 505,376.3 506.3,377 507.6,377.8 508.5,378.6 509.2,379.5 510,380.3 510.4,381.3 511,382.2 511.4,383.1ZM516.3,436.7 516.5,437.8 516.2,438.7 515,439.5 514.3,440.2 514.3,441 513.7,441.8 512.7,442.4 511.9,443.1 510.6,443.6 508.6,443.9 507.3,444.4 506.3,445 504.8,445.4 503,445.7 501.4,446 499.5,446.3 497.8,446.6 496.3,447.1 494.4,447.3 492.3,447.4 490.3,447.8 488.2,448.2 485.6,448.2 482.5,448.1 479.4,448.1 477,447.9 474.8,447.7 472.5,447.7 470.3,447.6 468.3,447.4 466.4,447.1 464.7,446.7 463.3,446.2 461.4,445.9 459.2,445.8 457.8,445.3 456.9,444.7 455.5,444.2 454.1,443.7 453.2,443 452,442.4 451.1,441.8 450.7,441 450,440.3 449.3,439.5 449.6,438.7 450,437.8 449.8,436.7 450.3,435.6 450.8,434.8 450.3,433.9 450.1,433.1 451.1,432.4 452.3,431.8 453.2,431.2 454.2,430.6 454.8,429.9 455.5,429.2 457,428.8 458.7,428.4 459.8,427.8 461.1,427.3 462.9,427 464.4,426.5 465.9,426 468,425.8 470.2,425.7 472.3,425.5 474.6,425.4 477,425.5 479.5,425.5 482.5,425.6 485.5,425.7 488,425.5 490.3,425.6 492.2,426.1 493.9,426.5 496,426.6 498,426.7 499.9,426.9 501.9,427.1 503.6,427.4 505.1,427.9 506.8,428.2 508.6,428.6 509.9,429.1 511.4,429.6 512.7,430.2 513,431 513.4,431.7 514.5,432.3 515,433.1 514.8,433.9 515.2,434.7 516,435.6ZM524.5,256 520.8,261.5 517.1,267.1 513.4,272.6 509.7,278.2 506,283.7 502.3,289.2 498.6,294.8 494.9,300.3 491.3,305.8 487.6,311.4 483.9,316.9 480.2,322.5 476.5,328 472.8,333.5 469.1,339.1 465.4,344.6 461.3,350.2 456.8,355.7 452.9,361.2 449.2,366.8 445.5,372.3 441.8,377.8 438.1,383.4 434.4,388.9 430.7,394.5 427.1,400 423.4,405.5 419.7,411.1 416,416.6 412.7,422.2 410,427.7 406.4,433.2 402.7,438.8 399,444.3 395.4,449.8 391.7,455.4 388.1,460.9 384.4,466.5 380.7,472 383.6,472 387.3,466.5 391,460.9 394.7,455.4 398.4,449.8 402.1,444.3 405.8,438.8 409.5,433.2 413.7,427.7 419.1,422.2 423.8,416.6 428.1,411.1 432.5,405.5 436.3,400 439.9,394.5 443.6,388.9 447.3,383.4 451,377.8 454.7,372.3 458.4,366.8 462.1,361.2 465.6,355.7 468.5,350.2 471.8,344.6 475.5,339.1 479.2,333.5 482.9,328 486.6,322.5 490.3,316.9 494,311.4 497.7,305.8 501.3,300.3 505,294.8 508.7,289.2 512.4,283.7 516.1,278.2 519.8,272.6 523.5,267.1 527.2,261.5 530.9,256ZM522,456.3 523.8,455.1 525.6,453.9 527.4,452.6 529.2,451.4 531,450.2 532.8,449 534.6,447.8 536.4,446.3 538.2,444.8 540,443.4 541.8,441.5 543.6,440.1 545.4,438.6 547.2,437.7 548.9,436.1 550.7,434.9 552.5,433.7 554.3,432.9 556.1,431.3 557.9,430.1 559.7,428.8 561.5,428.1 563.3,426.5 565.1,425.3 566.9,423.9 568.7,423.2 570.5,421.7 572.3,420.5 574.1,419.1 575.9,418.3 577.7,417 579.5,415.7 581.3,414.2 583.1,413.4 584.9,412.2 586.7,410.9 588.5,409.4 590.3,408.5 592.1,407.4 593.9,406 595.7,404.6 597.5,403.5 599.3,402.6 601.1,401.2 602.8,399.8 604.6,398.6 606.4,397.7 608.2,396.4 610,395 611.8,393.7 613.6,392.9 615.4,391.6 617.2,390.3 619,388.8 620.8,388 622.6,386.8 624.4,385.5 626.2,383.9 628,383.1 628,386.7 626.2,387.9 624.4,389.4 622.6,390.6 620.8,391.5 619,392.8 617.2,394.2 615.4,395.5 613.6,396.4 611.8,397.6 610,398.9 608.2,400.4 606.4,401.2 604.6,402.4 602.8,403.7 601.1,405.3 599.3,406.1 597.5,407.3 595.7,408.4 593.9,410.1 592.1,411 590.3,412.2 588.5,413.2 586.7,414.9 584.9,415.9 583.1,417.1 581.3,418 579.5,419.7 577.7,420.8 575.9,421.9 574.1,422.8 572.3,424.5 570.5,425.6 568.7,426.8 566.9,427.6 565.1,429.2 563.3,430.5 561.5,431.7 559.7,432.5 557.9,434 556.1,435.3 554.3,436.6 552.5,437.4 550.7,438.7 548.9,440.1 547.2,441.4 545.4,442.3 543.6,443.2 541.8,444.3 540,445.2 538.2,446 536.4,446.8 534.6,447.8 532.8,449 531,450.2 529.2,451.4 527.4,452.6 525.6,453.9 523.8,455.1 522,456.3Z"/>
<path fill="#f0e838" d="M501,436.3 501.1,436.9 500.5,437.4 499.1,437.9 497,438.2 496.9,438.8 496.8,439.4 495.4,439.8 494.3,440.3 492.2,440.6 490.7,441 488.6,441.2 486.6,441.5 484.3,441.6 482.2,441.8 479.8,441.8 477.5,441.9 475.1,442 473,441.6 470.8,441.5 468.5,441.5 465.9,441.5 464.1,441.1 462.4,440.7 461.3,440.2 459.2,439.9 457.6,439.5 456.6,439 454.7,438.6 453.8,438 453.2,437.5 452.9,436.9 452.5,436.3 454.2,435.8 454.5,435.2 455.2,434.7 455.7,434.1 457.1,433.7 459.6,433.4 461,433.1 462,432.6 463.3,432.2 465.4,432 466.7,431.5 468.9,431.3 470.8,431.1 472.9,430.8 475.2,430.7 477.5,430.6 479.9,430.5 482.4,430.5 484.9,430.5 487.2,430.8 488.4,431.5 490.6,431.7 492.6,431.9 494.4,432.3 495.8,432.7 497.5,433.1 498.7,433.6 499.8,434.1 501.1,434.6 501.1,435.2 501.9,435.7ZM525.2,256 521.5,261.5 517.8,267.1 514.1,272.6 510.4,278.2 506.7,283.7 503,289.2 499.3,294.8 495.6,300.3 492,305.8 488.3,311.4 484.6,316.9 480.9,322.5 477.2,328 473.5,333.5 469.8,339.1 466.1,344.6 461.9,350.2 457.2,355.7 453.3,361.2 449.6,366.8 445.9,372.3 442.2,377.8 438.5,383.4 434.8,388.9 431.1,394.5 427.5,400 423.8,405.5 420.1,411.1 416.4,416.6 413.1,422.2 410.7,427.7 407.1,433.2 403.4,438.8 399.7,444.3 396.1,449.8 392.4,455.4 388.8,460.9 385.1,466.5 381.4,472 383.6,472 387.3,466.5 391,460.9 394.7,455.4 398.4,449.8 402.1,444.3 405.8,438.8 409.5,433.2 413.2,427.7 418.6,422.2 423.4,416.6 427.7,411.1 432.1,405.5 435.9,400 439.5,394.5 443.2,388.9 446.9,383.4 450.6,377.8 454.3,372.3 458,366.8 461.7,361.2 465.2,355.7 467.9,350.2 471.1,344.6 474.8,339.1 478.5,333.5 482.2,328 485.9,322.5 489.6,316.9 493.3,311.4 497,305.8 500.6,300.3 504.3,294.8 508,289.2 511.7,283.7 515.4,278.2 519.1,272.6 522.8,267.1 526.5,261.5 530.2,256Z"/>
<path fill="#f08030" d="M492.9,436.5 492.7,437.7 491.8,438.3 491.3,439 490.5,439.6 489.2,440.1 487.4,440.2 484.8,440 482.5,439.8 480.8,439.8 479.4,439.5 478.2,439.1 477.9,438.3 477.1,437.6 477,436.5 477.3,435.4 477.7,434.6 478.6,434.1 479.4,433.5 480.5,433 482.3,432.8 484.8,432.9 487.2,433 488.9,433.2 490.2,433.5 490.9,434.1 491.9,434.6 492.3,435.4ZM461.2,433.9 461.2,434.2 461,434.4 460.5,434.6 460.1,434.8 459.6,435 459,435.1 458.4,435.1 457.8,435.1 457.2,435 456.6,434.9 456.2,434.7 455.9,434.4 455.6,434.2 455.5,433.9 455.6,433.6 455.9,433.4 456.3,433.2 456.7,433 457.2,432.8 457.8,432.7 458.4,432.7 459,432.7 459.6,432.8 460.2,432.9 460.6,433.2 460.9,433.4 461.1,433.6ZM526.6,256 522.9,261.5 519.2,267.1 515.5,272.6 511.8,278.2 508.1,283.7 504.4,289.2 500.7,294.8 497,300.3 493.4,305.8 489.7,311.4 486,316.9 482.3,322.5 478.6,328 474.9,333.5 471.2,339.1 467.5,344.6 463,350.2 457.9,355.7 453.9,361.2 450.2,366.8 446.5,372.3 442.8,377.8 439.1,383.4 435.4,388.9 431.7,394.5 428.1,400 424.4,405.5 420.7,411.1 417,416.6 414,422.2 412,427.7 408.5,433.2 404.8,438.8 401.1,444.3 397.5,449.8 393.8,455.4 390.2,460.9 386.5,466.5 382.8,472 383.6,472 387.3,466.5 391,460.9 394.7,455.4 398.4,449.8 402.1,444.3 405.8,438.8 409.5,433.2 413.2,427.7 417.8,422.2 422.8,416.6 427.1,411.1 431.5,405.5 435.3,400 438.9,394.5 442.6,388.9 446.3,383.4 450,377.8 453.7,372.3 457.4,366.8 461.1,361.2 464.5,355.7 466.8,350.2 469.7,344.6 473.4,339.1 477.1,333.5 480.8,328 484.5,322.5 488.2,316.9 491.9,311.4 495.6,305.8 499.2,300.3 502.9,294.8 506.6,289.2 510.3,283.7 514,278.2 517.7,272.6 521.4,267.1 525.1,261.5 528.8,256Z"/>
<path fill="#e82828" d="M459.5,433.9 459.5,434.1 459.3,434.2 459.2,434.3 458.9,434.4 458.6,434.5 458.3,434.6 458,434.6 457.7,434.6 457.3,434.6 457.1,434.5 456.8,434.3 456.7,434.2 456.5,434.1 456.5,433.9 456.5,433.7 456.6,433.6 456.8,433.5 457.1,433.4 457.4,433.3 457.7,433.2 458,433.2 458.3,433.2 458.7,433.3 458.9,433.3 459.2,433.5 459.4,433.6 459.5,433.7ZM527.7,256 524,261.5 520.3,267.1 516.6,272.6 512.9,278.2 509.2,283.7 505.5,289.2 501.8,294.8 498.1,300.3 494.5,305.8 490.8,311.4 487.1,316.9 483.4,322.5 479.7,328 476,333.5 472.3,339.1 468.6,344.6 463.9,350.2 458.4,355.7 454.3,361.2 450.6,366.8 446.9,372.3 443.2,377.8 439.5,383.4 435.8,388.9 432.1,394.5 428.5,400 424.8,405.5 421.1,411.1 417.4,416.6 414.6,422.2 413.1,427.7 409.5,433.2 405.8,438.8 402.1,444.3 398.4,449.8 394.7,455.4 391,460.9 387.3,466.5 383.6,472 383.6,472 387.3,466.5 391,460.9 394.7,455.4 398.4,449.8 402.1,444.3 405.8,438.8 409.5,433.2 413.2,427.7 417.2,422.2 422.4,416.6 426.7,411.1 431.1,405.5 434.9,400 438.5,394.5 442.2,388.9 445.9,383.4 449.6,377.8 453.3,372.3 457,366.8 460.7,361.2 464,355.7 465.9,350.2 468.6,344.6 472.3,339.1 476,333.5 479.7,328 483.4,322.5 487.1,316.9 490.8,311.4 494.5,305.8 498.1,300.3 501.8,294.8 505.5,289.2 509.2,283.7 512.9,278.2 516.6,272.6 520.3,267.1 524,261.5 527.7,256Z"/>
<path fill="#ffffff" d="M527.7,256 524,261.5 520.3,267.1 516.6,272.6 512.9,278.2 509.2,283.7 505.5,289.2 501.8,294.8 498.1,300.3 494.5,305.8 490.8,311.4 487.1,316.9 483.4,322.5 479.7,328 476,333.5 472.3,339.1 468.6,344.6 464.1,350.2 458.9,355.7 454.8,361.2 451.1,366.8 447.4,372.3 443.7,377.8 440,383.4 436.3,388.9 432.6,394.5 429,400 425.3,405.5 421.6,411.1 417.9,416.6 414.9,422.2 413.1,427.7 409.5,433.2 405.8,438.8 402.1,444.3 398.4,449.8 394.7,455.4 391,460.9 387.3,466.5 383.6,472 383.6,472 387.3,466.5 391,460.9 394.7,455.4 398.4,449.8 402.1,444.3 405.8,438.8 409.5,433.2 413.2,427.7 416.9,422.2 421.9,416.6 426.2,411.1 430.6,405.5 434.4,400 438,394.5 441.7,388.9 445.4,383.4 449.1,377.8 452.8,372.3 456.5,366.8 460.2,361.2 463.6,355.7 465.8,350.2 468.6,344.6 472.3,339.1 476,333.5 479.7,328 483.4,322.5 487.1,316.9 490.8,311.4 494.5,305.8 498.1,300.3 501.8,294.8 505.5,289.2 509.2,283.7 512.9,278.2 516.6,272.6 520.3,267.1 524,261.5 527.7,256Z"/>
<ellipse cx="519.7" cy="268" rx="1.7" ry="0.8" fill="#e82828" transform="rotate(-8 519.7 268)"/>
<ellipse cx="518.6" cy="269.7" rx="1.2" ry="1.1" fill="#fff" transform="rotate(33 518.6 269.7)"/>
<ellipse cx="517.4" cy="271.5" rx="1.7" ry="0.8" fill="#e82828" transform="rotate(-8 517.4 271.5)"/>
<ellipse cx="516.2" cy="273.2" rx="1.2" ry="1.1" fill="#fff" transform="rotate(33 516.2 273.2)"/>
<ellipse cx="515" cy="275" rx="1.7" ry="0.8" fill="#e82828" transform="rotate(-8 515 275)"/>
<ellipse cx="513.9" cy="276.7" rx="1.2" ry="1.1" fill="#fff" transform="rotate(33 513.9 276.7)"/>
<ellipse cx="512.7" cy="278.5" rx="1.7" ry="0.8" fill="#e82828" transform="rotate(-8 512.7 278.5)"/>
<ellipse cx="511.6" cy="280.2" rx="1.2" ry="1.1" fill="#fff" transform="rotate(33 511.6 280.2)"/>
<ellipse cx="510.4" cy="282" rx="1.7" ry="0.8" fill="#e82828" transform="rotate(-8 510.4 282)"/>
<ellipse cx="509.2" cy="283.7" rx="1.2" ry="1.1" fill="#fff" transform="rotate(33 509.2 283.7)"/>
<ellipse cx="508" cy="285.5" rx="1.7" ry="0.8" fill="#e82828" transform="rotate(-8 508 285.5)"/>
<ellipse cx="506.9" cy="287.2" rx="1.2" ry="1.1" fill="#fff" transform="rotate(33 506.9 287.2)"/>
<ellipse cx="505.7" cy="289" rx="1.7" ry="0.8" fill="#e82828" transform="rotate(-8 505.7 289)"/>
<ellipse cx="504.6" cy="290.7" rx="1.2" ry="1.1" fill="#fff" transform="rotate(33 504.6 290.7)"/>
<ellipse cx="503.4" cy="292.5" rx="1.7" ry="0.8" fill="#e82828" transform="rotate(-8 503.4 292.5)"/>
<ellipse cx="502.2" cy="294.2" rx="1.2" ry="1.1" fill="#fff" transform="rotate(33 502.2 294.2)"/>
<ellipse cx="501" cy="296" rx="1.7" ry="0.8" fill="#e82828" transform="rotate(-8 501 296)"/>
<ellipse cx="499.9" cy="297.7" rx="1.2" ry="1.1" fill="#fff" transform="rotate(33 499.9 297.7)"/>
<ellipse cx="498.7" cy="299.5" rx="1.7" ry="0.8" fill="#e82828" transform="rotate(-8 498.7 299.5)"/>
<ellipse cx="497.6" cy="301.2" rx="1.2" ry="1.1" fill="#fff" transform="rotate(33 497.6 301.2)"/>
<ellipse cx="496.4" cy="303" rx="1.7" ry="0.8" fill="#e82828" transform="rotate(-8 496.4 303)"/>
<ellipse cx="495.2" cy="304.7" rx="1.2" ry="1.1" fill="#fff" transform="rotate(33 495.2 304.7)"/>
<ellipse cx="494" cy="306.5" rx="1.7" ry="0.8" fill="#e82828" transform="rotate(-8 494 306.5)"/>
<ellipse cx="492.9" cy="308.2" rx="1.2" ry="1.1" fill="#fff" transform="rotate(33 492.9 308.2)"/>
<ellipse cx="491.7" cy="310" rx="1.7" ry="0.8" fill="#e82828" transform="rotate(-8 491.7 310)"/>
<ellipse cx="490.6" cy="311.7" rx="1.2" ry="1.1" fill="#fff" transform="rotate(33 490.6 311.7)"/>
<ellipse cx="489.4" cy="313.5" rx="1.7" ry="0.8" fill="#e82828" transform="rotate(-8 489.4 313.5)"/>
<ellipse cx="488.2" cy="315.2" rx="1.2" ry="1.1" fill="#fff" transform="rotate(33 488.2 315.2)"/>
<ellipse cx="487" cy="317" rx="1.7" ry="0.8" fill="#e82828" transform="rotate(-8 487 317)"/>
<ellipse cx="485.9" cy="318.7" rx="1.2" ry="1.1" fill="#fff" transform="rotate(33 485.9 318.7)"/>
<ellipse cx="484.7" cy="320.5" rx="1.7" ry="0.8" fill="#e82828" transform="rotate(-8 484.7 320.5)"/>
<ellipse cx="483.5" cy="322.2" rx="1.2" ry="1.1" fill="#fff" transform="rotate(33 483.5 322.2)"/>
<ellipse cx="482.3" cy="324" rx="1.7" ry="0.8" fill="#e82828" transform="rotate(-8 482.3 324)"/>
<ellipse cx="481.2" cy="325.7" rx="1.2" ry="1.1" fill="#fff" transform="rotate(33 481.2 325.7)"/>
<ellipse cx="480" cy="327.5" rx="1.7" ry="0.8" fill="#e82828" transform="rotate(-8 480 327.5)"/>
<ellipse cx="478.9" cy="329.2" rx="1.2" ry="1.1" fill="#fff" transform="rotate(33 478.9 329.2)"/>
<ellipse cx="477.7" cy="331" rx="1.7" ry="0.8" fill="#e82828" transform="rotate(-8 477.7 331)"/>
<ellipse cx="476.5" cy="332.7" rx="1.2" ry="1.1" fill="#fff" transform="rotate(33 476.5 332.7)"/>
<ellipse cx="475.3" cy="334.5" rx="1.7" ry="0.8" fill="#e82828" transform="rotate(-8 475.3 334.5)"/>
<ellipse cx="474.2" cy="336.2" rx="1.2" ry="1.1" fill="#fff" transform="rotate(33 474.2 336.2)"/>
<ellipse cx="473" cy="338" rx="1.7" ry="0.8" fill="#e82828" transform="rotate(-8 473 338)"/>
<ellipse cx="471.9" cy="339.7" rx="1.2" ry="1.1" fill="#fff" transform="rotate(33 471.9 339.7)"/>
<ellipse cx="470.7" cy="341.5" rx="1.7" ry="0.8" fill="#e82828" transform="rotate(-8 470.7 341.5)"/>
<ellipse cx="469.5" cy="343.2" rx="1.2" ry="1.1" fill="#fff" transform="rotate(33 469.5 343.2)"/>
<ellipse cx="468.3" cy="345" rx="1.7" ry="0.8" fill="#e82828" transform="rotate(-8 468.3 345)"/>
<ellipse cx="467.2" cy="346.7" rx="1.2" ry="1.1" fill="#fff" transform="rotate(33 467.2 346.7)"/>
<ellipse cx="466" cy="348.5" rx="1.7" ry="0.8" fill="#e82828" transform="rotate(-8 466 348.5)"/>
<ellipse cx="464.9" cy="350.2" rx="1.2" ry="1.1" fill="#fff" transform="rotate(33 464.9 350.2)"/>
<ellipse cx="433" cy="398" rx="2.6" ry="0.7" fill="#e82828" transform="rotate(-10 433 398)"/>
<ellipse cx="423.7" cy="412" rx="2.6" ry="0.7" fill="#e82828" transform="rotate(-10 423.7 412)"/>
<ellipse cx="413.5" cy="426" rx="1.6" ry="0.9" fill="#e82828" transform="rotate(-8 413.5 426)"/>
<ellipse cx="412.2" cy="428" rx="1.1" ry="1" fill="#fff" transform="rotate(33 412.2 428)"/>
<ellipse cx="410.8" cy="430" rx="1.6" ry="0.9" fill="#e82828" transform="rotate(-8 410.8 430)"/>
<ellipse cx="409.5" cy="432" rx="1.1" ry="1" fill="#fff" transform="rotate(33 409.5 432)"/>
<ellipse cx="408.2" cy="434" rx="1.6" ry="0.9" fill="#e82828" transform="rotate(-8 408.2 434)"/>
<ellipse cx="406.8" cy="436" rx="1.1" ry="1" fill="#fff" transform="rotate(33 406.8 436)"/>
<ellipse cx="548.1" cy="438.7" rx="2.6" ry="1.8" fill="#f0e838" transform="rotate(-36 548.1 438.7)"/>
<ellipse cx="548.1" cy="438.7" rx="1.5" ry="1" fill="#f08030" transform="rotate(-36 548.1 438.7)"/>
<ellipse cx="548.1" cy="438.7" rx="0.9" ry="0.6" fill="#e82828" transform="rotate(-36 548.1 438.7)"/>
<ellipse cx="555.2" cy="433.9" rx="2.6" ry="1.8" fill="#f0e838" transform="rotate(-36 555.2 433.9)"/>
<ellipse cx="555.2" cy="433.9" rx="1.5" ry="1" fill="#f08030" transform="rotate(-36 555.2 433.9)"/>
<ellipse cx="555.2" cy="433.9" rx="0.9" ry="0.6" fill="#e82828" transform="rotate(-36 555.2 433.9)"/>
<ellipse cx="562.3" cy="429.2" rx="2.6" ry="1.8" fill="#f0e838" transform="rotate(-36 562.3 429.2)"/>
<ellipse cx="562.3" cy="429.2" rx="1.5" ry="1" fill="#f08030" transform="rotate(-36 562.3 429.2)"/>
<ellipse cx="562.3" cy="429.2" rx="0.9" ry="0.6" fill="#e82828" transform="rotate(-36 562.3 429.2)"/>
<ellipse cx="583.6" cy="414.8" rx="2.6" ry="1.8" fill="#f0e838" transform="rotate(-36 583.6 414.8)"/>
<ellipse cx="583.6" cy="414.8" rx="1.5" ry="1" fill="#f08030" transform="rotate(-36 583.6 414.8)"/>
<ellipse cx="583.6" cy="414.8" rx="0.9" ry="0.6" fill="#e82828" transform="rotate(-36 583.6 414.8)"/>
<ellipse cx="589.3" cy="411" rx="2.6" ry="1.8" fill="#f0e838" transform="rotate(-36 589.3 411)"/>
<ellipse cx="589.3" cy="411" rx="1.5" ry="1" fill="#f08030" transform="rotate(-36 589.3 411)"/>
<ellipse cx="589.3" cy="411" rx="0.9" ry="0.6" fill="#e82828" transform="rotate(-36 589.3 411)"/>
<ellipse cx="596.4" cy="406.2" rx="2.6" ry="1.8" fill="#f0e838" transform="rotate(-36 596.4 406.2)"/>
<ellipse cx="596.4" cy="406.2" rx="1.5" ry="1" fill="#f08030" transform="rotate(-36 596.4 406.2)"/>
<ellipse cx="596.4" cy="406.2" rx="0.9" ry="0.6" fill="#e82828" transform="rotate(-36 596.4 406.2)"/>
<ellipse cx="603.5" cy="401.4" rx="2.6" ry="1.8" fill="#f0e838" transform="rotate(-36 603.5 401.4)"/>
<ellipse cx="603.5" cy="401.4" rx="1.5" ry="1" fill="#f08030" transform="rotate(-36 603.5 401.4)"/>
<ellipse cx="603.5" cy="401.4" rx="0.9" ry="0.6" fill="#e82828" transform="rotate(-36 603.5 401.4)"/>
<ellipse cx="610.7" cy="396.6" rx="2.6" ry="1.8" fill="#f0e838" transform="rotate(-36 610.7 396.6)"/>
<ellipse cx="610.7" cy="396.6" rx="1.5" ry="1" fill="#f08030" transform="rotate(-36 610.7 396.6)"/>
<ellipse cx="610.7" cy="396.6" rx="0.9" ry="0.6" fill="#e82828" transform="rotate(-36 610.7 396.6)"/>
<ellipse cx="571.4" cy="423" rx="4.6" ry="1.9" fill="#f0e838" transform="rotate(-36 571.4 423)"/>
<ellipse cx="571.4" cy="423" rx="3.4" ry="1.1" fill="#e82828" transform="rotate(-36 571.4 423)"/>
<rect x="400.7" y="458.9" width="223.4" height="0.6" fill="#50c0e0"/>
<rect x="400.7" y="459.5" width="223.4" height="0.7" fill="#56b648"/>
<rect x="400.7" y="460.2" width="223.4" height="1.3" fill="#f0d890"/>
<rect x="400.7" y="461.5" width="223.4" height="1.7" fill="#fffdf2"/>
<path d="M450,460.6 Q460,458.6 470,460.6 Z" fill="#f08030"/>
<ellipse cx="522.3" cy="457.8" rx="3.8" ry="2.4" fill="#0a0a14"/>
<rect x="400.7" y="264.1" width="1.5" height="199.1" fill="#98b078"/>
<rect x="400.7" y="264.1" width="223.4" height="0.7" fill="#18244c"/>
</g>
<path d="M400.3,263.7V463.5H624.4" stroke="#111" stroke-width="1.1" fill="none"/>
<path d="M400.4,463.5h-4.8M400.4,454.5h-2M400.4,444.6h-4.8M400.4,434.6h-2M400.4,424.6h-4.8M400.4,414.6h-2M400.4,404.6h-4.8M400.4,394.7h-2M400.4,384.7h-4.8M400.4,374.7h-2M400.4,364.8h-4.8M400.4,354.8h-2M400.4,344.8h-4.8M400.4,334.8h-2M400.4,324.9h-4.8M400.4,314.9h-2M400.4,304.9h-4.8M400.4,294.9h-2M400.4,284.9h-4.8M400.4,275h-2M400.4,265h-4.8M407.5,463.5v1.6M414.2,463.5v1.6M421,463.5v3.2M427.8,463.5v1.6M434.5,463.5v1.6M441.3,463.5v1.6M448.1,463.5v1.6M454.9,463.5v3.2M461.6,463.5v1.6M468.4,463.5v1.6M475.2,463.5v1.6M481.9,463.5v1.6M488.7,463.5v3.2M495.5,463.5v1.6M502.2,463.5v1.6M509,463.5v1.6M515.8,463.5v1.6M522.6,463.5v3.2M529.3,463.5v1.6M536.1,463.5v1.6M542.9,463.5v1.6M549.6,463.5v1.6M556.4,463.5v3.2M563.2,463.5v1.6M569.9,463.5v1.6M576.7,463.5v1.6M583.5,463.5v1.6M590.3,463.5v3.2M597,463.5v1.6M603.8,463.5v1.6M610.6,463.5v1.6M617.3,463.5v1.6M624.1,463.5v3.2" stroke="#111" stroke-width="0.9" fill="none"/>
<g class="t">
<text x="396.9" y="467.9" text-anchor="end">200</text>
<text x="396.9" y="447.9" text-anchor="end">220</text>
<text x="396.9" y="428" text-anchor="end">240</text>
<text x="396.9" y="408" text-anchor="end">260</text>
<text x="396.9" y="388.1" text-anchor="end">280</text>
<text x="396.9" y="368.1" text-anchor="end">300</text>
<text x="396.9" y="348.2" text-anchor="end">320</text>
<text x="396.9" y="328.2" text-anchor="end">340</text>
<text x="396.9" y="308.3" text-anchor="end">360</text>
<text x="396.9" y="288.3" text-anchor="end">380</text>
<text x="396.9" y="268.4" text-anchor="end">400</text>
<text x="422.4" y="475.5" text-anchor="middle">250</text>
<text x="457.1" y="475.5" text-anchor="middle">300</text>
<text x="492.1" y="475.5" text-anchor="middle">350</text>
<text x="526.4" y="475.5" text-anchor="middle">400</text>
<text x="559.6" y="475.5" text-anchor="middle">450</text>
<text x="593.6" y="475.5" text-anchor="middle">500</text>
<text x="626.8" y="475.5" text-anchor="middle">550</text>
<text x="511.9" y="490.2" text-anchor="middle" font-size="11.2">λ<tspan font-size="7.6" dy="2">em</tspan><tspan dy="-2">/nm</tspan></text>
<text transform="translate(373.2,365.6) rotate(-90)" text-anchor="middle">λ<tspan font-size="7.5" dy="2">ex</tspan><tspan dy="-2">/nm</tspan></text>
</g>
<rect x="411" y="280.1" width="62.8" height="32.1" fill="#fff"/><text class="t" font-size="11.5" x="421" y="298.6">0.01 g·g<tspan font-size="7.8" dy="-4.2">−1</tspan></text>
<rect x="638.9" y="267.2" width="25" height="17.2" fill="#050505"/>
<rect x="638.9" y="284.1" width="25" height="17.2" fill="#1f50ae"/>
<rect x="638.9" y="301" width="25" height="17.2" fill="#2878c0"/>
<rect x="638.9" y="317.9" width="25" height="17.2" fill="#50c0e0"/>
<rect x="638.9" y="334.8" width="25" height="17.2" fill="#54c09e"/>
<rect x="638.9" y="351.7" width="25" height="17.2" fill="#5cbc68"/>
<rect x="638.9" y="368.7" width="25" height="17.2" fill="#56b648"/>
<rect x="638.9" y="385.6" width="25" height="17.2" fill="#8ac640"/>
<rect x="638.9" y="402.5" width="25" height="17.2" fill="#f0e838"/>
<rect x="638.9" y="419.4" width="25" height="17.2" fill="#f08030"/>
<rect x="638.9" y="436.3" width="25" height="16.9" fill="#e82828"/>
<g class="t" font-size="11.3">
<text x="665.3" y="287.6">0</text>
<text x="665.3" y="304.5">10.00</text>
<text x="665.3" y="321.4">20.00</text>
<text x="665.3" y="338.3">30.00</text>
<text x="665.3" y="355.2">40.00</text>
<text x="665.3" y="372.2">50.00</text>
<text x="665.3" y="389.1">60.00</text>
<text x="665.3" y="406">70.00</text>
<text x="665.3" y="422.9">80.00</text>
<text x="665.3" y="439.8">90.00</text>
<text x="665.3" y="456.7">100.00</text>
</g>
<text x="656.4" y="260.1" text-anchor="middle" font-weight="bold" font-size="11.7">荧光强度</text>
<text x="312" y="498.0" text-anchor="middle" font-weight="bold" font-size="11.7">荧光强度</text>
<text x="655" y="498.0" text-anchor="middle" font-weight="bold" font-size="11.7">荧光强度</text>
</svg></body></html>
